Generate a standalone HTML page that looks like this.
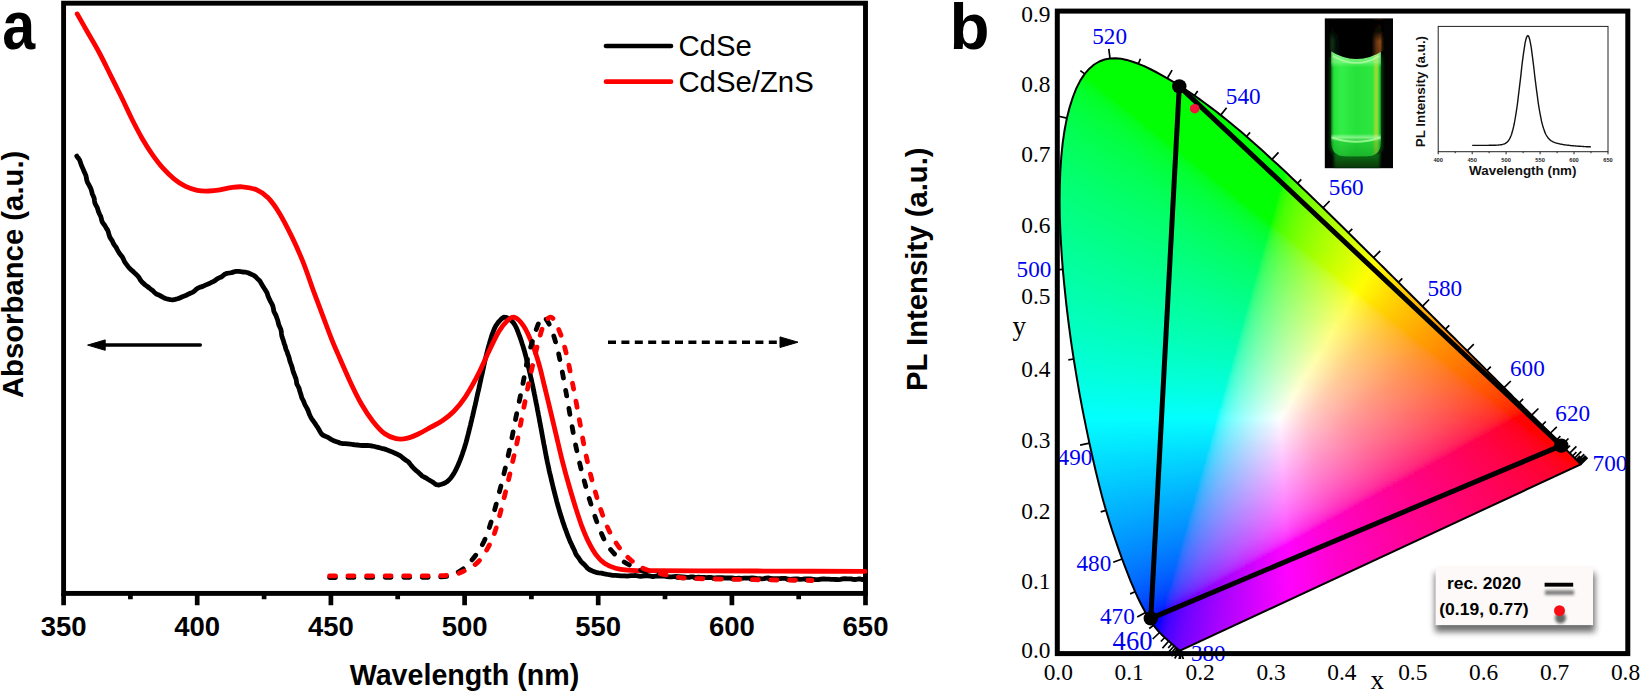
<!DOCTYPE html>
<html lang="en"><head><meta charset="utf-8"><title>CdSe / CdSe-ZnS absorbance, PL and CIE chromaticity</title>
<style>html,body{margin:0;padding:0;background:#fff}body{width:1641px;height:692px;overflow:hidden}svg{display:block}</style>
</head><body>
<svg width="1641" height="692" viewBox="0 0 1641 692">
<rect width="1641" height="692" fill="#fff"/>
<g id="panel-a">
<rect x="63.6" y="3.2" width="801.9" height="590.2" fill="none" stroke="#000" stroke-width="4.9"/>
<path d="M63.6 593.4V605.3M130.4 593.4V599.3M197.2 593.4V605.3M264.1 593.4V599.3M330.9 593.4V605.3M397.7 593.4V599.3M464.6 593.4V605.3M531.4 593.4V599.3M598.2 593.4V605.3M665 593.4V599.3M731.9 593.4V605.3M798.7 593.4V599.3M865.5 593.4V605.3" stroke="#000" stroke-width="4.7" fill="none"/>
<g font-family="'Liberation Sans', Arial, Helvetica, sans-serif" font-weight="700" font-size="27.5" text-anchor="middle" fill="#000">
<text x="63.6" y="636.4">350</text>
<text x="197.2" y="636.4">400</text>
<text x="330.9" y="636.4">450</text>
<text x="464.6" y="636.4">500</text>
<text x="598.2" y="636.4">550</text>
<text x="731.9" y="636.4">600</text>
<text x="865.5" y="636.4">650</text>
</g>
<text x="464.5" y="684.8" font-family="'Liberation Sans', Arial, Helvetica, sans-serif" font-weight="700" font-size="28.65" text-anchor="middle">Wavelength (nm)</text>
<text transform="translate(23.3 274.4) rotate(-90)" font-family="'Liberation Sans', Arial, Helvetica, sans-serif" font-weight="700" font-size="29.3" text-anchor="middle">Absorbance (a.u.)</text>
<text transform="translate(926.8 269.2) rotate(-90)" font-family="'Liberation Sans', Arial, Helvetica, sans-serif" font-weight="700" font-size="29.3" text-anchor="middle">PL Intensity (a.u.)</text>
<text transform="translate(2.2 49.3) scale(.87 1)" font-family="'Liberation Sans', Arial, Helvetica, sans-serif" font-weight="700" font-size="68">a</text>
<text x="949.5" y="48.5" font-family="'Liberation Sans', Arial, Helvetica, sans-serif" font-weight="700" font-size="65.5">b</text>
<g fill="none" stroke-width="4.8" stroke-linecap="round" stroke-linejoin="round">
<path d="M76.8 156.1L77.4 157.2L78.6 158.5L79.6 160L80.3 162L81 164.1L81.9 166.3L82.9 168.6L83.9 171L85 173.4L86 175.8L86.4 178.3L86.9 180.7L87.7 182.8L88.9 184.8L90 186.9L91 189.1L91.7 191.4L92.3 193.9L93.3 196.1L94.2 198.3L94.5 200.8L94.9 203.2L95.9 205.3L97.1 207.2L97.8 209.3L98.5 211.8L99.5 214L100.6 216.1L101.3 218.4L101.8 220.7L102.7 222.8L104.2 224.6L105.4 226.5L106.4 228.4L107.6 230.2L108.4 232.2L109 234.7L109.8 237.1L111.1 239.1L112.4 241.1L113.3 243.3L114.5 245.3L116 247.1L117 249.1L118.1 251.1L119.4 253.3L120.9 255.2L122.4 257.1L123.5 259.3L124.5 261.6L125.9 263.6L127.4 265.6L128.9 267.6L130.6 269.3L132.4 270.8L134.1 272.5L136 274.2L137.7 275.9L139.2 277.8L140.4 280L141.8 281.9L143.5 283.4L145.4 285.1L147.4 286.5L149.3 288L151.1 289.5L153 290.8L154.5 292.5L156.2 293.9L158.2 294.7L160.7 296L163.1 297.3L165.5 298.5L168 299.2L170.4 299.6L172.7 299.8L175.2 299.4L177.4 298.8L179.6 298.1L181.8 297L184.3 296.1L186.2 295.3L188.2 294.2L190.3 293.3L192.5 292.4L194.5 291L196.3 289.3L198.2 287.9L200.5 287.1L202.8 286.4L204.9 285.4L207.1 284.4L209.2 283.6L211.2 282.5L213.2 281.6L215.3 280.4L217.1 278.9L219.2 277.8L221.3 277L223 275.7L224.6 274.2L227 273.4L229.4 273L231.7 272.6L234 271.9L236.3 271.3L238.6 271.3L241 271.7L243.4 272L245.7 272.2L248 272.8L250.1 273.7L252.1 274.6L254.2 275.6L256 277.1L257.7 279L259.2 280.3L260.5 282L261.6 284.1L262.9 286.2L264.2 288.3L265.7 290.6L267.1 293L267.7 295.1L268.5 297.3L269.5 299.4L270.6 301.6L271.8 303.7L272.8 306L273.4 308.6L273.8 311.2L274.9 313.5L276 315.5L276.7 317.7L277.6 320L278.2 322.4L278.8 324.8L279.8 327.1L280.8 329.3L281.3 331.6L281.5 333.8L281.8 335.8L282.3 337.6L283.3 340.3L283.8 342.1L284.2 343.7L285 345.7L285.9 349.2L286.6 350.7L287.3 352.4L287.8 354.3L288.7 356.3L289.3 358.4L289.8 360.7L290.6 363L291.5 365.3L292.2 367.7L292.8 370.1L293.5 372.5L294.4 374.7L295.2 376.8L296 378.9L296.4 380.9L296.7 383.6L297.9 386L299.1 388.4L299.7 390.9L300.5 393.2L301.2 395.5L301.8 397.8L302.9 399.8L303.8 401.7L304.5 403.6L305.3 405.4L306.9 408.1L308 410.4L308.8 412.7L309.6 414.8L310.6 416.8L311.7 418.8L313.2 420.9L314.8 423.1L316.2 425.3L317.7 427.4L318.9 429.4L319.8 431.3L321.2 433.5L322.7 435L324.7 436L326.9 436.9L328.9 437.9L331 439.3L333.2 440.5L335.7 441.4L338.3 442.3L340.4 443.2L342.8 443.6L345.3 443.6L347.8 443.8L350.3 444.1L352.7 444.5L355.1 444.8L357.5 445L359.9 445.3L362.3 445.5L364.8 445.5L367.2 445.5L369.6 445.7L372.1 446L374.6 446.5L377 447.2L379.3 447.7L381.5 448.3L384.1 448.9L386.4 449.6L388.6 450.6L390.9 451.4L393.2 452.4L395.1 453.2L397.1 454.1L399 455.1L400.9 456.3L402.6 457.8L404.5 459.2L406.3 460.5L408.3 461.8L409.8 463.6L411.3 465.6L412.9 467.4L414.5 469.1L416.2 470.7L418.2 472.2L420.1 474L421.9 475.8L424 477L426.1 478L427.9 479.2L430.4 480.7L432.6 482L434.5 483.4L436.4 484.7L439 485L441.4 484.3L443.8 483.5L445.6 482.6L447.4 481.4L449.2 479.8L451 477.7L452.2 476L453.4 474.2L454.6 472.1L455.8 469.8L457 467.4L458.2 464.7L459 462.8L459.8 460.9L460.6 458.8L461.4 456.7L462.2 454.5L463 452.1L463.8 449.7L464.6 447.2L465.4 444.5L466 442.6L466.5 440.6L467.1 438.5L467.6 436.3L468.2 434.2L468.8 431.9L469.3 429.6L469.9 427.3L470.5 425L471 422.6L471.6 420.3L472.1 417.9L472.7 415.6L473.2 413.4L473.7 411.2L474.2 409L474.8 406.7L475.3 404.5L475.8 402.2L476.3 399.9L476.8 397.6L477.3 395.3L477.8 393L478.4 390.7L478.9 388.4L479.4 386.1L479.9 383.8L480.4 381.5L480.9 379.2L481.4 376.8L482 374.5L482.5 372.1L483 369.7L483.5 367.4L484 365L484.5 362.7L485 360.5L485.6 358.2L486.1 356.1L486.6 354L487.1 352L487.8 349.3L488.5 346.6L489.3 344L490 341.5L490.7 339.1L491.4 336.8L492.1 334.6L492.9 332.5L493.6 330.6L494.3 328.9L495.8 325.9L497.4 323.5L498.9 321.6L500.3 320.1L501.6 318.8L503.8 317.2L505.7 317.3L508.3 318.2L511 320.2L512.3 321.5L513.5 322.9L514.8 324.8L516.3 327.8L517 329.3L517.7 331.1L518.4 333L519.2 335.1L520 337.2L520.8 339.5L521.6 341.9L522.3 344.2L523.1 346.6L523.8 349L524.4 351L525 353.1L525.5 355.2L526.1 357.3L526.6 359.5L527.2 361.7L527.7 363.9L528.2 366.2L528.8 368.4L529.3 370.6L529.8 372.8L530.3 375L530.8 377.2L531.3 379.3L531.7 381.4L532.2 383.5L532.7 385.6L533.1 387.8L533.5 389.9L534 392L534.4 394.2L534.9 396.4L535.3 398.7L535.8 401L536.2 403.2L536.7 405.4L537.1 407.6L537.5 409.9L538 412.2L538.4 414.5L538.9 416.9L539.3 419.2L539.7 421.6L540.2 423.9L540.6 426.3L541.1 428.7L541.5 431L541.9 433.2L542.3 435.4L542.7 437.6L543.1 439.8L543.5 442L543.9 444.2L544.4 446.5L544.8 448.7L545.2 450.9L545.6 453.1L546 455.3L546.4 457.4L546.9 459.6L547.3 461.7L547.8 464L548.3 466.2L548.8 468.5L549.2 470.7L549.7 472.9L550.3 475.1L550.8 477.3L551.3 479.5L551.8 481.6L552.3 483.7L552.8 485.8L553.3 487.9L553.8 489.9L554.4 492.2L555 494.6L555.6 496.8L556.2 499.1L556.7 501.3L557.3 503.4L557.9 505.5L558.5 507.6L559.1 509.7L559.7 511.7L560.3 513.7L561 516.1L561.8 518.4L562.5 520.7L563.2 522.9L564 525.1L564.7 527.2L565.4 529.2L566.2 531.2L566.9 533.2L567.8 535.6L568.7 537.9L569.6 540.1L570.5 542.3L571.5 544.3L572.4 546.4L573.4 548.4L574.6 550.8L575.5 553.2L576.8 555.5L578.4 557.5L579.7 559.5L580.9 561.4L582.6 563.2L584.4 564.7L585.9 566.3L587.4 568.1L589.3 569.5L591.4 570.6L593.6 571.4L595.9 572.3L598.5 572.8L601.5 573.2L603.5 573.7L605.6 574.1L607.8 574.5L610.2 574.9L612.6 575.3L615.3 575.4L618.1 575.6L621 575.9L622.9 575.9L624.9 575.9L626.9 576.1L629 575.9L631.2 575.7L633.4 575.6L635.6 575.5L637.9 575.9L640.3 576.3L642.7 576L645.1 575.8L647.5 575.7L650 576L652 576.5L653.9 576.5L655.7 576.2L657.6 576.1L659.4 576.1L661.2 576L663.1 576L665 576.2L667 576.6L669.2 576.8L671.5 576.8L673.9 576.6L676.5 576.5L679.4 576.6L682.4 576.8L685.7 577.2L687.4 577.3L689.1 577.3L690.9 576.9L692.7 576.8L694.5 577.3L696.4 577.5L698.4 577.1L700.3 577.3L702.3 577.5L704.4 577.5L706.5 577.7L708.6 577.5L710.7 577.4L712.9 577.8L715.1 577.8L717.4 577.7L719.7 577.7L722 577.7L724.3 578L726.7 578L729.1 577.9L731.5 578L734 578.2L736.5 578.3L739 578.2L741.5 578.3L744.1 578.2L746.7 578.1L749.3 578.1L752 578L754.6 578.2L757.3 578.6L760 578.7L761.9 578.8L764 578.7L766 578.2L768.2 578L770.4 578.3L772.7 578.6L775 578.6L777.3 578.6L779.7 578.7L782.2 578.3L784.7 578.3L787.2 578.9L789.7 579.4L792.3 579.1L794.9 578.8L797.5 579L800.1 579.3L802.7 579.2L805.4 578.9L808 578.8L810.6 579L813.2 579.3L815.8 579.7L818.4 579.7L821 579.1L823.6 578.9L826.1 579.1L828.6 579.2L831.1 579.3L833.5 579.4L835.9 579.5L838.2 579.6L840.5 579.3L842.7 578.9L844.9 578.7L847 578.8L849 578.8L851 578.9L852.9 579.4L854.7 579.5L856.5 579.3L858.1 579L859.7 578.9L861.2 579.3L862.6 579.5L863.8 579.2L865 579.3" stroke="#000"/>
<path d="M77.2 13.9C78.9 16.9 83.7 25.4 87.3 31.8C90.9 38.1 95 44.8 98.9 52C102.8 59.2 106.7 67.4 110.5 75.1C114.3 82.8 118.4 90.9 122 98.3C125.6 105.7 128.7 112.8 132.1 119.5C135.5 126.2 138.9 132.8 142.3 138.7C145.7 144.5 149 149.8 152.4 154.6C155.8 159.4 158.9 163.6 162.5 167.6C166.1 171.6 170.2 175.7 174 178.8C177.8 181.9 181.7 184.5 185.6 186.4C189.5 188.3 193.3 189.5 197.2 190.3C201 191.1 204.9 191.1 208.7 191C212.5 190.9 216.4 190.4 220 189.8C223.6 189.2 226.8 188.2 230.5 187.7C234.2 187.2 237.8 186.5 242.1 186.8C246.4 187.1 252.2 187.9 256.5 189.7C260.8 191.5 264.2 193.8 268.1 197.8C272 201.8 275.9 207.4 279.7 213.7C283.5 220 287.3 227.5 291.2 235.4C295.1 243.3 298.9 251.8 302.8 261.4C306.7 271 310.9 284 314.3 293.2C317.7 302.4 320.1 308.6 323 316.3C325.9 324 329.1 333 331.7 339.4C334.2 345.8 335.3 348 338.3 354.9C341.3 361.8 346 372.7 349.8 380.9C353.6 389.1 357.5 397.2 361.4 404C365.3 410.8 369.1 416.5 373 421.4C376.9 426.3 380.6 430.6 384.5 433.5C388.4 436.4 392.2 437.9 396.1 438.7C400 439.5 403.8 439.1 407.6 438.2C411.5 437.3 415.3 435.3 419.2 433.5C423.1 431.7 426.9 429.3 430.8 427.2C434.7 425.1 438.5 423.4 442.3 420.8C446.1 418.2 450 415.3 453.9 411.3C457.8 407.3 461.5 402.6 465.4 396.8C469.2 391 473.1 384.1 477 376.6C480.9 369.1 485 359.5 488.6 352C492.2 344.5 495.6 337 498.7 331.8C501.8 326.6 504.7 323.2 507.3 320.8C509.9 318.4 511.6 316.4 514.4 317.3C517.1 318.2 520.8 321.7 523.8 326.3C526.8 330.9 530 338.4 532.5 344.7C535 351 537 357.3 539 364.2C541 371.1 542.6 378.5 544.4 385.9C546.2 393.3 548.1 401 549.9 408.6C551.7 416.2 553.2 422.5 555.3 431.4C557.4 440.2 560.2 452.7 562.5 461.7C564.8 470.7 566.8 477.9 569 485.5C571.2 493.1 573.3 500.3 575.5 507.2C577.7 514.1 579.8 520.9 582 526.7C584.2 532.5 586.1 537.2 588.5 541.9C590.9 546.6 593.4 551.3 596.1 554.9C598.8 558.5 601.5 561.4 604.8 563.6C608 565.8 611.8 567.2 615.6 568.3C619.4 569.4 621.8 569.7 627.5 570.1C633.2 570.5 637.9 570.6 650 570.7C662.1 570.8 678.3 570.7 700 570.8C721.7 570.9 752.5 571 780 571.1C807.5 571.2 850.8 571.4 865 571.4" stroke="#f00"/>
<path d="M329.6 577.5C341.3 577.5 381.6 577.4 400 577.3C418.4 577.2 431.3 577.5 440 577C448.7 576.5 448.1 575.9 452 574.5C455.9 573.1 459.4 572 463.4 568.8C467.4 565.6 472.2 560 475.8 555.1C479.4 550.2 482.2 545.5 484.9 539.5C487.6 533.5 489.2 528.2 492 519C494.8 509.8 498.5 495.6 501.4 484C504.3 472.4 507.1 460.8 509.5 449.6C511.9 438.4 514.1 426.5 516 417C517.9 407.5 519.6 399.6 521.1 392.5C522.6 385.4 523.5 380.6 524.7 374.5C525.9 368.4 526.8 361.7 528.3 355.7C529.8 349.7 531.6 343.9 533.4 338.3C535.2 332.7 537.4 325.5 539.2 322C541 318.5 542.3 316.4 544.2 317.3C546.1 318.2 548.6 322.7 550.7 327.5C552.8 332.3 555.1 340.2 556.8 346.3C558.5 352.4 559.5 358 560.8 364.3C562.1 370.6 563.4 377.9 564.5 383.9C565.6 389.9 566.4 394.4 567.5 400.5C568.6 406.6 569.8 413.9 571 420.5C572.2 427.1 573.3 433.5 574.6 440C575.9 446.5 577.4 453.4 578.8 459.5C580.2 465.6 581.6 471.1 583.1 476.7C584.6 482.3 586 487.4 587.6 493C589.2 498.6 591 504.6 593 510.5C595 516.4 596.9 522.5 599.4 528.5C601.9 534.5 604.4 541 608 546.2C611.6 551.4 616.1 555.9 621 559.7C625.9 563.5 632 566.5 637.5 568.8C643 571.1 647.8 572.4 653.8 573.7C659.8 575.1 666 576.1 673.4 576.9C680.8 577.6 674.9 577.7 698 578.2C721.1 578.7 793 579.7 812 580" stroke="#000" stroke-dasharray="5.9 12.6"/>
<path d="M329.6 575.8C341.3 575.8 380.5 575.9 400 575.8C419.5 575.7 435.7 576.1 446.5 575.3C457.3 574.4 459.3 573.1 464.7 570.7C470.1 568.3 474.9 565.3 479 561C483.1 556.7 486.6 550.5 489.5 544.7C492.4 539 493.8 535.8 496.6 526.5C499.4 517.2 503.4 500.6 506.3 489C509.2 477.4 512 464.2 513.7 457C515.4 449.8 515.1 451.8 516.3 446C517.5 440.2 519.4 430.3 521 422C522.6 413.7 524.7 403.1 526.1 396.1C527.5 389.1 528.1 385.9 529.3 380.2C530.5 374.5 531.9 368.6 533.4 362.2C534.9 355.8 536.7 348 538.4 341.9C540.1 335.8 541.6 329.4 543.5 325.3C545.4 321.2 547.9 317.8 549.8 317.2C551.7 316.6 553 318.1 555.1 321.7C557.2 325.3 560.3 333 562.3 339C564.3 345 565.8 351.7 567.3 357.8C568.8 363.9 569.8 369.9 571 375.9C572.2 381.9 573.2 386.6 574.6 394C576 401.4 577.8 411.2 579.4 420C581 428.8 582.7 438.7 584.2 446.5C585.8 454.3 587.1 460.2 588.7 467C590.3 473.8 592.1 480.6 593.9 487C595.7 493.4 597.4 499.4 599.4 505.5C601.4 511.6 603.5 518 605.9 523.5C608.2 529 610.4 533.8 613.5 538.8C616.6 543.8 620.1 549.3 624.3 553.8C628.4 558.3 633.9 562.8 638.4 565.7C642.9 568.6 645.5 569.5 651.3 571.3C657.1 573 665.6 575 673.4 576.2C681.2 577.4 674.9 577.9 698 578.6C721.1 579.3 793 580.2 812 580.5" stroke="#f00" stroke-dasharray="5.9 12.6"/>
</g>
<path d="M200.3 345.1H104" stroke="#000" stroke-width="3.5" stroke-linecap="round" fill="none"/>
<path d="M87.6 345.1L105.2 339.9V350.3Z" fill="#000" stroke="#000" stroke-width="1" stroke-linejoin="round"/>
<path d="M608 342.2H777" stroke="#000" stroke-width="3.4" stroke-dasharray="8 5.4" fill="none"/>
<path d="M798 342.2L780 336.9V347.5Z" fill="#000" stroke="#000" stroke-width="1" stroke-linejoin="round"/>
<path d="M606 46H671" stroke="#000" stroke-width="4.7" stroke-linecap="round"/>
<path d="M606 81.7H671" stroke="#f00" stroke-width="4.7" stroke-linecap="round"/>
<g font-family="'Liberation Sans', Arial, Helvetica, sans-serif" font-size="29.35" fill="#000">
<text x="678.4" y="55.8">CdSe</text>
<text x="678.4" y="91.8">CdSe/ZnS</text>
</g>
</g>
<g id="panel-b">
<defs>
<clipPath id="lc"><path d="M1181.1 650.2L1181.1 650.2L1181.1 650.1L1181.1 650.1L1181.1 650.1L1181.1 650.1L1181 650.2L1181 650.2L1181 650.2L1181 650.2L1180.9 650.2L1180.9 650.2L1180.9 650.2L1180.8 650.2L1180.8 650.2L1180.7 650.2L1180.7 650.2L1180.7 650.2L1180.7 650.2L1180.6 650.3L1180.6 650.3L1180.6 650.3L1180.5 650.3L1180.5 650.3L1180.4 650.3L1180.4 650.3L1180.3 650.3L1180.2 650.3L1180.2 650.3L1180.1 650.3L1180 650.3L1180 650.3L1179.9 650.3L1179.8 650.3L1179.8 650.3L1179.7 650.2L1179.6 650.2L1179.5 650.2L1179.5 650.2L1179.3 650.1L1179.2 650.1L1179.1 650L1178.9 649.9L1178.8 649.8L1178.6 649.7L1178.4 649.6L1178.2 649.4L1178.1 649.3L1177.9 649.1L1177.6 649L1177.4 648.8L1177.2 648.6L1176.9 648.4L1176.6 648.1L1176.3 647.9L1176 647.6L1175.7 647.3L1175.3 647L1175 646.7L1174.6 646.3L1174.2 645.9L1173.8 645.6L1173.4 645.2L1172.9 644.8L1172.4 644.3L1171.9 643.9L1171.3 643.4L1170.7 642.8L1170.1 642.3L1169.4 641.7L1168.7 641.1L1167.9 640.4L1167.2 639.7L1166.4 639L1165.5 638.3L1164.7 637.5L1163.7 636.6L1162.8 635.7L1161.8 634.7L1160.7 633.6L1159.6 632.5L1158.5 631.3L1157.4 630L1156.2 628.6L1154.9 627L1153.6 625.2L1152.2 623.2L1150.7 620.9L1149 618.4L1147.3 615.6L1145.5 612.4L1143.6 609L1141.6 605.3L1139.6 601.2L1137.4 596.7L1135.1 591.7L1132.8 586.2L1130.3 580.3L1127.7 573.7L1125 566.6L1122.1 559L1119.1 550.7L1116 541.7L1112.7 532L1109.4 521.6L1106 510.4L1102.6 498.4L1099.3 485.7L1096 472.3L1092.7 458.1L1089.4 443.1L1086.1 427.4L1082.8 411L1079.6 394.1L1076.6 376.7L1073.7 359L1071 341.1L1068.6 323.2L1066.4 305.1L1064.5 287.1L1062.8 269.3L1061.5 251.7L1060.5 234.5L1059.8 217.8L1059.6 201.7L1059.8 186.2L1060.3 171.1L1061.3 156.7L1062.7 142.9L1064.6 130L1066.9 118.1L1069.7 107.1L1072.9 97L1076.4 88.1L1080.4 80.4L1084.7 73.9L1089.3 68.7L1094.2 64.5L1099.3 61.5L1104.6 59.5L1110 58.4L1115.5 58.2L1121.1 58.7L1126.8 59.9L1132.6 61.7L1138.4 63.8L1144.2 66.2L1150.1 69L1155.9 72L1161.6 75.1L1167.3 78.3L1172.9 81.6L1178.4 85L1183.8 88.4L1189.2 92L1194.5 95.6L1199.8 99.4L1205.1 103.2L1210.3 107.1L1215.5 111L1220.7 115.1L1225.9 119.3L1231.1 123.5L1236.2 127.8L1241.4 132.1L1246.5 136.5L1251.6 141L1256.7 145.5L1261.8 150.1L1266.9 154.7L1272 159.4L1277.1 164.1L1282.2 168.8L1287.3 173.6L1292.4 178.4L1297.5 183.3L1302.6 188.2L1307.7 193L1312.8 198L1317.9 202.9L1323 207.8L1328.1 212.8L1333.2 217.8L1338.3 222.8L1343.4 227.7L1348.4 232.7L1353.5 237.7L1358.5 242.7L1363.6 247.7L1368.6 252.7L1373.6 257.6L1378.6 262.6L1383.6 267.5L1388.5 272.5L1393.5 277.4L1398.4 282.3L1403.2 287.1L1408.1 292L1412.9 296.8L1417.7 301.5L1422.4 306.3L1427.1 311L1431.8 315.6L1436.4 320.2L1440.9 324.7L1445.4 329.2L1449.9 333.7L1454.3 338L1458.6 342.4L1462.9 346.6L1467.1 350.8L1471.2 354.9L1475.3 359L1479.3 363L1483.1 366.8L1486.9 370.6L1490.5 374.2L1494.1 377.7L1497.5 381.2L1500.8 384.5L1504.1 387.7L1507.3 390.9L1510.4 394L1513.4 397.1L1516.4 400L1519.2 402.8L1521.9 405.5L1524.5 408.1L1527 410.5L1529.4 412.9L1531.7 415.2L1533.9 417.4L1536 419.5L1538.1 421.6L1540 423.5L1541.9 425.4L1543.7 427.2L1545.4 428.9L1547 430.5L1548.6 432.1L1550 433.5L1551.5 435L1552.8 436.3L1554.1 437.6L1555.3 438.8L1556.5 440L1557.7 441.1L1558.7 442.2L1559.8 443.2L1560.8 444.2L1561.7 445.2L1562.7 446.1L1563.6 447L1564.5 447.9L1565.3 448.7L1566.1 449.5L1566.9 450.3L1567.6 451.1L1568.3 451.8L1569 452.5L1569.7 453.1L1570.3 453.7L1570.9 454.3L1571.5 454.9L1572 455.4L1572.5 456L1573 456.4L1573.4 456.9L1573.9 457.3L1574.3 457.7L1574.6 458.1L1575 458.4L1575.3 458.8L1575.7 459.1L1576 459.4L1576.3 459.7L1576.5 460L1576.8 460.2L1577 460.5L1577.3 460.7L1577.5 460.9L1577.7 461.1L1577.8 461.3L1578 461.4L1578.1 461.6L1578.3 461.7L1578.4 461.8L1578.5 462L1578.7 462.1L1578.8 462.2L1578.9 462.3L1579 462.5L1579.1 462.6L1579.2 462.7L1579.3 462.8L1579.4 462.9L1579.5 463L1579.6 463.1L1579.7 463.2L1579.8 463.3L1579.9 463.4L1580 463.5L1580.1 463.5L1580.2 463.6L1580.3 463.7L1580.4 463.8L1580.4 463.9L1580.5 463.9L1580.5 464L1580.6 464L1580.6 464.1L1580.7 464.1L1580.7 464.1L1580.7 464.1L1580.7 464.2L1580.8 464.2L1580.8 464.2L1580.8 464.2L1580.8 464.3L1580.8 464.3L1580.8 464.3Z"/></clipPath>
<clipPath id="fc"><rect x="1055" y="9" width="575" height="650"/></clipPath>
<filter id="vb" filterUnits="userSpaceOnUse" x="1040" y="40" width="560" height="630"><feGaussianBlur stdDeviation="0 1.6"/></filter>
<linearGradient id="g0" gradientUnits="userSpaceOnUse" x1="1103.5" x2="1126"><stop offset="0" stop-color="#00ff00"/><stop offset="0.978" stop-color="#00ff00"/></linearGradient><linearGradient id="g1" gradientUnits="userSpaceOnUse" x1="1095.5" x2="1136.5"><stop offset="0" stop-color="#00ff00"/><stop offset="0.976" stop-color="#00ff00"/></linearGradient><linearGradient id="g2" gradientUnits="userSpaceOnUse" x1="1090.5" x2="1144.5"><stop offset="0" stop-color="#00ff00"/><stop offset="1" stop-color="#00ff00"/></linearGradient><linearGradient id="g3" gradientUnits="userSpaceOnUse" x1="1087" x2="1151"><stop offset="0" stop-color="#00ff00"/><stop offset="1" stop-color="#00ff00"/></linearGradient><linearGradient id="g4" gradientUnits="userSpaceOnUse" x1="1084.5" x2="1157"><stop offset="0" stop-color="#00ff00"/><stop offset="0.993" stop-color="#00ff00"/></linearGradient><linearGradient id="g5" gradientUnits="userSpaceOnUse" x1="1082" x2="1162.5"><stop offset="0" stop-color="#00ff00"/><stop offset="0.994" stop-color="#00ff00"/></linearGradient><linearGradient id="g6" gradientUnits="userSpaceOnUse" x1="1080" x2="1168"><stop offset="0" stop-color="#00ff05"/><stop offset="0.045" stop-color="#00ff00"/><stop offset="1" stop-color="#00ff00"/></linearGradient><linearGradient id="g7" gradientUnits="userSpaceOnUse" x1="1078" x2="1173"><stop offset="0" stop-color="#00ff18"/><stop offset="0.042" stop-color="#00ff0f"/><stop offset="0.063" stop-color="#00ff00"/><stop offset="0.989" stop-color="#00ff00"/></linearGradient><linearGradient id="g8" gradientUnits="userSpaceOnUse" x1="1076" x2="1178"><stop offset="0" stop-color="#00ff21"/><stop offset="0.098" stop-color="#00ff0e"/><stop offset="0.118" stop-color="#00ff00"/><stop offset="1" stop-color="#00ff00"/></linearGradient><linearGradient id="g9" gradientUnits="userSpaceOnUse" x1="1074.5" x2="1183"><stop offset="0" stop-color="#00ff27"/><stop offset="0.129" stop-color="#00ff12"/><stop offset="0.166" stop-color="#00ff00"/><stop offset="0.995" stop-color="#00ff00"/></linearGradient><linearGradient id="g10" gradientUnits="userSpaceOnUse" x1="1073.5" x2="1187.5"><stop offset="0" stop-color="#00ff2c"/><stop offset="0.158" stop-color="#00ff14"/><stop offset="0.175" stop-color="#00ff0e"/><stop offset="0.193" stop-color="#00ff00"/><stop offset="1" stop-color="#00ff00"/></linearGradient><linearGradient id="g11" gradientUnits="userSpaceOnUse" x1="1072" x2="1192"><stop offset="0" stop-color="#00ff30"/><stop offset="0.183" stop-color="#00ff17"/><stop offset="0.217" stop-color="#00ff0b"/><stop offset="0.233" stop-color="#00ff00"/><stop offset="1" stop-color="#00ff00"/></linearGradient><linearGradient id="g12" gradientUnits="userSpaceOnUse" x1="1071" x2="1196.5"><stop offset="0" stop-color="#00ff34"/><stop offset="0.191" stop-color="#00ff1c"/><stop offset="0.239" stop-color="#00ff0f"/><stop offset="0.255" stop-color="#00ff00"/><stop offset="0.988" stop-color="#00ff00"/></linearGradient><linearGradient id="g13" gradientUnits="userSpaceOnUse" x1="1070" x2="1201"><stop offset="0" stop-color="#00ff38"/><stop offset="0.229" stop-color="#00ff1a"/><stop offset="0.275" stop-color="#00ff09"/><stop offset="0.29" stop-color="#00ff00"/><stop offset="0.992" stop-color="#00ff00"/></linearGradient><linearGradient id="g14" gradientUnits="userSpaceOnUse" x1="1069" x2="1205"><stop offset="0" stop-color="#00ff3b"/><stop offset="0.235" stop-color="#00ff1f"/><stop offset="0.294" stop-color="#00ff0d"/><stop offset="0.309" stop-color="#00ff00"/><stop offset="1" stop-color="#00ff00"/></linearGradient><linearGradient id="g15" gradientUnits="userSpaceOnUse" x1="1068" x2="1209"><stop offset="0" stop-color="#00ff3e"/><stop offset="0.227" stop-color="#00ff25"/><stop offset="0.312" stop-color="#00ff10"/><stop offset="0.34" stop-color="#00ff00"/><stop offset="0.993" stop-color="#00ff00"/></linearGradient><linearGradient id="g16" gradientUnits="userSpaceOnUse" x1="1067" x2="1213"><stop offset="0" stop-color="#00ff41"/><stop offset="0.26" stop-color="#00ff24"/><stop offset="0.329" stop-color="#00ff12"/><stop offset="0.356" stop-color="#00ff00"/><stop offset="1" stop-color="#00ff00"/></linearGradient><linearGradient id="g17" gradientUnits="userSpaceOnUse" x1="1066" x2="1217"><stop offset="0" stop-color="#00ff44"/><stop offset="0.265" stop-color="#00ff27"/><stop offset="0.344" stop-color="#00ff14"/><stop offset="0.358" stop-color="#00ff0e"/><stop offset="0.371" stop-color="#00ff00"/><stop offset="0.993" stop-color="#00ff00"/></linearGradient><linearGradient id="g18" gradientUnits="userSpaceOnUse" x1="1065.5" x2="1221"><stop offset="0" stop-color="#00ff46"/><stop offset="0.27" stop-color="#00ff2a"/><stop offset="0.36" stop-color="#00ff15"/><stop offset="0.373" stop-color="#00ff0f"/><stop offset="0.386" stop-color="#00ff00"/><stop offset="0.99" stop-color="#00ff00"/></linearGradient><linearGradient id="g19" gradientUnits="userSpaceOnUse" x1="1064.5" x2="1225"><stop offset="0" stop-color="#00ff49"/><stop offset="0.262" stop-color="#00ff2e"/><stop offset="0.374" stop-color="#00ff17"/><stop offset="0.411" stop-color="#00ff00"/><stop offset="0.997" stop-color="#00ff00"/></linearGradient><linearGradient id="g20" gradientUnits="userSpaceOnUse" x1="1064" x2="1228.5"><stop offset="0" stop-color="#00ff4b"/><stop offset="0.28" stop-color="#00ff2f"/><stop offset="0.389" stop-color="#00ff18"/><stop offset="0.413" stop-color="#00ff0c"/><stop offset="0.426" stop-color="#00ff00"/><stop offset="0.997" stop-color="#00ff00"/></linearGradient><linearGradient id="g21" gradientUnits="userSpaceOnUse" x1="1063.5" x2="1232"><stop offset="0" stop-color="#00ff4e"/><stop offset="0.297" stop-color="#00ff2f"/><stop offset="0.404" stop-color="#00ff18"/><stop offset="0.427" stop-color="#00ff0d"/><stop offset="0.439" stop-color="#00ff00"/><stop offset="0.997" stop-color="#00ff00"/></linearGradient><linearGradient id="g22" gradientUnits="userSpaceOnUse" x1="1063" x2="1236"><stop offset="0" stop-color="#00ff50"/><stop offset="0.289" stop-color="#00ff33"/><stop offset="0.405" stop-color="#00ff1d"/><stop offset="0.439" stop-color="#00ff0e"/><stop offset="0.451" stop-color="#00ff00"/><stop offset="0.994" stop-color="#00ff00"/></linearGradient><linearGradient id="g23" gradientUnits="userSpaceOnUse" x1="1062" x2="1239.5"><stop offset="0" stop-color="#00ff52"/><stop offset="0.304" stop-color="#00ff34"/><stop offset="0.428" stop-color="#00ff1b"/><stop offset="0.451" stop-color="#00ff11"/><stop offset="0.473" stop-color="#00ff00"/><stop offset="0.992" stop-color="#00ff00"/></linearGradient><linearGradient id="g24" gradientUnits="userSpaceOnUse" x1="1061.5" x2="1243"><stop offset="0" stop-color="#00ff54"/><stop offset="0.298" stop-color="#00ff38"/><stop offset="0.43" stop-color="#00ff1f"/><stop offset="0.463" stop-color="#00ff12"/><stop offset="0.485" stop-color="#00ff00"/><stop offset="0.992" stop-color="#00ff00"/></linearGradient><linearGradient id="g25" gradientUnits="userSpaceOnUse" x1="1061" x2="1246.5"><stop offset="0" stop-color="#00ff56"/><stop offset="0.313" stop-color="#00ff38"/><stop offset="0.442" stop-color="#00ff1f"/><stop offset="0.485" stop-color="#00ff0b"/><stop offset="0.496" stop-color="#00ff00"/><stop offset="0.992" stop-color="#00ff00"/></linearGradient><linearGradient id="g26" gradientUnits="userSpaceOnUse" x1="1061" x2="1250"><stop offset="0" stop-color="#00ff58"/><stop offset="0.339" stop-color="#00ff37"/><stop offset="0.466" stop-color="#00ff1c"/><stop offset="0.497" stop-color="#00ff0a"/><stop offset="0.508" stop-color="#00ff00"/><stop offset="0.995" stop-color="#00ff00"/></linearGradient><linearGradient id="g27" gradientUnits="userSpaceOnUse" x1="1060.5" x2="1253.5"><stop offset="0" stop-color="#00ff5a"/><stop offset="0.342" stop-color="#00ff39"/><stop offset="0.466" stop-color="#00ff20"/><stop offset="0.508" stop-color="#00ff0b"/><stop offset="0.518" stop-color="#00ff00"/><stop offset="0.995" stop-color="#00ff00"/></linearGradient><linearGradient id="g28" gradientUnits="userSpaceOnUse" x1="1060" x2="1257"><stop offset="0" stop-color="#00ff5c"/><stop offset="0.355" stop-color="#00ff39"/><stop offset="0.477" stop-color="#00ff20"/><stop offset="0.518" stop-color="#00ff0d"/><stop offset="0.528" stop-color="#00ff00"/><stop offset="0.995" stop-color="#00ff00"/></linearGradient><linearGradient id="g29" gradientUnits="userSpaceOnUse" x1="1059.5" x2="1260"><stop offset="0" stop-color="#00ff5e"/><stop offset="0.339" stop-color="#00ff3e"/><stop offset="0.489" stop-color="#00ff21"/><stop offset="0.529" stop-color="#00ff0e"/><stop offset="0.539" stop-color="#00ff00"/><stop offset="0.998" stop-color="#00ff00"/></linearGradient><linearGradient id="g30" gradientUnits="userSpaceOnUse" x1="1059.5" x2="1263.5"><stop offset="0" stop-color="#00ff60"/><stop offset="0.333" stop-color="#00ff41"/><stop offset="0.49" stop-color="#00ff24"/><stop offset="0.539" stop-color="#00ff0d"/><stop offset="0.549" stop-color="#00ff00"/><stop offset="1" stop-color="#00ff00"/></linearGradient><linearGradient id="g31" gradientUnits="userSpaceOnUse" x1="1059" x2="1267"><stop offset="0" stop-color="#00ff62"/><stop offset="0.356" stop-color="#00ff40"/><stop offset="0.5" stop-color="#00ff24"/><stop offset="0.548" stop-color="#00ff0f"/><stop offset="0.558" stop-color="#00ff00"/><stop offset="1" stop-color="#00ff00"/></linearGradient><linearGradient id="g32" gradientUnits="userSpaceOnUse" x1="1058.5" x2="1270"><stop offset="0" stop-color="#00ff64"/><stop offset="0.359" stop-color="#00ff42"/><stop offset="0.511" stop-color="#00ff25"/><stop offset="0.558" stop-color="#00ff10"/><stop offset="0.567" stop-color="#00ff00"/><stop offset="0.993" stop-color="#00ff00"/></linearGradient><linearGradient id="g33" gradientUnits="userSpaceOnUse" x1="1058.5" x2="1273.5"><stop offset="0" stop-color="#00ff65"/><stop offset="0.335" stop-color="#00ff47"/><stop offset="0.502" stop-color="#00ff2a"/><stop offset="0.558" stop-color="#00ff16"/><stop offset="0.567" stop-color="#00ff0f"/><stop offset="0.577" stop-color="#00ff00"/><stop offset="0.995" stop-color="#00ff00"/></linearGradient><linearGradient id="g34" gradientUnits="userSpaceOnUse" x1="1058" x2="1276.5"><stop offset="0" stop-color="#00ff67"/><stop offset="0.348" stop-color="#00ff47"/><stop offset="0.503" stop-color="#00ff2d"/><stop offset="0.568" stop-color="#00ff16"/><stop offset="0.577" stop-color="#00ff10"/><stop offset="0.586" stop-color="#00ff00"/><stop offset="0.998" stop-color="#00ff00"/></linearGradient><linearGradient id="g35" gradientUnits="userSpaceOnUse" x1="1058" x2="1280"><stop offset="0" stop-color="#00ff69"/><stop offset="0.351" stop-color="#00ff49"/><stop offset="0.523" stop-color="#00ff2a"/><stop offset="0.577" stop-color="#00ff16"/><stop offset="0.586" stop-color="#00ff0f"/><stop offset="0.595" stop-color="#00ff00"/><stop offset="1" stop-color="#00ff00"/></linearGradient><linearGradient id="g36" gradientUnits="userSpaceOnUse" x1="1058" x2="1283"><stop offset="0" stop-color="#00ff6a"/><stop offset="0.356" stop-color="#00ff4a"/><stop offset="0.524" stop-color="#00ff2d"/><stop offset="0.587" stop-color="#00ff15"/><stop offset="0.596" stop-color="#00ff0e"/><stop offset="0.604" stop-color="#00ff00"/><stop offset="0.996" stop-color="#00ff00"/></linearGradient><linearGradient id="g37" gradientUnits="userSpaceOnUse" x1="1057.5" x2="1286.5"><stop offset="0" stop-color="#00ff6c"/><stop offset="0.358" stop-color="#00ff4c"/><stop offset="0.541" stop-color="#00ff2b"/><stop offset="0.594" stop-color="#00ff16"/><stop offset="0.603" stop-color="#00ff10"/><stop offset="0.611" stop-color="#00ff00"/><stop offset="0.996" stop-color="#00ff00"/></linearGradient><linearGradient id="g38" gradientUnits="userSpaceOnUse" x1="1057.5" x2="1289.5"><stop offset="0" stop-color="#00ff6e"/><stop offset="0.371" stop-color="#00ff4c"/><stop offset="0.534" stop-color="#00ff2f"/><stop offset="0.603" stop-color="#00ff16"/><stop offset="0.612" stop-color="#00ff0f"/><stop offset="0.621" stop-color="#00ff00"/><stop offset="0.983" stop-color="#00ff00"/><stop offset="0.991" stop-color="#1aff00"/><stop offset="1" stop-color="#28ff00"/></linearGradient><linearGradient id="g39" gradientUnits="userSpaceOnUse" x1="1057.5" x2="1293"><stop offset="0" stop-color="#00ff6f"/><stop offset="0.34" stop-color="#00ff51"/><stop offset="0.518" stop-color="#00ff35"/><stop offset="0.594" stop-color="#00ff1f"/><stop offset="0.62" stop-color="#00ff0e"/><stop offset="0.628" stop-color="#00ff00"/><stop offset="0.968" stop-color="#00ff00"/><stop offset="0.977" stop-color="#21ff00"/><stop offset="0.994" stop-color="#36ff00"/></linearGradient><linearGradient id="g40" gradientUnits="userSpaceOnUse" x1="1057.5" x2="1296"><stop offset="0" stop-color="#00ff71"/><stop offset="0.377" stop-color="#00ff4f"/><stop offset="0.553" stop-color="#00ff2f"/><stop offset="0.612" stop-color="#00ff1a"/><stop offset="0.629" stop-color="#00ff0c"/><stop offset="0.637" stop-color="#00ff00"/><stop offset="0.948" stop-color="#00ff00"/><stop offset="0.964" stop-color="#27ff00"/><stop offset="0.998" stop-color="#47ff00"/></linearGradient><linearGradient id="g41" gradientUnits="userSpaceOnUse" x1="1057" x2="1299"><stop offset="0" stop-color="#00ff73"/><stop offset="0.364" stop-color="#00ff52"/><stop offset="0.545" stop-color="#00ff34"/><stop offset="0.62" stop-color="#00ff1b"/><stop offset="0.636" stop-color="#00ff0e"/><stop offset="0.645" stop-color="#00ff00"/><stop offset="0.934" stop-color="#00ff00"/><stop offset="0.942" stop-color="#1aff00"/><stop offset="0.959" stop-color="#33ff00"/><stop offset="1" stop-color="#54ff00"/></linearGradient><linearGradient id="g42" gradientUnits="userSpaceOnUse" x1="1057" x2="1302.5"><stop offset="0" stop-color="#00ff74"/><stop offset="0.367" stop-color="#00ff54"/><stop offset="0.554" stop-color="#00ff34"/><stop offset="0.619" stop-color="#00ff1f"/><stop offset="0.644" stop-color="#00ff0d"/><stop offset="0.652" stop-color="#00ff00"/><stop offset="0.921" stop-color="#00ff00"/><stop offset="0.929" stop-color="#21ff00"/><stop offset="0.953" stop-color="#3fff00"/><stop offset="0.994" stop-color="#5bff00"/></linearGradient><linearGradient id="g43" gradientUnits="userSpaceOnUse" x1="1057" x2="1305.5"><stop offset="0" stop-color="#00ff76"/><stop offset="0.37" stop-color="#00ff55"/><stop offset="0.555" stop-color="#00ff36"/><stop offset="0.628" stop-color="#00ff1e"/><stop offset="0.652" stop-color="#00ff0c"/><stop offset="0.66" stop-color="#00ff00"/><stop offset="0.901" stop-color="#00ff00"/><stop offset="0.918" stop-color="#27ff00"/><stop offset="0.95" stop-color="#48ff00"/><stop offset="0.998" stop-color="#66ff00"/></linearGradient><linearGradient id="g44" gradientUnits="userSpaceOnUse" x1="1057" x2="1308.5"><stop offset="0" stop-color="#00ff78"/><stop offset="0.374" stop-color="#00ff56"/><stop offset="0.557" stop-color="#00ff38"/><stop offset="0.636" stop-color="#00ff1e"/><stop offset="0.652" stop-color="#00ff14"/><stop offset="0.668" stop-color="#00ff00"/><stop offset="0.891" stop-color="#00ff00"/><stop offset="0.899" stop-color="#1fff00"/><stop offset="0.922" stop-color="#3eff00"/><stop offset="0.978" stop-color="#64ff00"/><stop offset="0.994" stop-color="#6cff00"/></linearGradient><linearGradient id="g45" gradientUnits="userSpaceOnUse" x1="1057" x2="1311.5"><stop offset="0" stop-color="#00ff79"/><stop offset="0.377" stop-color="#00ff58"/><stop offset="0.566" stop-color="#00ff38"/><stop offset="0.644" stop-color="#00ff1e"/><stop offset="0.66" stop-color="#00ff13"/><stop offset="0.676" stop-color="#00ff00"/><stop offset="0.872" stop-color="#00ff00"/><stop offset="0.888" stop-color="#25ff00"/><stop offset="0.919" stop-color="#48ff00"/><stop offset="0.998" stop-color="#76ff00"/></linearGradient><linearGradient id="g46" gradientUnits="userSpaceOnUse" x1="1057" x2="1315"><stop offset="0" stop-color="#00ff7b"/><stop offset="0.388" stop-color="#00ff58"/><stop offset="0.574" stop-color="#00ff38"/><stop offset="0.651" stop-color="#00ff1e"/><stop offset="0.667" stop-color="#00ff12"/><stop offset="0.674" stop-color="#00ff05"/><stop offset="0.69" stop-color="#00ff00"/><stop offset="0.86" stop-color="#00ff00"/><stop offset="0.868" stop-color="#1cff00"/><stop offset="0.891" stop-color="#3dff00"/><stop offset="0.946" stop-color="#64ff00"/><stop offset="1" stop-color="#7fff00"/></linearGradient><linearGradient id="g47" gradientUnits="userSpaceOnUse" x1="1057" x2="1318"><stop offset="0" stop-color="#00ff7c"/><stop offset="0.368" stop-color="#00ff5c"/><stop offset="0.567" stop-color="#00ff3c"/><stop offset="0.644" stop-color="#00ff25"/><stop offset="0.674" stop-color="#00ff11"/><stop offset="0.682" stop-color="#00ff00"/><stop offset="0.843" stop-color="#00ff00"/><stop offset="0.851" stop-color="#0bff00"/><stop offset="0.858" stop-color="#23ff00"/><stop offset="0.889" stop-color="#47ff00"/><stop offset="0.95" stop-color="#6eff00"/><stop offset="0.996" stop-color="#84ff00"/></linearGradient><linearGradient id="g48" gradientUnits="userSpaceOnUse" x1="1057" x2="1321"><stop offset="0" stop-color="#00ff7e"/><stop offset="0.394" stop-color="#00ff5b"/><stop offset="0.591" stop-color="#00ff39"/><stop offset="0.667" stop-color="#00ff1d"/><stop offset="0.682" stop-color="#00ff11"/><stop offset="0.689" stop-color="#00ff00"/><stop offset="0.833" stop-color="#00ff00"/><stop offset="0.841" stop-color="#19ff00"/><stop offset="0.856" stop-color="#33ff00"/><stop offset="0.894" stop-color="#55ff00"/><stop offset="1" stop-color="#8dff00"/></linearGradient><linearGradient id="g49" gradientUnits="userSpaceOnUse" x1="1057" x2="1324"><stop offset="0" stop-color="#00ff7f"/><stop offset="0.375" stop-color="#00ff5f"/><stop offset="0.569" stop-color="#00ff40"/><stop offset="0.659" stop-color="#00ff25"/><stop offset="0.689" stop-color="#00ff10"/><stop offset="0.697" stop-color="#00ff00"/><stop offset="0.824" stop-color="#00ff00"/><stop offset="0.831" stop-color="#21ff00"/><stop offset="0.854" stop-color="#3fff00"/><stop offset="0.906" stop-color="#66ff00"/><stop offset="0.996" stop-color="#92ff00"/></linearGradient><linearGradient id="g50" gradientUnits="userSpaceOnUse" x1="1057" x2="1327"><stop offset="0" stop-color="#00ff81"/><stop offset="0.385" stop-color="#00ff5f"/><stop offset="0.578" stop-color="#00ff40"/><stop offset="0.667" stop-color="#00ff24"/><stop offset="0.696" stop-color="#00ff0f"/><stop offset="0.704" stop-color="#00ff00"/><stop offset="0.807" stop-color="#00ff00"/><stop offset="0.822" stop-color="#27ff00"/><stop offset="0.852" stop-color="#49ff00"/><stop offset="0.919" stop-color="#75ff00"/><stop offset="1" stop-color="#9aff00"/></linearGradient><linearGradient id="g51" gradientUnits="userSpaceOnUse" x1="1057" x2="1330"><stop offset="0" stop-color="#00ff82"/><stop offset="0.366" stop-color="#00ff63"/><stop offset="0.571" stop-color="#00ff44"/><stop offset="0.667" stop-color="#00ff28"/><stop offset="0.696" stop-color="#00ff16"/><stop offset="0.711" stop-color="#00ff00"/><stop offset="0.799" stop-color="#00ff00"/><stop offset="0.806" stop-color="#1eff00"/><stop offset="0.828" stop-color="#3fff00"/><stop offset="0.879" stop-color="#66ff00"/><stop offset="0.982" stop-color="#98ff00"/><stop offset="0.996" stop-color="#9eff00"/></linearGradient><linearGradient id="g52" gradientUnits="userSpaceOnUse" x1="1057" x2="1333.5"><stop offset="0" stop-color="#00ff84"/><stop offset="0.391" stop-color="#00ff62"/><stop offset="0.593" stop-color="#00ff41"/><stop offset="0.68" stop-color="#00ff24"/><stop offset="0.709" stop-color="#00ff0c"/><stop offset="0.716" stop-color="#00ff00"/><stop offset="0.781" stop-color="#00ff00"/><stop offset="0.788" stop-color="#0fff00"/><stop offset="0.796" stop-color="#25ff00"/><stop offset="0.825" stop-color="#49ff00"/><stop offset="0.897" stop-color="#79ff00"/><stop offset="0.998" stop-color="#a6ff00"/></linearGradient><linearGradient id="g53" gradientUnits="userSpaceOnUse" x1="1057" x2="1336.5"><stop offset="0" stop-color="#00ff86"/><stop offset="0.386" stop-color="#00ff64"/><stop offset="0.587" stop-color="#00ff44"/><stop offset="0.673" stop-color="#00ff2b"/><stop offset="0.708" stop-color="#00ff15"/><stop offset="0.723" stop-color="#00ff00"/><stop offset="0.773" stop-color="#00ff00"/><stop offset="0.78" stop-color="#1bff00"/><stop offset="0.794" stop-color="#35ff00"/><stop offset="0.83" stop-color="#57ff00"/><stop offset="0.902" stop-color="#82ff00"/><stop offset="0.995" stop-color="#abff00"/></linearGradient><linearGradient id="g54" gradientUnits="userSpaceOnUse" x1="1057" x2="1339.5"><stop offset="0" stop-color="#00ff87"/><stop offset="0.375" stop-color="#00ff67"/><stop offset="0.588" stop-color="#00ff46"/><stop offset="0.68" stop-color="#00ff2a"/><stop offset="0.715" stop-color="#00ff14"/><stop offset="0.729" stop-color="#00ff00"/><stop offset="0.765" stop-color="#00ff00"/><stop offset="0.772" stop-color="#22ff00"/><stop offset="0.793" stop-color="#41ff00"/><stop offset="0.85" stop-color="#6dff00"/><stop offset="0.977" stop-color="#aaff00"/><stop offset="0.998" stop-color="#b2ff00"/></linearGradient><linearGradient id="g55" gradientUnits="userSpaceOnUse" x1="1057" x2="1342.5"><stop offset="0" stop-color="#00ff89"/><stop offset="0.392" stop-color="#00ff67"/><stop offset="0.602" stop-color="#00ff45"/><stop offset="0.694" stop-color="#00ff27"/><stop offset="0.722" stop-color="#00ff13"/><stop offset="0.729" stop-color="#00ff04"/><stop offset="0.75" stop-color="#00ff00"/><stop offset="0.764" stop-color="#28ff00"/><stop offset="0.785" stop-color="#44ff00"/><stop offset="0.841" stop-color="#6fff00"/><stop offset="0.967" stop-color="#acff00"/><stop offset="0.995" stop-color="#b7ff00"/></linearGradient><linearGradient id="g56" gradientUnits="userSpaceOnUse" x1="1057" x2="1345.5"><stop offset="0" stop-color="#00ff8a"/><stop offset="0.381" stop-color="#00ff6a"/><stop offset="0.596" stop-color="#00ff48"/><stop offset="0.686" stop-color="#00ff2d"/><stop offset="0.721" stop-color="#00ff1a"/><stop offset="0.728" stop-color="#00ff12"/><stop offset="0.735" stop-color="#00ff00"/><stop offset="0.742" stop-color="#00ff00"/><stop offset="0.749" stop-color="#20ff00"/><stop offset="0.763" stop-color="#38ff00"/><stop offset="0.804" stop-color="#5fff00"/><stop offset="0.894" stop-color="#92ff00"/><stop offset="0.998" stop-color="#beff00"/></linearGradient><linearGradient id="g57" gradientUnits="userSpaceOnUse" x1="1057.5" x2="1348.5"><stop offset="0" stop-color="#00ff8c"/><stop offset="0.392" stop-color="#00ff6a"/><stop offset="0.598" stop-color="#00ff4a"/><stop offset="0.694" stop-color="#00ff2d"/><stop offset="0.729" stop-color="#00ff17"/><stop offset="0.735" stop-color="#19ff0f"/><stop offset="0.742" stop-color="#2aff00"/><stop offset="0.77" stop-color="#4cff00"/><stop offset="0.832" stop-color="#78ff00"/><stop offset="0.962" stop-color="#b6ff00"/><stop offset="0.997" stop-color="#c3ff00"/></linearGradient><linearGradient id="g58" gradientUnits="userSpaceOnUse" x1="1057.5" x2="1351.5"><stop offset="0" stop-color="#00ff8d"/><stop offset="0.381" stop-color="#00ff6d"/><stop offset="0.592" stop-color="#00ff4d"/><stop offset="0.701" stop-color="#00ff2d"/><stop offset="0.721" stop-color="#00ff22"/><stop offset="0.728" stop-color="#21ff1d"/><stop offset="0.741" stop-color="#39ff0d"/><stop offset="0.748" stop-color="#41ff00"/><stop offset="0.789" stop-color="#65ff00"/><stop offset="0.884" stop-color="#9aff00"/><stop offset="1" stop-color="#caff00"/></linearGradient><linearGradient id="g59" gradientUnits="userSpaceOnUse" x1="1057.5" x2="1354.5"><stop offset="0" stop-color="#00ff8f"/><stop offset="0.397" stop-color="#00ff6d"/><stop offset="0.606" stop-color="#00ff4c"/><stop offset="0.707" stop-color="#00ff2d"/><stop offset="0.721" stop-color="#28ff26"/><stop offset="0.741" stop-color="#45ff16"/><stop offset="0.754" stop-color="#52ff00"/><stop offset="0.822" stop-color="#80ff00"/><stop offset="0.963" stop-color="#c2ff00"/><stop offset="0.997" stop-color="#cfff00"/></linearGradient><linearGradient id="g60" gradientUnits="userSpaceOnUse" x1="1057.5" x2="1357.5"><stop offset="0" stop-color="#00ff90"/><stop offset="0.367" stop-color="#00ff72"/><stop offset="0.607" stop-color="#00ff4e"/><stop offset="0.7" stop-color="#00ff32"/><stop offset="0.707" stop-color="#1fff30"/><stop offset="0.727" stop-color="#41ff25"/><stop offset="0.747" stop-color="#55ff15"/><stop offset="0.76" stop-color="#60ff00"/><stop offset="0.847" stop-color="#94ff00"/><stop offset="1" stop-color="#d6ff00"/></linearGradient><linearGradient id="g61" gradientUnits="userSpaceOnUse" x1="1058" x2="1360.5"><stop offset="0" stop-color="#00ff92"/><stop offset="0.39" stop-color="#00ff71"/><stop offset="0.615" stop-color="#00ff4e"/><stop offset="0.688" stop-color="#00ff39"/><stop offset="0.701" stop-color="#29ff34"/><stop offset="0.727" stop-color="#4dff28"/><stop offset="0.754" stop-color="#63ff12"/><stop offset="0.76" stop-color="#68ff00"/><stop offset="0.846" stop-color="#9aff00"/><stop offset="0.998" stop-color="#dbff00"/></linearGradient><linearGradient id="g62" gradientUnits="userSpaceOnUse" x1="1058" x2="1364"><stop offset="0" stop-color="#00ff93"/><stop offset="0.379" stop-color="#00ff74"/><stop offset="0.608" stop-color="#00ff51"/><stop offset="0.68" stop-color="#00ff3e"/><stop offset="0.686" stop-color="#20ff3c"/><stop offset="0.699" stop-color="#39ff37"/><stop offset="0.739" stop-color="#61ff24"/><stop offset="0.758" stop-color="#6fff11"/><stop offset="0.765" stop-color="#74ff00"/><stop offset="0.882" stop-color="#b2ff00"/><stop offset="1" stop-color="#e2ff00"/></linearGradient><linearGradient id="g63" gradientUnits="userSpaceOnUse" x1="1058" x2="1367"><stop offset="0" stop-color="#00ff95"/><stop offset="0.395" stop-color="#00ff74"/><stop offset="0.621" stop-color="#00ff50"/><stop offset="0.667" stop-color="#00ff44"/><stop offset="0.68" stop-color="#27ff40"/><stop offset="0.699" stop-color="#45ff3a"/><stop offset="0.744" stop-color="#6dff24"/><stop offset="0.764" stop-color="#7aff10"/><stop offset="0.77" stop-color="#7eff00"/><stop offset="0.9" stop-color="#bfff00"/><stop offset="0.997" stop-color="#e7ff00"/></linearGradient><linearGradient id="g64" gradientUnits="userSpaceOnUse" x1="1058.5" x2="1370"><stop offset="0" stop-color="#00ff96"/><stop offset="0.392" stop-color="#00ff76"/><stop offset="0.616" stop-color="#00ff53"/><stop offset="0.661" stop-color="#00ff48"/><stop offset="0.668" stop-color="#22ff46"/><stop offset="0.687" stop-color="#43ff40"/><stop offset="0.732" stop-color="#6cff2e"/><stop offset="0.764" stop-color="#81ff16"/><stop offset="0.777" stop-color="#89ff00"/><stop offset="0.963" stop-color="#e0ff00"/><stop offset="0.995" stop-color="#ecff00"/></linearGradient><linearGradient id="g65" gradientUnits="userSpaceOnUse" x1="1058.5" x2="1373"><stop offset="0" stop-color="#00ff98"/><stop offset="0.388" stop-color="#00ff78"/><stop offset="0.63" stop-color="#00ff52"/><stop offset="0.649" stop-color="#00ff4d"/><stop offset="0.661" stop-color="#29ff4a"/><stop offset="0.687" stop-color="#4dff42"/><stop offset="0.738" stop-color="#77ff2e"/><stop offset="0.769" stop-color="#8bff16"/><stop offset="0.782" stop-color="#92ff00"/><stop offset="0.954" stop-color="#e2ff00"/><stop offset="0.998" stop-color="#f4ff00"/></linearGradient><linearGradient id="g66" gradientUnits="userSpaceOnUse" x1="1058.5" x2="1376"><stop offset="0" stop-color="#00ff99"/><stop offset="0.384" stop-color="#00ff7a"/><stop offset="0.598" stop-color="#00ff5a"/><stop offset="0.643" stop-color="#00ff51"/><stop offset="0.649" stop-color="#1fff4f"/><stop offset="0.661" stop-color="#39ff4c"/><stop offset="0.693" stop-color="#5cff43"/><stop offset="0.756" stop-color="#89ff26"/><stop offset="0.775" stop-color="#94ff15"/><stop offset="0.781" stop-color="#98ff04"/><stop offset="0.806" stop-color="#a5ff00"/><stop offset="0.995" stop-color="#f8ff00"/></linearGradient><linearGradient id="g67" gradientUnits="userSpaceOnUse" x1="1059" x2="1379"><stop offset="0" stop-color="#00ff9b"/><stop offset="0.381" stop-color="#00ff7c"/><stop offset="0.606" stop-color="#00ff5b"/><stop offset="0.631" stop-color="#00ff55"/><stop offset="0.644" stop-color="#2aff52"/><stop offset="0.669" stop-color="#4fff4c"/><stop offset="0.731" stop-color="#81ff36"/><stop offset="0.775" stop-color="#9bff1a"/><stop offset="0.781" stop-color="#9eff11"/><stop offset="0.787" stop-color="#a1ff00"/><stop offset="0.969" stop-color="#f4ff00"/><stop offset="1" stop-color="#fffe00"/></linearGradient><linearGradient id="g68" gradientUnits="userSpaceOnUse" x1="1059" x2="1382"><stop offset="0" stop-color="#00ff9c"/><stop offset="0.396" stop-color="#00ff7c"/><stop offset="0.601" stop-color="#00ff5e"/><stop offset="0.625" stop-color="#00ff59"/><stop offset="0.632" stop-color="#21ff57"/><stop offset="0.644" stop-color="#3aff54"/><stop offset="0.675" stop-color="#5eff4c"/><stop offset="0.749" stop-color="#92ff31"/><stop offset="0.78" stop-color="#a3ff19"/><stop offset="0.786" stop-color="#a7ff10"/><stop offset="0.793" stop-color="#aaff00"/><stop offset="0.978" stop-color="#feff00"/><stop offset="0.997" stop-color="#fff900"/></linearGradient><linearGradient id="g69" gradientUnits="userSpaceOnUse" x1="1059.5" x2="1385"><stop offset="0" stop-color="#00ff9e"/><stop offset="0.393" stop-color="#00ff7e"/><stop offset="0.614" stop-color="#00ff5d"/><stop offset="0.621" stop-color="#1aff5b"/><stop offset="0.627" stop-color="#2cff5a"/><stop offset="0.651" stop-color="#50ff54"/><stop offset="0.713" stop-color="#82ff42"/><stop offset="0.774" stop-color="#a6ff24"/><stop offset="0.786" stop-color="#adff17"/><stop offset="0.799" stop-color="#b3ff00"/><stop offset="0.971" stop-color="#fffd00"/><stop offset="0.995" stop-color="#fff400"/></linearGradient><linearGradient id="g70" gradientUnits="userSpaceOnUse" x1="1059.5" x2="1388"><stop offset="0" stop-color="#00ff9f"/><stop offset="0.384" stop-color="#00ff81"/><stop offset="0.609" stop-color="#00ff60"/><stop offset="0.615" stop-color="#23ff5f"/><stop offset="0.633" stop-color="#44ff5b"/><stop offset="0.676" stop-color="#6eff50"/><stop offset="0.755" stop-color="#a2ff33"/><stop offset="0.785" stop-color="#b2ff1e"/><stop offset="0.791" stop-color="#b5ff16"/><stop offset="0.798" stop-color="#b8ff07"/><stop offset="0.804" stop-color="#bbff00"/><stop offset="0.956" stop-color="#fffe00"/><stop offset="0.998" stop-color="#ffed00"/></linearGradient><linearGradient id="g71" gradientUnits="userSpaceOnUse" x1="1060" x2="1391"><stop offset="0" stop-color="#00ffa1"/><stop offset="0.381" stop-color="#00ff83"/><stop offset="0.598" stop-color="#00ff64"/><stop offset="0.604" stop-color="#1cff63"/><stop offset="0.616" stop-color="#39ff60"/><stop offset="0.653" stop-color="#63ff58"/><stop offset="0.725" stop-color="#97ff43"/><stop offset="0.779" stop-color="#b5ff27"/><stop offset="0.798" stop-color="#beff12"/><stop offset="0.804" stop-color="#c1ff00"/><stop offset="0.943" stop-color="#fffd00"/><stop offset="0.997" stop-color="#ffe800"/></linearGradient><linearGradient id="g72" gradientUnits="userSpaceOnUse" x1="1060" x2="1394"><stop offset="0" stop-color="#00ffa3"/><stop offset="0.407" stop-color="#00ff82"/><stop offset="0.593" stop-color="#00ff67"/><stop offset="0.599" stop-color="#25ff66"/><stop offset="0.617" stop-color="#46ff62"/><stop offset="0.659" stop-color="#70ff59"/><stop offset="0.749" stop-color="#aaff3b"/><stop offset="0.79" stop-color="#c0ff21"/><stop offset="0.802" stop-color="#c6ff11"/><stop offset="0.808" stop-color="#c9ff00"/><stop offset="0.928" stop-color="#fffd00"/><stop offset="1" stop-color="#ffe200"/></linearGradient><linearGradient id="g73" gradientUnits="userSpaceOnUse" x1="1060" x2="1397"><stop offset="0" stop-color="#00ffa4"/><stop offset="0.386" stop-color="#00ff86"/><stop offset="0.582" stop-color="#00ff6b"/><stop offset="0.593" stop-color="#2bff69"/><stop offset="0.611" stop-color="#49ff65"/><stop offset="0.659" stop-color="#77ff5b"/><stop offset="0.754" stop-color="#b3ff3c"/><stop offset="0.795" stop-color="#c8ff21"/><stop offset="0.807" stop-color="#ceff10"/><stop offset="0.813" stop-color="#d1ff00"/><stop offset="0.914" stop-color="#fffe00"/><stop offset="0.997" stop-color="#ffde00"/></linearGradient><linearGradient id="g74" gradientUnits="userSpaceOnUse" x1="1060.5" x2="1400"><stop offset="0" stop-color="#00ffa6"/><stop offset="0.401" stop-color="#00ff86"/><stop offset="0.571" stop-color="#00ff6e"/><stop offset="0.577" stop-color="#0bff6d"/><stop offset="0.583" stop-color="#26ff6c"/><stop offset="0.601" stop-color="#47ff69"/><stop offset="0.642" stop-color="#71ff61"/><stop offset="0.73" stop-color="#acff47"/><stop offset="0.789" stop-color="#cbff2a"/><stop offset="0.807" stop-color="#d4ff17"/><stop offset="0.813" stop-color="#d7ff08"/><stop offset="0.819" stop-color="#daff00"/><stop offset="0.901" stop-color="#fffd00"/><stop offset="0.996" stop-color="#ffd900"/></linearGradient><linearGradient id="g75" gradientUnits="userSpaceOnUse" x1="1061" x2="1403"><stop offset="0" stop-color="#00ffa7"/><stop offset="0.38" stop-color="#00ff8a"/><stop offset="0.567" stop-color="#00ff71"/><stop offset="0.573" stop-color="#20ff70"/><stop offset="0.585" stop-color="#3bff6e"/><stop offset="0.62" stop-color="#66ff67"/><stop offset="0.696" stop-color="#9eff55"/><stop offset="0.772" stop-color="#c8ff38"/><stop offset="0.807" stop-color="#daff1d"/><stop offset="0.813" stop-color="#ddff14"/><stop offset="0.819" stop-color="#e0ff00"/><stop offset="0.889" stop-color="#fffd00"/><stop offset="1" stop-color="#ffd300"/></linearGradient><linearGradient id="g76" gradientUnits="userSpaceOnUse" x1="1061" x2="1406"><stop offset="0" stop-color="#00ffa9"/><stop offset="0.388" stop-color="#00ff8b"/><stop offset="0.557" stop-color="#00ff75"/><stop offset="0.562" stop-color="#10ff74"/><stop offset="0.568" stop-color="#28ff73"/><stop offset="0.591" stop-color="#50ff6f"/><stop offset="0.638" stop-color="#7cff65"/><stop offset="0.742" stop-color="#beff48"/><stop offset="0.794" stop-color="#d9ff2d"/><stop offset="0.812" stop-color="#e2ff1c"/><stop offset="0.817" stop-color="#e5ff12"/><stop offset="0.823" stop-color="#e8ff00"/><stop offset="0.875" stop-color="#fffd00"/><stop offset="0.997" stop-color="#ffcf00"/></linearGradient><linearGradient id="g77" gradientUnits="userSpaceOnUse" x1="1061.5" x2="1409"><stop offset="0" stop-color="#00ffaa"/><stop offset="0.38" stop-color="#00ff8e"/><stop offset="0.553" stop-color="#00ff77"/><stop offset="0.558" stop-color="#22ff76"/><stop offset="0.576" stop-color="#46ff73"/><stop offset="0.622" stop-color="#76ff6b"/><stop offset="0.708" stop-color="#b1ff56"/><stop offset="0.788" stop-color="#dcff34"/><stop offset="0.812" stop-color="#e8ff21"/><stop offset="0.829" stop-color="#f1ff00"/><stop offset="0.863" stop-color="#fffd00"/><stop offset="0.978" stop-color="#ffd000"/><stop offset="0.996" stop-color="#ffcb00"/></linearGradient><linearGradient id="g78" gradientUnits="userSpaceOnUse" x1="1061.5" x2="1412"><stop offset="0" stop-color="#00ffac"/><stop offset="0.394" stop-color="#00ff8e"/><stop offset="0.542" stop-color="#00ff7b"/><stop offset="0.553" stop-color="#2aff79"/><stop offset="0.571" stop-color="#49ff76"/><stop offset="0.616" stop-color="#79ff6e"/><stop offset="0.713" stop-color="#baff56"/><stop offset="0.782" stop-color="#dfff3b"/><stop offset="0.816" stop-color="#f0ff21"/><stop offset="0.822" stop-color="#f3ff19"/><stop offset="0.833" stop-color="#f9ff00"/><stop offset="0.856" stop-color="#fffa00"/><stop offset="0.993" stop-color="#ffc700"/><stop offset="0.999" stop-color="#ffc600"/></linearGradient><linearGradient id="g79" gradientUnits="userSpaceOnUse" x1="1062" x2="1415"><stop offset="0" stop-color="#00ffae"/><stop offset="0.402" stop-color="#00ff8f"/><stop offset="0.538" stop-color="#00ff7d"/><stop offset="0.544" stop-color="#24ff7d"/><stop offset="0.555" stop-color="#3eff7b"/><stop offset="0.589" stop-color="#68ff75"/><stop offset="0.652" stop-color="#9aff68"/><stop offset="0.754" stop-color="#d6ff4a"/><stop offset="0.805" stop-color="#f0ff2f"/><stop offset="0.827" stop-color="#fcff15"/><stop offset="0.833" stop-color="#ffff00"/><stop offset="0.952" stop-color="#ffcf00"/><stop offset="0.997" stop-color="#ffc200"/></linearGradient><linearGradient id="g80" gradientUnits="userSpaceOnUse" x1="1062.5" x2="1418"><stop offset="0" stop-color="#00ffaf"/><stop offset="0.394" stop-color="#00ff92"/><stop offset="0.529" stop-color="#00ff81"/><stop offset="0.534" stop-color="#1dff80"/><stop offset="0.546" stop-color="#3bff7e"/><stop offset="0.574" stop-color="#61ff7a"/><stop offset="0.63" stop-color="#91ff6f"/><stop offset="0.748" stop-color="#d9ff4f"/><stop offset="0.81" stop-color="#f9ff2e"/><stop offset="0.827" stop-color="#fffc1b"/><stop offset="0.838" stop-color="#fff700"/><stop offset="0.956" stop-color="#ffc900"/><stop offset="0.996" stop-color="#ffbe00"/></linearGradient><linearGradient id="g81" gradientUnits="userSpaceOnUse" x1="1062.5" x2="1421"><stop offset="0" stop-color="#00ffb1"/><stop offset="0.391" stop-color="#00ff94"/><stop offset="0.524" stop-color="#00ff83"/><stop offset="0.53" stop-color="#26ff83"/><stop offset="0.547" stop-color="#48ff80"/><stop offset="0.58" stop-color="#6fff7b"/><stop offset="0.653" stop-color="#a7ff6c"/><stop offset="0.759" stop-color="#e5ff4d"/><stop offset="0.809" stop-color="#ffff32"/><stop offset="0.831" stop-color="#fff41a"/><stop offset="0.842" stop-color="#ffef00"/><stop offset="0.982" stop-color="#ffbd00"/><stop offset="0.999" stop-color="#ffb900"/></linearGradient><linearGradient id="g82" gradientUnits="userSpaceOnUse" x1="1063" x2="1424"><stop offset="0" stop-color="#00ffb2"/><stop offset="0.393" stop-color="#00ff96"/><stop offset="0.515" stop-color="#00ff87"/><stop offset="0.521" stop-color="#1fff86"/><stop offset="0.532" stop-color="#3cff84"/><stop offset="0.56" stop-color="#62ff80"/><stop offset="0.615" stop-color="#93ff76"/><stop offset="0.737" stop-color="#dfff57"/><stop offset="0.798" stop-color="#ffff3c"/><stop offset="0.831" stop-color="#ffee1e"/><stop offset="0.837" stop-color="#ffec16"/><stop offset="0.842" stop-color="#ffe900"/><stop offset="0.992" stop-color="#ffb600"/><stop offset="0.997" stop-color="#ffb500"/></linearGradient><linearGradient id="g83" gradientUnits="userSpaceOnUse" x1="1063" x2="1427"><stop offset="0" stop-color="#00ffb4"/><stop offset="0.39" stop-color="#00ff98"/><stop offset="0.505" stop-color="#00ff8a"/><stop offset="0.511" stop-color="#0aff89"/><stop offset="0.516" stop-color="#28ff89"/><stop offset="0.533" stop-color="#4aff86"/><stop offset="0.577" stop-color="#7bff7f"/><stop offset="0.67" stop-color="#beff6d"/><stop offset="0.78" stop-color="#fcff49"/><stop offset="0.83" stop-color="#ffea24"/><stop offset="0.841" stop-color="#ffe514"/><stop offset="0.846" stop-color="#ffe200"/><stop offset="0.989" stop-color="#ffb300"/><stop offset="1" stop-color="#ffb000"/></linearGradient><linearGradient id="g84" gradientUnits="userSpaceOnUse" x1="1063.5" x2="1430"><stop offset="0" stop-color="#00ffb6"/><stop offset="0.398" stop-color="#00ff99"/><stop offset="0.502" stop-color="#00ff8d"/><stop offset="0.508" stop-color="#22ff8c"/><stop offset="0.518" stop-color="#3eff8a"/><stop offset="0.551" stop-color="#6aff86"/><stop offset="0.617" stop-color="#a1ff7a"/><stop offset="0.737" stop-color="#ebff5c"/><stop offset="0.78" stop-color="#fffb4a"/><stop offset="0.835" stop-color="#ffe221"/><stop offset="0.846" stop-color="#ffdd0f"/><stop offset="0.851" stop-color="#ffdb00"/><stop offset="0.999" stop-color="#ffac00"/></linearGradient><linearGradient id="g85" gradientUnits="userSpaceOnUse" x1="1064" x2="1433"><stop offset="0" stop-color="#00ffb7"/><stop offset="0.39" stop-color="#00ff9c"/><stop offset="0.493" stop-color="#00ff90"/><stop offset="0.504" stop-color="#2dff8e"/><stop offset="0.526" stop-color="#55ff8b"/><stop offset="0.575" stop-color="#87ff84"/><stop offset="0.672" stop-color="#cbff71"/><stop offset="0.764" stop-color="#fffe54"/><stop offset="0.829" stop-color="#ffdf29"/><stop offset="0.846" stop-color="#ffd816"/><stop offset="0.856" stop-color="#ffd400"/><stop offset="0.997" stop-color="#ffa900"/></linearGradient><linearGradient id="g86" gradientUnits="userSpaceOnUse" x1="1064.5" x2="1436"><stop offset="0" stop-color="#00ffb9"/><stop offset="0.398" stop-color="#00ff9d"/><stop offset="0.485" stop-color="#00ff93"/><stop offset="0.49" stop-color="#0aff92"/><stop offset="0.495" stop-color="#28ff92"/><stop offset="0.506" stop-color="#41ff90"/><stop offset="0.533" stop-color="#67ff8c"/><stop offset="0.598" stop-color="#a0ff82"/><stop offset="0.727" stop-color="#f1ff64"/><stop offset="0.754" stop-color="#fffd5b"/><stop offset="0.834" stop-color="#ffd827"/><stop offset="0.851" stop-color="#ffd212"/><stop offset="0.856" stop-color="#ffd000"/><stop offset="0.996" stop-color="#ffa500"/></linearGradient><linearGradient id="g87" gradientUnits="userSpaceOnUse" x1="1064.5" x2="1439"><stop offset="0" stop-color="#00ffbb"/><stop offset="0.406" stop-color="#00ff9e"/><stop offset="0.481" stop-color="#00ff96"/><stop offset="0.486" stop-color="#1cff95"/><stop offset="0.497" stop-color="#3cff94"/><stop offset="0.529" stop-color="#6aff8f"/><stop offset="0.593" stop-color="#a2ff85"/><stop offset="0.726" stop-color="#f7ff67"/><stop offset="0.748" stop-color="#fffb5e"/><stop offset="0.833" stop-color="#ffd32a"/><stop offset="0.854" stop-color="#ffcb11"/><stop offset="0.86" stop-color="#ffca00"/><stop offset="0.999" stop-color="#ffa100"/></linearGradient><linearGradient id="g88" gradientUnits="userSpaceOnUse" x1="1065" x2="1442"><stop offset="0" stop-color="#00ffbc"/><stop offset="0.377" stop-color="#00ffa3"/><stop offset="0.472" stop-color="#00ff99"/><stop offset="0.477" stop-color="#10ff98"/><stop offset="0.483" stop-color="#2aff97"/><stop offset="0.499" stop-color="#4cff95"/><stop offset="0.536" stop-color="#79ff90"/><stop offset="0.61" stop-color="#b5ff84"/><stop offset="0.732" stop-color="#fffd67"/><stop offset="0.833" stop-color="#ffcf2c"/><stop offset="0.854" stop-color="#ffc717"/><stop offset="0.865" stop-color="#ffc300"/><stop offset="0.997" stop-color="#ff9d00"/></linearGradient><linearGradient id="g89" gradientUnits="userSpaceOnUse" x1="1065.5" x2="1445"><stop offset="0" stop-color="#00ffbe"/><stop offset="0.401" stop-color="#00ffa3"/><stop offset="0.469" stop-color="#00ff9b"/><stop offset="0.474" stop-color="#24ff9b"/><stop offset="0.485" stop-color="#40ff99"/><stop offset="0.516" stop-color="#6dff95"/><stop offset="0.58" stop-color="#a5ff8c"/><stop offset="0.711" stop-color="#fbff70"/><stop offset="0.754" stop-color="#ffec5b"/><stop offset="0.838" stop-color="#ffc82a"/><stop offset="0.859" stop-color="#ffc113"/><stop offset="0.864" stop-color="#ffbf00"/><stop offset="0.996" stop-color="#ff9a00"/></linearGradient><linearGradient id="g90" gradientUnits="userSpaceOnUse" x1="1065.5" x2="1448"><stop offset="0" stop-color="#00ffc0"/><stop offset="0.413" stop-color="#00ffa4"/><stop offset="0.46" stop-color="#00ff9e"/><stop offset="0.471" stop-color="#2cff9d"/><stop offset="0.486" stop-color="#4dff9b"/><stop offset="0.518" stop-color="#75ff97"/><stop offset="0.58" stop-color="#acff8e"/><stop offset="0.706" stop-color="#feff74"/><stop offset="0.816" stop-color="#ffcc3a"/><stop offset="0.858" stop-color="#ffbd1a"/><stop offset="0.863" stop-color="#ffbb12"/><stop offset="0.868" stop-color="#ffb900"/><stop offset="0.999" stop-color="#ff9500"/></linearGradient><linearGradient id="g91" gradientUnits="userSpaceOnUse" x1="1066" x2="1451"><stop offset="0" stop-color="#00ffc1"/><stop offset="0.39" stop-color="#00ffa8"/><stop offset="0.457" stop-color="#00ffa1"/><stop offset="0.462" stop-color="#26ffa0"/><stop offset="0.473" stop-color="#41ff9f"/><stop offset="0.499" stop-color="#68ff9c"/><stop offset="0.556" stop-color="#9fff94"/><stop offset="0.686" stop-color="#f8ff7c"/><stop offset="0.706" stop-color="#fff974"/><stop offset="0.816" stop-color="#ffc73b"/><stop offset="0.857" stop-color="#ffb91d"/><stop offset="0.868" stop-color="#ffb50d"/><stop offset="0.873" stop-color="#ffb400"/><stop offset="0.997" stop-color="#ff9200"/></linearGradient><linearGradient id="g92" gradientUnits="userSpaceOnUse" x1="1066.5" x2="1454"><stop offset="0" stop-color="#00ffc3"/><stop offset="0.403" stop-color="#00ffa9"/><stop offset="0.449" stop-color="#00ffa4"/><stop offset="0.454" stop-color="#1fffa3"/><stop offset="0.465" stop-color="#3effa2"/><stop offset="0.49" stop-color="#67ff9f"/><stop offset="0.552" stop-color="#a3ff97"/><stop offset="0.686" stop-color="#ffff7e"/><stop offset="0.785" stop-color="#ffce4d"/><stop offset="0.852" stop-color="#ffb625"/><stop offset="0.867" stop-color="#ffb114"/><stop offset="0.872" stop-color="#ffb006"/><stop offset="0.883" stop-color="#ffac00"/><stop offset="0.996" stop-color="#ff8f00"/></linearGradient><linearGradient id="g93" gradientUnits="userSpaceOnUse" x1="1067" x2="1457"><stop offset="0" stop-color="#00ffc5"/><stop offset="0.405" stop-color="#00ffab"/><stop offset="0.441" stop-color="#00ffa7"/><stop offset="0.451" stop-color="#2cffa6"/><stop offset="0.467" stop-color="#4fffa4"/><stop offset="0.508" stop-color="#82ff9f"/><stop offset="0.595" stop-color="#c9ff93"/><stop offset="0.677" stop-color="#ffff83"/><stop offset="0.764" stop-color="#ffd257"/><stop offset="0.851" stop-color="#ffb227"/><stop offset="0.872" stop-color="#ffac10"/><stop offset="0.877" stop-color="#ffaa00"/><stop offset="1" stop-color="#ff8a00"/></linearGradient><linearGradient id="g94" gradientUnits="userSpaceOnUse" x1="1067.5" x2="1460"><stop offset="0" stop-color="#00ffc7"/><stop offset="0.418" stop-color="#00ffac"/><stop offset="0.438" stop-color="#00ffaa"/><stop offset="0.443" stop-color="#27ffa9"/><stop offset="0.459" stop-color="#4cffa7"/><stop offset="0.489" stop-color="#76ffa4"/><stop offset="0.555" stop-color="#b2ff9b"/><stop offset="0.668" stop-color="#fffe87"/><stop offset="0.759" stop-color="#ffcf59"/><stop offset="0.851" stop-color="#ffae29"/><stop offset="0.871" stop-color="#ffa815"/><stop offset="0.882" stop-color="#ffa500"/><stop offset="0.999" stop-color="#ff8700"/></linearGradient><linearGradient id="g95" gradientUnits="userSpaceOnUse" x1="1068" x2="1463"><stop offset="0" stop-color="#00ffc8"/><stop offset="0.4" stop-color="#00ffb0"/><stop offset="0.43" stop-color="#00ffad"/><stop offset="0.435" stop-color="#1fffac"/><stop offset="0.446" stop-color="#3fffab"/><stop offset="0.476" stop-color="#6fffa8"/><stop offset="0.542" stop-color="#aeffa0"/><stop offset="0.658" stop-color="#fffe8b"/><stop offset="0.749" stop-color="#ffce5e"/><stop offset="0.851" stop-color="#ffaa2a"/><stop offset="0.876" stop-color="#ffa212"/><stop offset="0.881" stop-color="#ffa100"/><stop offset="0.997" stop-color="#ff8300"/></linearGradient><linearGradient id="g96" gradientUnits="userSpaceOnUse" x1="1068" x2="1466"><stop offset="0" stop-color="#00ffca"/><stop offset="0.392" stop-color="#00ffb3"/><stop offset="0.427" stop-color="#00ffaf"/><stop offset="0.432" stop-color="#29ffaf"/><stop offset="0.447" stop-color="#4effad"/><stop offset="0.482" stop-color="#7dffaa"/><stop offset="0.553" stop-color="#bcffa1"/><stop offset="0.648" stop-color="#fffe90"/><stop offset="0.739" stop-color="#ffce63"/><stop offset="0.854" stop-color="#ffa52a"/><stop offset="0.879" stop-color="#ff9d11"/><stop offset="0.884" stop-color="#ff9c00"/><stop offset="1" stop-color="#ff7f00"/></linearGradient><linearGradient id="g97" gradientUnits="userSpaceOnUse" x1="1068.5" x2="1469"><stop offset="0" stop-color="#00ffcc"/><stop offset="0.404" stop-color="#00ffb4"/><stop offset="0.419" stop-color="#00ffb2"/><stop offset="0.424" stop-color="#22ffb2"/><stop offset="0.434" stop-color="#41ffb1"/><stop offset="0.459" stop-color="#6affaf"/><stop offset="0.509" stop-color="#9fffa9"/><stop offset="0.619" stop-color="#f3ff99"/><stop offset="0.644" stop-color="#fffa92"/><stop offset="0.734" stop-color="#ffcb65"/><stop offset="0.849" stop-color="#ffa22e"/><stop offset="0.879" stop-color="#ff9a16"/><stop offset="0.889" stop-color="#ff9700"/><stop offset="0.999" stop-color="#ff7c00"/></linearGradient><linearGradient id="g98" gradientUnits="userSpaceOnUse" x1="1069" x2="1472"><stop offset="0" stop-color="#00ffce"/><stop offset="0.397" stop-color="#00ffb7"/><stop offset="0.412" stop-color="#00ffb6"/><stop offset="0.422" stop-color="#2fffb5"/><stop offset="0.437" stop-color="#51ffb3"/><stop offset="0.467" stop-color="#7bffb0"/><stop offset="0.536" stop-color="#bcffa8"/><stop offset="0.63" stop-color="#fffd98"/><stop offset="0.72" stop-color="#ffcc6b"/><stop offset="0.854" stop-color="#ff9d2d"/><stop offset="0.883" stop-color="#ff9413"/><stop offset="0.893" stop-color="#ff9200"/><stop offset="0.998" stop-color="#ff7800"/></linearGradient><linearGradient id="g99" gradientUnits="userSpaceOnUse" x1="1069.5" x2="1475"><stop offset="0" stop-color="#00ffd0"/><stop offset="0.409" stop-color="#00ffb8"/><stop offset="0.414" stop-color="#29ffb8"/><stop offset="0.424" stop-color="#45ffb7"/><stop offset="0.454" stop-color="#74ffb4"/><stop offset="0.513" stop-color="#afffae"/><stop offset="0.617" stop-color="#feff9f"/><stop offset="0.71" stop-color="#ffcb6f"/><stop offset="0.853" stop-color="#ff992e"/><stop offset="0.883" stop-color="#ff9117"/><stop offset="0.888" stop-color="#ff8f10"/><stop offset="0.893" stop-color="#ff8e00"/><stop offset="0.996" stop-color="#ff7500"/></linearGradient><linearGradient id="g100" gradientUnits="userSpaceOnUse" x1="1070" x2="1478"><stop offset="0" stop-color="#00ffd2"/><stop offset="0.402" stop-color="#00ffbb"/><stop offset="0.407" stop-color="#22ffbb"/><stop offset="0.417" stop-color="#42ffba"/><stop offset="0.446" stop-color="#72ffb7"/><stop offset="0.51" stop-color="#b3ffb1"/><stop offset="0.608" stop-color="#ffffa3"/><stop offset="0.691" stop-color="#ffcf78"/><stop offset="0.819" stop-color="#ff9f41"/><stop offset="0.882" stop-color="#ff8d1a"/><stop offset="0.892" stop-color="#ff8b0c"/><stop offset="0.897" stop-color="#ff8900"/><stop offset="1" stop-color="#ff7000"/></linearGradient><linearGradient id="g101" gradientUnits="userSpaceOnUse" x1="1070.5" x2="1481"><stop offset="0" stop-color="#00ffd3"/><stop offset="0.395" stop-color="#00ffbe"/><stop offset="0.404" stop-color="#30ffbe"/><stop offset="0.419" stop-color="#53ffbc"/><stop offset="0.453" stop-color="#83ffb9"/><stop offset="0.531" stop-color="#cbffb1"/><stop offset="0.599" stop-color="#ffffa7"/><stop offset="0.672" stop-color="#ffd380"/><stop offset="0.784" stop-color="#ffa650"/><stop offset="0.872" stop-color="#ff8c25"/><stop offset="0.892" stop-color="#ff8712"/><stop offset="0.896" stop-color="#ff8604"/><stop offset="0.916" stop-color="#ff8100"/><stop offset="0.999" stop-color="#ff6d00"/></linearGradient><linearGradient id="g102" gradientUnits="userSpaceOnUse" x1="1071" x2="1484"><stop offset="0" stop-color="#00ffd5"/><stop offset="0.392" stop-color="#00ffc1"/><stop offset="0.397" stop-color="#2affc1"/><stop offset="0.407" stop-color="#46ffc0"/><stop offset="0.436" stop-color="#76ffbd"/><stop offset="0.499" stop-color="#b7ffb7"/><stop offset="0.591" stop-color="#fffeab"/><stop offset="0.673" stop-color="#ffcd7f"/><stop offset="0.809" stop-color="#ff9a46"/><stop offset="0.877" stop-color="#ff8723"/><stop offset="0.896" stop-color="#ff820e"/><stop offset="0.901" stop-color="#ff8100"/><stop offset="0.998" stop-color="#ff6900"/></linearGradient><linearGradient id="g103" gradientUnits="userSpaceOnUse" x1="1071.5" x2="1487"><stop offset="0" stop-color="#00ffd7"/><stop offset="0.385" stop-color="#00ffc4"/><stop offset="0.39" stop-color="#23ffc4"/><stop offset="0.4" stop-color="#43ffc3"/><stop offset="0.419" stop-color="#66ffc2"/><stop offset="0.467" stop-color="#a0ffbd"/><stop offset="0.578" stop-color="#fdffb1"/><stop offset="0.674" stop-color="#ffc87e"/><stop offset="0.809" stop-color="#ff9646"/><stop offset="0.876" stop-color="#ff8325"/><stop offset="0.895" stop-color="#ff7e13"/><stop offset="0.905" stop-color="#ff7c00"/><stop offset="0.996" stop-color="#ff6600"/></linearGradient><linearGradient id="g104" gradientUnits="userSpaceOnUse" x1="1072" x2="1490"><stop offset="0" stop-color="#00ffd9"/><stop offset="0.378" stop-color="#00ffc7"/><stop offset="0.388" stop-color="#30ffc7"/><stop offset="0.402" stop-color="#54ffc6"/><stop offset="0.435" stop-color="#85ffc3"/><stop offset="0.502" stop-color="#c7ffbd"/><stop offset="0.574" stop-color="#fffdb3"/><stop offset="0.651" stop-color="#ffce88"/><stop offset="0.77" stop-color="#ff9e56"/><stop offset="0.871" stop-color="#ff8129"/><stop offset="0.895" stop-color="#ff7b17"/><stop offset="0.9" stop-color="#ff7910"/><stop offset="0.904" stop-color="#ff7800"/><stop offset="1" stop-color="#ff6100"/></linearGradient><linearGradient id="g105" gradientUnits="userSpaceOnUse" x1="1072.5" x2="1493"><stop offset="0" stop-color="#00ffdb"/><stop offset="0.376" stop-color="#00ffca"/><stop offset="0.38" stop-color="#2affca"/><stop offset="0.39" stop-color="#47ffc9"/><stop offset="0.414" stop-color="#71ffc7"/><stop offset="0.466" stop-color="#adffc3"/><stop offset="0.561" stop-color="#feffb9"/><stop offset="0.642" stop-color="#ffcd8c"/><stop offset="0.771" stop-color="#ff9a56"/><stop offset="0.875" stop-color="#ff7c28"/><stop offset="0.899" stop-color="#ff7614"/><stop offset="0.908" stop-color="#ff7300"/><stop offset="0.999" stop-color="#ff5e00"/></linearGradient><linearGradient id="g106" gradientUnits="userSpaceOnUse" x1="1073" x2="1496"><stop offset="0" stop-color="#00ffdd"/><stop offset="0.369" stop-color="#00ffcd"/><stop offset="0.374" stop-color="#23ffcd"/><stop offset="0.383" stop-color="#44ffcc"/><stop offset="0.402" stop-color="#68ffcb"/><stop offset="0.444" stop-color="#9effc8"/><stop offset="0.539" stop-color="#f3ffbf"/><stop offset="0.558" stop-color="#fffcba"/><stop offset="0.634" stop-color="#ffcc8f"/><stop offset="0.761" stop-color="#ff995a"/><stop offset="0.875" stop-color="#ff7829"/><stop offset="0.903" stop-color="#ff7112"/><stop offset="0.913" stop-color="#ff6f00"/><stop offset="0.998" stop-color="#ff5a00"/></linearGradient><linearGradient id="g107" gradientUnits="userSpaceOnUse" x1="1073.5" x2="1499"><stop offset="0" stop-color="#00ffdf"/><stop offset="0.362" stop-color="#00ffd0"/><stop offset="0.371" stop-color="#31ffd0"/><stop offset="0.385" stop-color="#56ffcf"/><stop offset="0.418" stop-color="#87ffcd"/><stop offset="0.484" stop-color="#cbffc8"/><stop offset="0.545" stop-color="#ffffc1"/><stop offset="0.63" stop-color="#ffc990"/><stop offset="0.757" stop-color="#ff965c"/><stop offset="0.879" stop-color="#ff7328"/><stop offset="0.907" stop-color="#ff6c0f"/><stop offset="0.912" stop-color="#ff6b00"/><stop offset="0.996" stop-color="#ff5600"/></linearGradient><linearGradient id="g108" gradientUnits="userSpaceOnUse" x1="1074" x2="1502"><stop offset="0" stop-color="#00ffe1"/><stop offset="0.36" stop-color="#00ffd3"/><stop offset="0.364" stop-color="#2bffd3"/><stop offset="0.374" stop-color="#48ffd3"/><stop offset="0.397" stop-color="#73ffd1"/><stop offset="0.444" stop-color="#abffce"/><stop offset="0.533" stop-color="#fcffc6"/><stop offset="0.631" stop-color="#ffc38f"/><stop offset="0.766" stop-color="#ff8f58"/><stop offset="0.883" stop-color="#ff6e26"/><stop offset="0.907" stop-color="#ff6813"/><stop offset="0.916" stop-color="#ff6600"/><stop offset="1" stop-color="#ff5100"/></linearGradient><linearGradient id="g109" gradientUnits="userSpaceOnUse" x1="1074.5" x2="1505"><stop offset="0" stop-color="#00ffe3"/><stop offset="0.353" stop-color="#00ffd7"/><stop offset="0.358" stop-color="#24ffd6"/><stop offset="0.367" stop-color="#45ffd6"/><stop offset="0.386" stop-color="#6affd5"/><stop offset="0.432" stop-color="#a6ffd2"/><stop offset="0.525" stop-color="#fcffca"/><stop offset="0.613" stop-color="#ffc797"/><stop offset="0.739" stop-color="#ff9463"/><stop offset="0.873" stop-color="#ff6d2d"/><stop offset="0.906" stop-color="#ff6417"/><stop offset="0.92" stop-color="#ff6100"/><stop offset="0.999" stop-color="#ff4d00"/></linearGradient><linearGradient id="g110" gradientUnits="userSpaceOnUse" x1="1075" x2="1508"><stop offset="0" stop-color="#00ffe5"/><stop offset="0.346" stop-color="#00ffda"/><stop offset="0.356" stop-color="#32ffd9"/><stop offset="0.37" stop-color="#57ffd9"/><stop offset="0.397" stop-color="#84ffd7"/><stop offset="0.471" stop-color="#d4ffd2"/><stop offset="0.522" stop-color="#fffdcd"/><stop offset="0.587" stop-color="#ffd0a3"/><stop offset="0.721" stop-color="#ff9669"/><stop offset="0.878" stop-color="#ff682c"/><stop offset="0.91" stop-color="#ff5f15"/><stop offset="0.915" stop-color="#ff5e0e"/><stop offset="0.919" stop-color="#ff5d00"/><stop offset="0.998" stop-color="#ff4800"/></linearGradient><linearGradient id="g111" gradientUnits="userSpaceOnUse" x1="1075.5" x2="1511.5"><stop offset="0" stop-color="#00ffe8"/><stop offset="0.344" stop-color="#00ffdd"/><stop offset="0.349" stop-color="#2cffdd"/><stop offset="0.358" stop-color="#4affdc"/><stop offset="0.381" stop-color="#75ffdb"/><stop offset="0.427" stop-color="#afffd8"/><stop offset="0.509" stop-color="#feffd3"/><stop offset="0.587" stop-color="#ffcaa2"/><stop offset="0.702" stop-color="#ff9870"/><stop offset="0.876" stop-color="#ff642d"/><stop offset="0.908" stop-color="#ff5b17"/><stop offset="0.922" stop-color="#ff5800"/><stop offset="1" stop-color="#ff4300"/></linearGradient><linearGradient id="g112" gradientUnits="userSpaceOnUse" x1="1076" x2="1514.5"><stop offset="0" stop-color="#00ffea"/><stop offset="0.338" stop-color="#00ffe0"/><stop offset="0.342" stop-color="#24ffe0"/><stop offset="0.351" stop-color="#46ffe0"/><stop offset="0.374" stop-color="#74ffde"/><stop offset="0.42" stop-color="#aeffdc"/><stop offset="0.502" stop-color="#feffd7"/><stop offset="0.579" stop-color="#ffc9a5"/><stop offset="0.698" stop-color="#ff9571"/><stop offset="0.88" stop-color="#ff5f2c"/><stop offset="0.912" stop-color="#ff5616"/><stop offset="0.921" stop-color="#ff5404"/><stop offset="0.94" stop-color="#ff4f00"/><stop offset="0.999" stop-color="#ff3e00"/></linearGradient><linearGradient id="g113" gradientUnits="userSpaceOnUse" x1="1076.5" x2="1517.5"><stop offset="0" stop-color="#00ffec"/><stop offset="0.331" stop-color="#00ffe3"/><stop offset="0.34" stop-color="#33ffe3"/><stop offset="0.354" stop-color="#59ffe3"/><stop offset="0.385" stop-color="#8dffe1"/><stop offset="0.458" stop-color="#ddffde"/><stop offset="0.494" stop-color="#ffffdb"/><stop offset="0.562" stop-color="#ffcdad"/><stop offset="0.662" stop-color="#ff9e7e"/><stop offset="0.853" stop-color="#ff6239"/><stop offset="0.907" stop-color="#ff531c"/><stop offset="0.921" stop-color="#ff4f0d"/><stop offset="0.925" stop-color="#ff4e00"/><stop offset="0.998" stop-color="#ff3800"/></linearGradient><linearGradient id="g114" gradientUnits="userSpaceOnUse" x1="1077" x2="1520.5"><stop offset="0" stop-color="#00ffee"/><stop offset="0.329" stop-color="#00ffe7"/><stop offset="0.334" stop-color="#2dffe6"/><stop offset="0.343" stop-color="#4bffe6"/><stop offset="0.365" stop-color="#78ffe5"/><stop offset="0.41" stop-color="#b2ffe3"/><stop offset="0.487" stop-color="#fffedf"/><stop offset="0.555" stop-color="#ffccb0"/><stop offset="0.654" stop-color="#ff9d81"/><stop offset="0.834" stop-color="#ff6341"/><stop offset="0.906" stop-color="#ff4f1e"/><stop offset="0.924" stop-color="#ff4a09"/><stop offset="0.929" stop-color="#ff4800"/><stop offset="0.997" stop-color="#ff3300"/></linearGradient><linearGradient id="g115" gradientUnits="userSpaceOnUse" x1="1077.5" x2="1523.5"><stop offset="0" stop-color="#00fff0"/><stop offset="0.323" stop-color="#00ffea"/><stop offset="0.327" stop-color="#25ffea"/><stop offset="0.336" stop-color="#48ffea"/><stop offset="0.359" stop-color="#76ffe9"/><stop offset="0.404" stop-color="#b2ffe7"/><stop offset="0.48" stop-color="#fffee3"/><stop offset="0.543" stop-color="#ffceb6"/><stop offset="0.641" stop-color="#ff9e86"/><stop offset="0.816" stop-color="#ff6448"/><stop offset="0.906" stop-color="#ff4a20"/><stop offset="0.924" stop-color="#ff450f"/><stop offset="0.928" stop-color="#ff4300"/><stop offset="1" stop-color="#ff2a00"/></linearGradient><linearGradient id="g116" gradientUnits="userSpaceOnUse" x1="1078" x2="1526.5"><stop offset="0" stop-color="#00fff3"/><stop offset="0.317" stop-color="#00ffed"/><stop offset="0.326" stop-color="#34ffed"/><stop offset="0.339" stop-color="#5bffed"/><stop offset="0.37" stop-color="#90ffec"/><stop offset="0.433" stop-color="#d9ffea"/><stop offset="0.473" stop-color="#fffde7"/><stop offset="0.535" stop-color="#ffcdb9"/><stop offset="0.633" stop-color="#ff9c89"/><stop offset="0.829" stop-color="#ff5c43"/><stop offset="0.91" stop-color="#ff441e"/><stop offset="0.928" stop-color="#ff3e0c"/><stop offset="0.932" stop-color="#ff3d00"/><stop offset="0.999" stop-color="#ff2200"/></linearGradient><linearGradient id="g117" gradientUnits="userSpaceOnUse" x1="1078.5" x2="1529.5"><stop offset="0" stop-color="#00fff5"/><stop offset="0.315" stop-color="#00fff1"/><stop offset="0.319" stop-color="#2efff1"/><stop offset="0.333" stop-color="#58fff0"/><stop offset="0.359" stop-color="#88fff0"/><stop offset="0.412" stop-color="#cbffee"/><stop offset="0.466" stop-color="#fffcea"/><stop offset="0.532" stop-color="#ffc9b9"/><stop offset="0.643" stop-color="#ff9484"/><stop offset="0.887" stop-color="#ff462c"/><stop offset="0.922" stop-color="#ff3a16"/><stop offset="0.936" stop-color="#ff3600"/><stop offset="0.998" stop-color="#ff1700"/></linearGradient><linearGradient id="g118" gradientUnits="userSpaceOnUse" x1="1079" x2="1532.5"><stop offset="0" stop-color="#00fff7"/><stop offset="0.309" stop-color="#00fff4"/><stop offset="0.313" stop-color="#26fff4"/><stop offset="0.318" stop-color="#3bfff4"/><stop offset="0.331" stop-color="#5ffff4"/><stop offset="0.362" stop-color="#94fff3"/><stop offset="0.428" stop-color="#e3fff2"/><stop offset="0.459" stop-color="#fffcee"/><stop offset="0.52" stop-color="#ffcbbf"/><stop offset="0.617" stop-color="#ff9a8e"/><stop offset="0.803" stop-color="#ff5b4d"/><stop offset="0.904" stop-color="#ff3b24"/><stop offset="0.931" stop-color="#ff310e"/><stop offset="0.935" stop-color="#ff2f00"/><stop offset="0.979" stop-color="#ff1700"/><stop offset="0.988" stop-color="#ff0d00"/><stop offset="0.992" stop-color="#ff0000"/><stop offset="0.997" stop-color="#ff0000"/></linearGradient><linearGradient id="g119" gradientUnits="userSpaceOnUse" x1="1079.5" x2="1535.5"><stop offset="0" stop-color="#00fffa"/><stop offset="0.303" stop-color="#00fff8"/><stop offset="0.311" stop-color="#35fff7"/><stop offset="0.325" stop-color="#5cfff7"/><stop offset="0.351" stop-color="#8cfff7"/><stop offset="0.399" stop-color="#cafff6"/><stop offset="0.447" stop-color="#fffff6"/><stop offset="0.509" stop-color="#ffcdc5"/><stop offset="0.596" stop-color="#ff9e96"/><stop offset="0.759" stop-color="#ff645c"/><stop offset="0.899" stop-color="#ff3728"/><stop offset="0.93" stop-color="#ff2a12"/><stop offset="0.939" stop-color="#ff2500"/><stop offset="0.965" stop-color="#ff1300"/><stop offset="0.969" stop-color="#ff0d00"/><stop offset="0.974" stop-color="#ff0000"/><stop offset="1" stop-color="#ff0000"/></linearGradient><linearGradient id="g120" gradientUnits="userSpaceOnUse" x1="1080.5" x2="1538.5"><stop offset="0" stop-color="#00fffc"/><stop offset="0.297" stop-color="#00fffb"/><stop offset="0.306" stop-color="#34fffb"/><stop offset="0.319" stop-color="#5cfffb"/><stop offset="0.345" stop-color="#8dfffb"/><stop offset="0.406" stop-color="#dbfffa"/><stop offset="0.441" stop-color="#fffef9"/><stop offset="0.493" stop-color="#ffd1cd"/><stop offset="0.572" stop-color="#ffa4a1"/><stop offset="0.707" stop-color="#ff706c"/><stop offset="0.895" stop-color="#ff312b"/><stop offset="0.93" stop-color="#ff2014"/><stop offset="0.934" stop-color="#ff1d0e"/><stop offset="0.939" stop-color="#ff1a00"/><stop offset="0.952" stop-color="#ff0b00"/><stop offset="0.956" stop-color="#ff0000"/><stop offset="1" stop-color="#ff0000"/></linearGradient><linearGradient id="g121" gradientUnits="userSpaceOnUse" x1="1081" x2="1541.5"><stop offset="0" stop-color="#00fffe"/><stop offset="0.295" stop-color="#00ffff"/><stop offset="0.3" stop-color="#2dffff"/><stop offset="0.308" stop-color="#4effff"/><stop offset="0.326" stop-color="#75ffff"/><stop offset="0.365" stop-color="#b1ffff"/><stop offset="0.43" stop-color="#fdffff"/><stop offset="0.499" stop-color="#ffc7c7"/><stop offset="0.591" stop-color="#ff9797"/><stop offset="0.777" stop-color="#ff5556"/><stop offset="0.899" stop-color="#ff2829"/><stop offset="0.929" stop-color="#ff1216"/><stop offset="0.938" stop-color="#ff000b"/><stop offset="0.942" stop-color="#ff0000"/><stop offset="0.999" stop-color="#ff0000"/></linearGradient><linearGradient id="g122" gradientUnits="userSpaceOnUse" x1="1081.5" x2="1544.5"><stop offset="0" stop-color="#00fdff"/><stop offset="0.289" stop-color="#00fcff"/><stop offset="0.294" stop-color="#24fcff"/><stop offset="0.298" stop-color="#3afcff"/><stop offset="0.311" stop-color="#60fcff"/><stop offset="0.341" stop-color="#96fbff"/><stop offset="0.406" stop-color="#e6fbff"/><stop offset="0.428" stop-color="#fefbff"/><stop offset="0.497" stop-color="#ffc3c7"/><stop offset="0.592" stop-color="#ff9296"/><stop offset="0.808" stop-color="#ff464c"/><stop offset="0.894" stop-color="#ff212c"/><stop offset="0.916" stop-color="#ff0c21"/><stop offset="0.92" stop-color="#ff001f"/><stop offset="0.937" stop-color="#ff000f"/><stop offset="0.946" stop-color="#ff0000"/><stop offset="0.998" stop-color="#ff0000"/></linearGradient><linearGradient id="g123" gradientUnits="userSpaceOnUse" x1="1082" x2="1547.5"><stop offset="0" stop-color="#00fbff"/><stop offset="0.284" stop-color="#00f8ff"/><stop offset="0.292" stop-color="#33f8ff"/><stop offset="0.301" stop-color="#51f8ff"/><stop offset="0.327" stop-color="#85f8ff"/><stop offset="0.374" stop-color="#c5f7ff"/><stop offset="0.425" stop-color="#fef6ff"/><stop offset="0.485" stop-color="#ffc5cd"/><stop offset="0.571" stop-color="#ff969e"/><stop offset="0.739" stop-color="#ff5862"/><stop offset="0.864" stop-color="#ff2939"/><stop offset="0.894" stop-color="#ff132d"/><stop offset="0.898" stop-color="#ff0d2b"/><stop offset="0.902" stop-color="#ff0029"/><stop offset="0.937" stop-color="#ff0013"/><stop offset="0.941" stop-color="#ff000d"/><stop offset="0.945" stop-color="#ff0000"/><stop offset="0.997" stop-color="#ff0000"/></linearGradient><linearGradient id="g124" gradientUnits="userSpaceOnUse" x1="1082.5" x2="1550.5"><stop offset="0" stop-color="#00f8ff"/><stop offset="0.282" stop-color="#00f5ff"/><stop offset="0.286" stop-color="#2cf5ff"/><stop offset="0.295" stop-color="#4cf5ff"/><stop offset="0.312" stop-color="#73f4ff"/><stop offset="0.35" stop-color="#adf3ff"/><stop offset="0.423" stop-color="#fff1ff"/><stop offset="0.479" stop-color="#ffc4d0"/><stop offset="0.568" stop-color="#ff939f"/><stop offset="0.735" stop-color="#ff5563"/><stop offset="0.85" stop-color="#ff273e"/><stop offset="0.876" stop-color="#ff1335"/><stop offset="0.88" stop-color="#ff0d33"/><stop offset="0.885" stop-color="#ff0032"/><stop offset="0.932" stop-color="#ff0019"/><stop offset="0.944" stop-color="#ff000a"/><stop offset="0.949" stop-color="#ff0000"/><stop offset="1" stop-color="#ff0000"/></linearGradient><linearGradient id="g125" gradientUnits="userSpaceOnUse" x1="1083.5" x2="1553.5"><stop offset="0" stop-color="#00f6ff"/><stop offset="0.277" stop-color="#00f1ff"/><stop offset="0.281" stop-color="#2af1ff"/><stop offset="0.289" stop-color="#4bf1ff"/><stop offset="0.311" stop-color="#79f1ff"/><stop offset="0.357" stop-color="#bbefff"/><stop offset="0.421" stop-color="#ffebfd"/><stop offset="0.477" stop-color="#ffbfcf"/><stop offset="0.57" stop-color="#ff8d9d"/><stop offset="0.745" stop-color="#ff4c60"/><stop offset="0.838" stop-color="#ff2443"/><stop offset="0.86" stop-color="#ff123c"/><stop offset="0.868" stop-color="#ff0039"/><stop offset="0.932" stop-color="#ff001a"/><stop offset="0.945" stop-color="#ff000d"/><stop offset="0.949" stop-color="#ff0000"/><stop offset="1" stop-color="#ff0000"/></linearGradient><linearGradient id="g126" gradientUnits="userSpaceOnUse" x1="1084" x2="1556.5"><stop offset="0" stop-color="#00f3ff"/><stop offset="0.271" stop-color="#00eeff"/><stop offset="0.275" stop-color="#20eeff"/><stop offset="0.279" stop-color="#37eeff"/><stop offset="0.292" stop-color="#5cedff"/><stop offset="0.317" stop-color="#8aedff"/><stop offset="0.368" stop-color="#ccebff"/><stop offset="0.415" stop-color="#fee9ff"/><stop offset="0.483" stop-color="#ffb5ca"/><stop offset="0.584" stop-color="#ff8397"/><stop offset="0.762" stop-color="#ff405b"/><stop offset="0.825" stop-color="#ff2147"/><stop offset="0.842" stop-color="#ff1242"/><stop offset="0.851" stop-color="#ff003f"/><stop offset="0.927" stop-color="#ff001f"/><stop offset="0.948" stop-color="#ff000a"/><stop offset="0.952" stop-color="#ff0000"/><stop offset="0.999" stop-color="#ff0000"/></linearGradient><linearGradient id="g127" gradientUnits="userSpaceOnUse" x1="1084.5" x2="1559.5"><stop offset="0" stop-color="#00f1ff"/><stop offset="0.265" stop-color="#00ebff"/><stop offset="0.269" stop-color="#11ebff"/><stop offset="0.274" stop-color="#30eaff"/><stop offset="0.282" stop-color="#4eeaff"/><stop offset="0.307" stop-color="#81e9ff"/><stop offset="0.362" stop-color="#c9e7ff"/><stop offset="0.413" stop-color="#fee4ff"/><stop offset="0.476" stop-color="#ffb4cd"/><stop offset="0.56" stop-color="#ff88a0"/><stop offset="0.728" stop-color="#ff4765"/><stop offset="0.813" stop-color="#ff1f4b"/><stop offset="0.829" stop-color="#ff0c46"/><stop offset="0.834" stop-color="#ff0045"/><stop offset="0.926" stop-color="#ff0020"/><stop offset="0.947" stop-color="#ff000e"/><stop offset="0.956" stop-color="#ff0000"/><stop offset="0.998" stop-color="#ff0000"/></linearGradient><linearGradient id="g128" gradientUnits="userSpaceOnUse" x1="1085" x2="1562.5"><stop offset="0" stop-color="#00eeff"/><stop offset="0.264" stop-color="#00e7ff"/><stop offset="0.268" stop-color="#29e7ff"/><stop offset="0.276" stop-color="#49e7ff"/><stop offset="0.297" stop-color="#77e6ff"/><stop offset="0.343" stop-color="#b7e4ff"/><stop offset="0.41" stop-color="#ffe0ff"/><stop offset="0.465" stop-color="#ffb5d2"/><stop offset="0.557" stop-color="#ff85a1"/><stop offset="0.712" stop-color="#ff486a"/><stop offset="0.792" stop-color="#ff2252"/><stop offset="0.808" stop-color="#ff134d"/><stop offset="0.817" stop-color="#ff004a"/><stop offset="0.921" stop-color="#ff0024"/><stop offset="0.947" stop-color="#ff0012"/><stop offset="0.955" stop-color="#ff0000"/><stop offset="0.997" stop-color="#ff0000"/></linearGradient><linearGradient id="g129" gradientUnits="userSpaceOnUse" x1="1086" x2="1565.5"><stop offset="0" stop-color="#00ecff"/><stop offset="0.259" stop-color="#00e4ff"/><stop offset="0.263" stop-color="#27e4ff"/><stop offset="0.271" stop-color="#48e3ff"/><stop offset="0.292" stop-color="#75e2ff"/><stop offset="0.334" stop-color="#b0e0ff"/><stop offset="0.405" stop-color="#fddcff"/><stop offset="0.48" stop-color="#ffa7c7"/><stop offset="0.584" stop-color="#ff7595"/><stop offset="0.759" stop-color="#ff2c5c"/><stop offset="0.788" stop-color="#ff1753"/><stop offset="0.801" stop-color="#ff004f"/><stop offset="0.918" stop-color="#ff0026"/><stop offset="0.951" stop-color="#ff000e"/><stop offset="0.959" stop-color="#ff0000"/><stop offset="0.997" stop-color="#ff0000"/></linearGradient><linearGradient id="g130" gradientUnits="userSpaceOnUse" x1="1086.5" x2="1568.5"><stop offset="0" stop-color="#00eaff"/><stop offset="0.253" stop-color="#00e1ff"/><stop offset="0.261" stop-color="#34e0ff"/><stop offset="0.274" stop-color="#59e0ff"/><stop offset="0.299" stop-color="#86deff"/><stop offset="0.349" stop-color="#c5dbff"/><stop offset="0.407" stop-color="#ffd5fc"/><stop offset="0.469" stop-color="#ffa8cc"/><stop offset="0.585" stop-color="#ff6f94"/><stop offset="0.743" stop-color="#ff2d61"/><stop offset="0.772" stop-color="#ff1758"/><stop offset="0.78" stop-color="#ff0b56"/><stop offset="0.784" stop-color="#ff0054"/><stop offset="0.913" stop-color="#ff0029"/><stop offset="0.95" stop-color="#ff0012"/><stop offset="0.959" stop-color="#ff0000"/><stop offset="1" stop-color="#ff0000"/></linearGradient><linearGradient id="g131" gradientUnits="userSpaceOnUse" x1="1087" x2="1571.5"><stop offset="0" stop-color="#00e7ff"/><stop offset="0.248" stop-color="#00deff"/><stop offset="0.252" stop-color="#09ddff"/><stop offset="0.256" stop-color="#2dddff"/><stop offset="0.264" stop-color="#4bddff"/><stop offset="0.285" stop-color="#76dcff"/><stop offset="0.326" stop-color="#afd9ff"/><stop offset="0.4" stop-color="#fed3ff"/><stop offset="0.466" stop-color="#ffa4cc"/><stop offset="0.578" stop-color="#ff6d96"/><stop offset="0.727" stop-color="#ff2d65"/><stop offset="0.76" stop-color="#ff135c"/><stop offset="0.768" stop-color="#ff0059"/><stop offset="0.912" stop-color="#ff002a"/><stop offset="0.949" stop-color="#ff0014"/><stop offset="0.962" stop-color="#ff0000"/><stop offset="0.999" stop-color="#ff0000"/></linearGradient><linearGradient id="g132" gradientUnits="userSpaceOnUse" x1="1087.5" x2="1574.5"><stop offset="0" stop-color="#00e5ff"/><stop offset="0.246" stop-color="#00daff"/><stop offset="0.251" stop-color="#26daff"/><stop offset="0.259" stop-color="#46daff"/><stop offset="0.279" stop-color="#73d8ff"/><stop offset="0.32" stop-color="#add5ff"/><stop offset="0.398" stop-color="#ffcfff"/><stop offset="0.464" stop-color="#ffa0cc"/><stop offset="0.579" stop-color="#ff6895"/><stop offset="0.71" stop-color="#ff2e6a"/><stop offset="0.743" stop-color="#ff1360"/><stop offset="0.752" stop-color="#ff005e"/><stop offset="0.912" stop-color="#ff002b"/><stop offset="0.953" stop-color="#ff0013"/><stop offset="0.957" stop-color="#ff000e"/><stop offset="0.961" stop-color="#ff0002"/><stop offset="0.998" stop-color="#ff0000"/></linearGradient><linearGradient id="g133" gradientUnits="userSpaceOnUse" x1="1088.5" x2="1577.5"><stop offset="0" stop-color="#00e2ff"/><stop offset="0.241" stop-color="#00d7ff"/><stop offset="0.245" stop-color="#23d7ff"/><stop offset="0.254" stop-color="#45d6ff"/><stop offset="0.274" stop-color="#72d5ff"/><stop offset="0.319" stop-color="#b0d2ff"/><stop offset="0.393" stop-color="#fdcbff"/><stop offset="0.47" stop-color="#ff96c7"/><stop offset="0.573" stop-color="#ff6597"/><stop offset="0.695" stop-color="#ff2e6e"/><stop offset="0.728" stop-color="#ff1265"/><stop offset="0.736" stop-color="#ff0062"/><stop offset="0.908" stop-color="#ff002d"/><stop offset="0.953" stop-color="#ff0014"/><stop offset="0.965" stop-color="#ff0000"/><stop offset="0.998" stop-color="#ff0000"/></linearGradient><linearGradient id="g134" gradientUnits="userSpaceOnUse" x1="1089" x2="1580.5"><stop offset="0" stop-color="#00e0ff"/><stop offset="0.236" stop-color="#00d4ff"/><stop offset="0.244" stop-color="#31d4ff"/><stop offset="0.256" stop-color="#56d3ff"/><stop offset="0.289" stop-color="#8ed0ff"/><stop offset="0.35" stop-color="#d5cbff"/><stop offset="0.395" stop-color="#ffc4fd"/><stop offset="0.468" stop-color="#ff92c7"/><stop offset="0.574" stop-color="#ff6096"/><stop offset="0.692" stop-color="#ff266f"/><stop offset="0.712" stop-color="#ff1269"/><stop offset="0.72" stop-color="#ff0067"/><stop offset="0.911" stop-color="#ff002c"/><stop offset="0.952" stop-color="#ff0016"/><stop offset="0.96" stop-color="#ff000e"/><stop offset="0.964" stop-color="#ff0003"/><stop offset="0.997" stop-color="#ff0000"/></linearGradient><linearGradient id="g135" gradientUnits="userSpaceOnUse" x1="1089.5" x2="1583.5"><stop offset="0" stop-color="#00ddff"/><stop offset="0.235" stop-color="#00d1ff"/><stop offset="0.239" stop-color="#2bd0ff"/><stop offset="0.251" stop-color="#52d0ff"/><stop offset="0.275" stop-color="#7fceff"/><stop offset="0.324" stop-color="#bdc9ff"/><stop offset="0.389" stop-color="#fec2ff"/><stop offset="0.457" stop-color="#ff93cc"/><stop offset="0.555" stop-color="#ff639d"/><stop offset="0.676" stop-color="#ff2774"/><stop offset="0.696" stop-color="#ff136e"/><stop offset="0.704" stop-color="#ff006b"/><stop offset="0.911" stop-color="#ff002d"/><stop offset="0.955" stop-color="#ff0015"/><stop offset="0.964" stop-color="#ff000b"/><stop offset="0.968" stop-color="#ff0000"/><stop offset="1" stop-color="#ff0000"/></linearGradient><linearGradient id="g136" gradientUnits="userSpaceOnUse" x1="1090.5" x2="1583"><stop offset="0" stop-color="#00dbff"/><stop offset="0.231" stop-color="#00ceff"/><stop offset="0.236" stop-color="#29cdff"/><stop offset="0.244" stop-color="#47cdff"/><stop offset="0.264" stop-color="#71cbff"/><stop offset="0.309" stop-color="#aec7ff"/><stop offset="0.39" stop-color="#ffbdfe"/><stop offset="0.455" stop-color="#ff90ce"/><stop offset="0.556" stop-color="#ff5e9d"/><stop offset="0.662" stop-color="#ff2979"/><stop offset="0.686" stop-color="#ff1172"/><stop offset="0.694" stop-color="#ff0070"/><stop offset="0.922" stop-color="#ff002c"/><stop offset="0.962" stop-color="#ff0016"/><stop offset="0.971" stop-color="#ff000e"/><stop offset="0.979" stop-color="#ff0000"/><stop offset="0.999" stop-color="#ff0000"/></linearGradient><linearGradient id="g137" gradientUnits="userSpaceOnUse" x1="1091" x2="1582.5"><stop offset="0" stop-color="#00d9ff"/><stop offset="0.228" stop-color="#00cbff"/><stop offset="0.232" stop-color="#20caff"/><stop offset="0.236" stop-color="#35caff"/><stop offset="0.252" stop-color="#5fc9ff"/><stop offset="0.285" stop-color="#92c6ff"/><stop offset="0.35" stop-color="#dabeff"/><stop offset="0.391" stop-color="#ffb8fe"/><stop offset="0.456" stop-color="#ff8cce"/><stop offset="0.553" stop-color="#ff5c9f"/><stop offset="0.651" stop-color="#ff2a7e"/><stop offset="0.675" stop-color="#ff1276"/><stop offset="0.684" stop-color="#ff0074"/><stop offset="0.924" stop-color="#ff002e"/><stop offset="0.973" stop-color="#ff0015"/><stop offset="0.981" stop-color="#ff000b"/><stop offset="0.985" stop-color="#ff0000"/><stop offset="0.997" stop-color="#ff0000"/></linearGradient><linearGradient id="g138" gradientUnits="userSpaceOnUse" x1="1092" x2="1579.5"><stop offset="0" stop-color="#00d6ff"/><stop offset="0.226" stop-color="#00c8ff"/><stop offset="0.23" stop-color="#1ec7ff"/><stop offset="0.234" stop-color="#33c7ff"/><stop offset="0.246" stop-color="#56c6ff"/><stop offset="0.275" stop-color="#86c3ff"/><stop offset="0.336" stop-color="#ccbcff"/><stop offset="0.39" stop-color="#feb5ff"/><stop offset="0.455" stop-color="#ff8ad0"/><stop offset="0.554" stop-color="#ff59a1"/><stop offset="0.648" stop-color="#ff2781"/><stop offset="0.669" stop-color="#ff107b"/><stop offset="0.673" stop-color="#ff0079"/><stop offset="0.939" stop-color="#ff002d"/><stop offset="0.985" stop-color="#ff0016"/><stop offset="0.993" stop-color="#ff000e"/><stop offset="0.997" stop-color="#ff0004"/></linearGradient><linearGradient id="g139" gradientUnits="userSpaceOnUse" x1="1092.5" x2="1573"><stop offset="0" stop-color="#00d4ff"/><stop offset="0.225" stop-color="#00c5ff"/><stop offset="0.229" stop-color="#10c4ff"/><stop offset="0.233" stop-color="#2dc4ff"/><stop offset="0.246" stop-color="#52c3ff"/><stop offset="0.275" stop-color="#83c0ff"/><stop offset="0.329" stop-color="#c1baff"/><stop offset="0.395" stop-color="#ffb0ff"/><stop offset="0.462" stop-color="#ff85d0"/><stop offset="0.566" stop-color="#ff52a0"/><stop offset="0.645" stop-color="#ff2785"/><stop offset="0.666" stop-color="#ff117f"/><stop offset="0.67" stop-color="#ff007e"/><stop offset="0.953" stop-color="#ff002f"/><stop offset="0.999" stop-color="#ff001a"/></linearGradient><linearGradient id="g140" gradientUnits="userSpaceOnUse" x1="1093" x2="1566.5"><stop offset="0" stop-color="#00d1ff"/><stop offset="0.228" stop-color="#00c2ff"/><stop offset="0.232" stop-color="#26c1ff"/><stop offset="0.241" stop-color="#44c0ff"/><stop offset="0.258" stop-color="#67bfff"/><stop offset="0.296" stop-color="#9bbbff"/><stop offset="0.376" stop-color="#eab0ff"/><stop offset="0.405" stop-color="#ffa8fb"/><stop offset="0.477" stop-color="#ff7dcb"/><stop offset="0.587" stop-color="#ff479c"/><stop offset="0.65" stop-color="#ff2187"/><stop offset="0.663" stop-color="#ff1183"/><stop offset="0.667" stop-color="#ff0082"/><stop offset="0.98" stop-color="#ff002d"/><stop offset="0.997" stop-color="#ff0026"/></linearGradient><linearGradient id="g141" gradientUnits="userSpaceOnUse" x1="1094" x2="1560"><stop offset="0" stop-color="#00cfff"/><stop offset="0.227" stop-color="#00bfff"/><stop offset="0.232" stop-color="#24beff"/><stop offset="0.24" stop-color="#43bdff"/><stop offset="0.266" stop-color="#73bbff"/><stop offset="0.309" stop-color="#a8b6ff"/><stop offset="0.403" stop-color="#fea8ff"/><stop offset="0.485" stop-color="#ff78cb"/><stop offset="0.597" stop-color="#ff419c"/><stop offset="0.648" stop-color="#ff208c"/><stop offset="0.661" stop-color="#ff0f88"/><stop offset="0.665" stop-color="#ff0086"/><stop offset="1" stop-color="#ff002d"/></linearGradient><linearGradient id="g142" gradientUnits="userSpaceOnUse" x1="1094.5" x2="1553.5"><stop offset="0" stop-color="#00ccff"/><stop offset="0.227" stop-color="#00bcff"/><stop offset="0.235" stop-color="#30bbff"/><stop offset="0.248" stop-color="#53baff"/><stop offset="0.275" stop-color="#7db7ff"/><stop offset="0.336" stop-color="#bfafff"/><stop offset="0.41" stop-color="#fea3ff"/><stop offset="0.488" stop-color="#ff75cd"/><stop offset="0.601" stop-color="#ff3d9e"/><stop offset="0.649" stop-color="#ff1c8f"/><stop offset="0.658" stop-color="#ff108c"/><stop offset="0.662" stop-color="#ff008b"/><stop offset="0.998" stop-color="#ff0035"/></linearGradient><linearGradient id="g143" gradientUnits="userSpaceOnUse" x1="1095.5" x2="1547.5"><stop offset="0" stop-color="#00caff"/><stop offset="0.226" stop-color="#00b9ff"/><stop offset="0.235" stop-color="#2fb8ff"/><stop offset="0.248" stop-color="#52b7ff"/><stop offset="0.279" stop-color="#81b3ff"/><stop offset="0.336" stop-color="#bdacff"/><stop offset="0.416" stop-color="#ff9efe"/><stop offset="0.491" stop-color="#ff72cf"/><stop offset="0.611" stop-color="#ff369e"/><stop offset="0.646" stop-color="#ff1b93"/><stop offset="0.655" stop-color="#ff0e90"/><stop offset="0.659" stop-color="#ff008f"/><stop offset="1" stop-color="#ff003a"/></linearGradient><linearGradient id="g144" gradientUnits="userSpaceOnUse" x1="1096" x2="1541"><stop offset="0" stop-color="#00c7ff"/><stop offset="0.229" stop-color="#00b6ff"/><stop offset="0.234" stop-color="#29b5ff"/><stop offset="0.247" stop-color="#4eb4ff"/><stop offset="0.279" stop-color="#7fb0ff"/><stop offset="0.351" stop-color="#c7a6ff"/><stop offset="0.422" stop-color="#ff99fe"/><stop offset="0.499" stop-color="#ff6ecf"/><stop offset="0.616" stop-color="#ff31a0"/><stop offset="0.647" stop-color="#ff1696"/><stop offset="0.656" stop-color="#ff0094"/><stop offset="0.917" stop-color="#ff0053"/><stop offset="0.998" stop-color="#ff0040"/></linearGradient><linearGradient id="g145" gradientUnits="userSpaceOnUse" x1="1097" x2="1534.5"><stop offset="0" stop-color="#00c5ff"/><stop offset="0.229" stop-color="#00b3ff"/><stop offset="0.233" stop-color="#27b2ff"/><stop offset="0.242" stop-color="#43b1ff"/><stop offset="0.265" stop-color="#6cafff"/><stop offset="0.325" stop-color="#ada7ff"/><stop offset="0.425" stop-color="#fe96ff"/><stop offset="0.512" stop-color="#ff66cc"/><stop offset="0.622" stop-color="#ff2ba2"/><stop offset="0.645" stop-color="#ff159b"/><stop offset="0.654" stop-color="#ff0098"/><stop offset="0.91" stop-color="#ff0059"/><stop offset="0.997" stop-color="#ff0045"/></linearGradient><linearGradient id="g146" gradientUnits="userSpaceOnUse" x1="1097.5" x2="1528"><stop offset="0" stop-color="#00c2ff"/><stop offset="0.228" stop-color="#00b0ff"/><stop offset="0.232" stop-color="#1fafff"/><stop offset="0.242" stop-color="#3faeff"/><stop offset="0.26" stop-color="#62acff"/><stop offset="0.307" stop-color="#99a6ff"/><stop offset="0.4" stop-color="#e798ff"/><stop offset="0.437" stop-color="#ff8efc"/><stop offset="0.511" stop-color="#ff65d1"/><stop offset="0.618" stop-color="#ff2ca7"/><stop offset="0.641" stop-color="#ff169f"/><stop offset="0.65" stop-color="#ff009c"/><stop offset="0.911" stop-color="#ff005d"/><stop offset="0.999" stop-color="#ff004a"/></linearGradient><linearGradient id="g147" gradientUnits="userSpaceOnUse" x1="1098.5" x2="1521.5"><stop offset="0" stop-color="#00c0ff"/><stop offset="0.227" stop-color="#00adff"/><stop offset="0.232" stop-color="#1cadff"/><stop offset="0.241" stop-color="#3eabff"/><stop offset="0.265" stop-color="#68a9ff"/><stop offset="0.312" stop-color="#9ca3ff"/><stop offset="0.407" stop-color="#e993ff"/><stop offset="0.44" stop-color="#ff8bfe"/><stop offset="0.525" stop-color="#ff5dce"/><stop offset="0.615" stop-color="#ff2cab"/><stop offset="0.638" stop-color="#ff14a4"/><stop offset="0.648" stop-color="#ff00a1"/><stop offset="0.865" stop-color="#ff006b"/><stop offset="0.998" stop-color="#ff004f"/></linearGradient><linearGradient id="g148" gradientUnits="userSpaceOnUse" x1="1099.5" x2="1515"><stop offset="0" stop-color="#00bdff"/><stop offset="0.226" stop-color="#00aaff"/><stop offset="0.236" stop-color="#2fa9ff"/><stop offset="0.25" stop-color="#50a7ff"/><stop offset="0.279" stop-color="#79a4ff"/><stop offset="0.347" stop-color="#b89aff"/><stop offset="0.443" stop-color="#ff88ff"/><stop offset="0.529" stop-color="#ff59d0"/><stop offset="0.616" stop-color="#ff28ae"/><stop offset="0.635" stop-color="#ff13a8"/><stop offset="0.64" stop-color="#ff00a7"/><stop offset="0.833" stop-color="#ff0076"/><stop offset="0.996" stop-color="#ff0054"/></linearGradient><linearGradient id="g149" gradientUnits="userSpaceOnUse" x1="1100" x2="1508.5"><stop offset="0" stop-color="#00bbff"/><stop offset="0.225" stop-color="#00a7ff"/><stop offset="0.23" stop-color="#07a7ff"/><stop offset="0.235" stop-color="#29a6ff"/><stop offset="0.25" stop-color="#4da5ff"/><stop offset="0.284" stop-color="#7ca0ff"/><stop offset="0.353" stop-color="#ba96ff"/><stop offset="0.45" stop-color="#ff82ff"/><stop offset="0.534" stop-color="#ff56d2"/><stop offset="0.612" stop-color="#ff28b4"/><stop offset="0.632" stop-color="#ff13ad"/><stop offset="0.636" stop-color="#ff03ac"/><stop offset="0.852" stop-color="#ff0075"/><stop offset="0.999" stop-color="#ff0058"/></linearGradient><linearGradient id="g150" gradientUnits="userSpaceOnUse" x1="1101" x2="1502"><stop offset="0" stop-color="#00b8ff"/><stop offset="0.229" stop-color="#00a4ff"/><stop offset="0.234" stop-color="#27a3ff"/><stop offset="0.244" stop-color="#42a2ff"/><stop offset="0.269" stop-color="#699fff"/><stop offset="0.324" stop-color="#a097ff"/><stop offset="0.439" stop-color="#f482ff"/><stop offset="0.464" stop-color="#ff79fa"/><stop offset="0.564" stop-color="#ff45c9"/><stop offset="0.613" stop-color="#ff24b7"/><stop offset="0.628" stop-color="#ff11b2"/><stop offset="0.633" stop-color="#ff00b0"/><stop offset="0.838" stop-color="#ff007c"/><stop offset="0.998" stop-color="#ff005c"/></linearGradient><linearGradient id="g151" gradientUnits="userSpaceOnUse" x1="1102" x2="1495.5"><stop offset="0" stop-color="#00b6ff"/><stop offset="0.229" stop-color="#00a1ff"/><stop offset="0.234" stop-color="#25a1ff"/><stop offset="0.244" stop-color="#419fff"/><stop offset="0.269" stop-color="#689cff"/><stop offset="0.325" stop-color="#9f94ff"/><stop offset="0.442" stop-color="#f27eff"/><stop offset="0.468" stop-color="#ff76fc"/><stop offset="0.564" stop-color="#ff42cd"/><stop offset="0.61" stop-color="#ff23bc"/><stop offset="0.625" stop-color="#ff0fb7"/><stop offset="0.63" stop-color="#ff00b5"/><stop offset="0.823" stop-color="#ff0083"/><stop offset="0.996" stop-color="#ff0061"/></linearGradient><linearGradient id="g152" gradientUnits="userSpaceOnUse" x1="1102.5" x2="1489"><stop offset="0" stop-color="#00b3ff"/><stop offset="0.228" stop-color="#009eff"/><stop offset="0.233" stop-color="#1e9eff"/><stop offset="0.243" stop-color="#3d9dff"/><stop offset="0.269" stop-color="#6699ff"/><stop offset="0.326" stop-color="#9d91ff"/><stop offset="0.455" stop-color="#f677ff"/><stop offset="0.476" stop-color="#ff70fc"/><stop offset="0.569" stop-color="#ff3ecf"/><stop offset="0.611" stop-color="#ff1fc0"/><stop offset="0.621" stop-color="#ff10bc"/><stop offset="0.626" stop-color="#ff00ba"/><stop offset="0.828" stop-color="#ff0086"/><stop offset="0.999" stop-color="#ff0064"/></linearGradient><linearGradient id="g153" gradientUnits="userSpaceOnUse" x1="1103.5" x2="1483"><stop offset="0" stop-color="#00b1ff"/><stop offset="0.227" stop-color="#009cff"/><stop offset="0.232" stop-color="#1b9bff"/><stop offset="0.237" stop-color="#2f9aff"/><stop offset="0.258" stop-color="#5798ff"/><stop offset="0.3" stop-color="#8592ff"/><stop offset="0.395" stop-color="#cd81ff"/><stop offset="0.48" stop-color="#ff6cfd"/><stop offset="0.59" stop-color="#ff2cca"/><stop offset="0.611" stop-color="#ff17c3"/><stop offset="0.622" stop-color="#ff00bf"/><stop offset="0.812" stop-color="#ff008d"/><stop offset="0.996" stop-color="#ff0069"/></linearGradient><linearGradient id="g154" gradientUnits="userSpaceOnUse" x1="1104.5" x2="1476.5"><stop offset="0" stop-color="#00aeff"/><stop offset="0.226" stop-color="#0099ff"/><stop offset="0.237" stop-color="#2e97ff"/><stop offset="0.258" stop-color="#5695ff"/><stop offset="0.301" stop-color="#848fff"/><stop offset="0.392" stop-color="#c87fff"/><stop offset="0.484" stop-color="#ff68ff"/><stop offset="0.586" stop-color="#ff2cd0"/><stop offset="0.608" stop-color="#ff16c8"/><stop offset="0.618" stop-color="#ff00c4"/><stop offset="0.801" stop-color="#ff0093"/><stop offset="1" stop-color="#ff006c"/></linearGradient><linearGradient id="g155" gradientUnits="userSpaceOnUse" x1="1105.5" x2="1470"><stop offset="0" stop-color="#00abff"/><stop offset="0.225" stop-color="#0096ff"/><stop offset="0.236" stop-color="#2c94ff"/><stop offset="0.252" stop-color="#4d92ff"/><stop offset="0.285" stop-color="#748eff"/><stop offset="0.351" stop-color="#a983ff"/><stop offset="0.488" stop-color="#fd63ff"/><stop offset="0.582" stop-color="#ff2cd6"/><stop offset="0.604" stop-color="#ff14cd"/><stop offset="0.609" stop-color="#ff00cb"/><stop offset="0.796" stop-color="#ff0098"/><stop offset="0.999" stop-color="#ff0070"/></linearGradient><linearGradient id="g156" gradientUnits="userSpaceOnUse" x1="1106" x2="1463.5"><stop offset="0" stop-color="#00a9ff"/><stop offset="0.229" stop-color="#0092ff"/><stop offset="0.235" stop-color="#2692ff"/><stop offset="0.252" stop-color="#4a90ff"/><stop offset="0.291" stop-color="#778aff"/><stop offset="0.375" stop-color="#b67cff"/><stop offset="0.498" stop-color="#fe5cff"/><stop offset="0.576" stop-color="#ff2ddc"/><stop offset="0.599" stop-color="#ff15d3"/><stop offset="0.604" stop-color="#ff00d1"/><stop offset="0.778" stop-color="#ff00a0"/><stop offset="0.996" stop-color="#ff0075"/></linearGradient><linearGradient id="g157" gradientUnits="userSpaceOnUse" x1="1107" x2="1457"><stop offset="0" stop-color="#00a6ff"/><stop offset="0.229" stop-color="#0090ff"/><stop offset="0.234" stop-color="#248fff"/><stop offset="0.246" stop-color="#3f8dff"/><stop offset="0.274" stop-color="#6589ff"/><stop offset="0.331" stop-color="#9680ff"/><stop offset="0.469" stop-color="#ea62ff"/><stop offset="0.514" stop-color="#ff51fc"/><stop offset="0.577" stop-color="#ff28e0"/><stop offset="0.594" stop-color="#ff13d9"/><stop offset="0.6" stop-color="#ff00d7"/><stop offset="0.76" stop-color="#ff00a8"/><stop offset="1" stop-color="#ff0078"/></linearGradient><linearGradient id="g158" gradientUnits="userSpaceOnUse" x1="1108" x2="1450.5"><stop offset="0" stop-color="#00a3ff"/><stop offset="0.228" stop-color="#008dff"/><stop offset="0.234" stop-color="#228cff"/><stop offset="0.245" stop-color="#3e8aff"/><stop offset="0.274" stop-color="#6486ff"/><stop offset="0.333" stop-color="#957dff"/><stop offset="0.461" stop-color="#e260ff"/><stop offset="0.52" stop-color="#ff4bfe"/><stop offset="0.578" stop-color="#ff22e4"/><stop offset="0.59" stop-color="#ff11df"/><stop offset="0.596" stop-color="#ff00dd"/><stop offset="0.747" stop-color="#ff00af"/><stop offset="0.999" stop-color="#ff007d"/></linearGradient><linearGradient id="g159" gradientUnits="userSpaceOnUse" x1="1109" x2="1444"><stop offset="0" stop-color="#00a1ff"/><stop offset="0.227" stop-color="#008aff"/><stop offset="0.233" stop-color="#2189ff"/><stop offset="0.245" stop-color="#3d87ff"/><stop offset="0.275" stop-color="#6383ff"/><stop offset="0.334" stop-color="#947aff"/><stop offset="0.46" stop-color="#dd5dff"/><stop offset="0.531" stop-color="#ff41fd"/><stop offset="0.573" stop-color="#ff21ea"/><stop offset="0.591" stop-color="#ff00e3"/><stop offset="0.746" stop-color="#ff00b3"/><stop offset="0.997" stop-color="#ff0081"/></linearGradient><linearGradient id="g160" gradientUnits="userSpaceOnUse" x1="1110" x2="1437.5"><stop offset="0" stop-color="#009eff"/><stop offset="0.226" stop-color="#0087ff"/><stop offset="0.232" stop-color="#1e86ff"/><stop offset="0.244" stop-color="#3c84ff"/><stop offset="0.275" stop-color="#6280ff"/><stop offset="0.336" stop-color="#9376ff"/><stop offset="0.47" stop-color="#df56ff"/><stop offset="0.537" stop-color="#ff3afe"/><stop offset="0.574" stop-color="#ff18ee"/><stop offset="0.58" stop-color="#ff08ec"/><stop offset="0.586" stop-color="#ff00e9"/><stop offset="0.739" stop-color="#ff00b9"/><stop offset="0.995" stop-color="#ff0085"/></linearGradient><linearGradient id="g161" gradientUnits="userSpaceOnUse" x1="1111" x2="1431"><stop offset="0" stop-color="#009bff"/><stop offset="0.225" stop-color="#0084ff"/><stop offset="0.231" stop-color="#1c83ff"/><stop offset="0.244" stop-color="#3b81ff"/><stop offset="0.275" stop-color="#617dff"/><stop offset="0.338" stop-color="#9272ff"/><stop offset="0.463" stop-color="#d755ff"/><stop offset="0.537" stop-color="#fb35ff"/><stop offset="0.562" stop-color="#ff1ff7"/><stop offset="0.569" stop-color="#ff16f5"/><stop offset="0.575" stop-color="#ff00f2"/><stop offset="0.744" stop-color="#ff00bc"/><stop offset="0.994" stop-color="#ff008a"/><stop offset="1" stop-color="#ff0089"/></linearGradient><linearGradient id="g162" gradientUnits="userSpaceOnUse" x1="1112" x2="1424.5"><stop offset="0" stop-color="#0098ff"/><stop offset="0.224" stop-color="#0081ff"/><stop offset="0.23" stop-color="#1a80ff"/><stop offset="0.237" stop-color="#2d7fff"/><stop offset="0.262" stop-color="#537bff"/><stop offset="0.314" stop-color="#8073ff"/><stop offset="0.422" stop-color="#c05dff"/><stop offset="0.518" stop-color="#ee3bff"/><stop offset="0.557" stop-color="#ff1eff"/><stop offset="0.563" stop-color="#ff14fc"/><stop offset="0.57" stop-color="#ff00f9"/><stop offset="0.71" stop-color="#ff00c9"/><stop offset="0.941" stop-color="#ff0097"/><stop offset="0.998" stop-color="#ff008d"/></linearGradient><linearGradient id="g163" gradientUnits="userSpaceOnUse" x1="1113" x2="1418.5"><stop offset="0" stop-color="#0095ff"/><stop offset="0.223" stop-color="#007eff"/><stop offset="0.236" stop-color="#2c7cff"/><stop offset="0.262" stop-color="#5278ff"/><stop offset="0.314" stop-color="#7f70ff"/><stop offset="0.432" stop-color="#c256ff"/><stop offset="0.517" stop-color="#ea36ff"/><stop offset="0.55" stop-color="#f81cff"/><stop offset="0.563" stop-color="#fe00ff"/><stop offset="0.714" stop-color="#ff00cc"/><stop offset="0.956" stop-color="#ff0098"/><stop offset="0.995" stop-color="#ff0092"/></linearGradient><linearGradient id="g164" gradientUnits="userSpaceOnUse" x1="1114" x2="1412"><stop offset="0" stop-color="#0092ff"/><stop offset="0.221" stop-color="#007bff"/><stop offset="0.235" stop-color="#2a79ff"/><stop offset="0.255" stop-color="#4a76ff"/><stop offset="0.302" stop-color="#746fff"/><stop offset="0.409" stop-color="#b458ff"/><stop offset="0.497" stop-color="#dc3bff"/><stop offset="0.537" stop-color="#ee21ff"/><stop offset="0.557" stop-color="#f600ff"/><stop offset="0.584" stop-color="#ff00fc"/><stop offset="0.738" stop-color="#ff00ca"/><stop offset="0.966" stop-color="#ff009b"/><stop offset="1" stop-color="#ff0095"/></linearGradient><linearGradient id="g165" gradientUnits="userSpaceOnUse" x1="1115" x2="1405.5"><stop offset="0" stop-color="#0090ff"/><stop offset="0.22" stop-color="#0078ff"/><stop offset="0.227" stop-color="#1177ff"/><stop offset="0.234" stop-color="#2976ff"/><stop offset="0.255" stop-color="#4973ff"/><stop offset="0.303" stop-color="#736bff"/><stop offset="0.406" stop-color="#af56ff"/><stop offset="0.503" stop-color="#db33ff"/><stop offset="0.53" stop-color="#e71fff"/><stop offset="0.537" stop-color="#ea17ff"/><stop offset="0.544" stop-color="#ec04ff"/><stop offset="0.571" stop-color="#f800ff"/><stop offset="0.599" stop-color="#ff00fb"/><stop offset="0.764" stop-color="#ff00c8"/><stop offset="0.998" stop-color="#ff009a"/></linearGradient><linearGradient id="g166" gradientUnits="userSpaceOnUse" x1="1116" x2="1399"><stop offset="0" stop-color="#008dff"/><stop offset="0.219" stop-color="#0075ff"/><stop offset="0.226" stop-color="#0d74ff"/><stop offset="0.233" stop-color="#2773ff"/><stop offset="0.254" stop-color="#4870ff"/><stop offset="0.304" stop-color="#7367ff"/><stop offset="0.41" stop-color="#ae51ff"/><stop offset="0.495" stop-color="#d432ff"/><stop offset="0.523" stop-color="#e01dff"/><stop offset="0.53" stop-color="#e214ff"/><stop offset="0.537" stop-color="#e500ff"/><stop offset="0.608" stop-color="#ff00fd"/><stop offset="0.749" stop-color="#ff00d1"/><stop offset="0.968" stop-color="#ff00a3"/><stop offset="0.996" stop-color="#ff009e"/></linearGradient><linearGradient id="g167" gradientUnits="userSpaceOnUse" x1="1117" x2="1392.5"><stop offset="0" stop-color="#0089ff"/><stop offset="0.218" stop-color="#0071ff"/><stop offset="0.225" stop-color="#0470ff"/><stop offset="0.232" stop-color="#266fff"/><stop offset="0.254" stop-color="#476cff"/><stop offset="0.305" stop-color="#7264ff"/><stop offset="0.414" stop-color="#ad4cff"/><stop offset="0.501" stop-color="#d328ff"/><stop offset="0.523" stop-color="#db12ff"/><stop offset="0.53" stop-color="#de00ff"/><stop offset="0.617" stop-color="#ff00fe"/><stop offset="0.791" stop-color="#ff00cb"/><stop offset="0.995" stop-color="#ff00a3"/></linearGradient><linearGradient id="g168" gradientUnits="userSpaceOnUse" x1="1118.5" x2="1386"><stop offset="0" stop-color="#0086ff"/><stop offset="0.217" stop-color="#006eff"/><stop offset="0.232" stop-color="#286cff"/><stop offset="0.254" stop-color="#4868ff"/><stop offset="0.314" stop-color="#775eff"/><stop offset="0.434" stop-color="#b341ff"/><stop offset="0.493" stop-color="#cc25ff"/><stop offset="0.508" stop-color="#d217ff"/><stop offset="0.516" stop-color="#d508ff"/><stop offset="0.523" stop-color="#d800ff"/><stop offset="0.636" stop-color="#ff00fc"/><stop offset="0.815" stop-color="#ff00ca"/><stop offset="0.994" stop-color="#ff00a8"/></linearGradient><linearGradient id="g169" gradientUnits="userSpaceOnUse" x1="1119.5" x2="1379.5"><stop offset="0" stop-color="#0083ff"/><stop offset="0.215" stop-color="#006bff"/><stop offset="0.223" stop-color="#0c6aff"/><stop offset="0.231" stop-color="#2769ff"/><stop offset="0.254" stop-color="#4765ff"/><stop offset="0.308" stop-color="#715cff"/><stop offset="0.423" stop-color="#ac40ff"/><stop offset="0.477" stop-color="#c228ff"/><stop offset="0.5" stop-color="#cb15ff"/><stop offset="0.508" stop-color="#ce00ff"/><stop offset="0.646" stop-color="#ff00fe"/><stop offset="0.823" stop-color="#ff00cd"/><stop offset="1" stop-color="#ff00ac"/></linearGradient><linearGradient id="g170" gradientUnits="userSpaceOnUse" x1="1120.5" x2="1373"><stop offset="0" stop-color="#0080ff"/><stop offset="0.214" stop-color="#0067ff"/><stop offset="0.222" stop-color="#0466ff"/><stop offset="0.23" stop-color="#2565ff"/><stop offset="0.253" stop-color="#4661ff"/><stop offset="0.309" stop-color="#7058ff"/><stop offset="0.428" stop-color="#ab39ff"/><stop offset="0.475" stop-color="#be22ff"/><stop offset="0.491" stop-color="#c412ff"/><stop offset="0.499" stop-color="#c700ff"/><stop offset="0.665" stop-color="#ff00fd"/><stop offset="0.832" stop-color="#ff00d0"/><stop offset="0.998" stop-color="#ff00b1"/></linearGradient><linearGradient id="g171" gradientUnits="userSpaceOnUse" x1="1121.5" x2="1366.5"><stop offset="0" stop-color="#007cff"/><stop offset="0.22" stop-color="#0063ff"/><stop offset="0.229" stop-color="#2462ff"/><stop offset="0.253" stop-color="#455eff"/><stop offset="0.31" stop-color="#6f53ff"/><stop offset="0.416" stop-color="#a338ff"/><stop offset="0.465" stop-color="#b620ff"/><stop offset="0.482" stop-color="#bd0fff"/><stop offset="0.49" stop-color="#c000ff"/><stop offset="0.678" stop-color="#ff00fe"/><stop offset="0.914" stop-color="#ff00c4"/><stop offset="0.996" stop-color="#ff00b6"/></linearGradient><linearGradient id="g172" gradientUnits="userSpaceOnUse" x1="1123" x2="1360"><stop offset="0" stop-color="#0079ff"/><stop offset="0.211" stop-color="#0060ff"/><stop offset="0.219" stop-color="#0c5fff"/><stop offset="0.228" stop-color="#265eff"/><stop offset="0.253" stop-color="#465aff"/><stop offset="0.312" stop-color="#704fff"/><stop offset="0.422" stop-color="#a330ff"/><stop offset="0.456" stop-color="#b01dff"/><stop offset="0.464" stop-color="#b315ff"/><stop offset="0.473" stop-color="#b600ff"/><stop offset="0.692" stop-color="#ff00ff"/><stop offset="0.895" stop-color="#ff00cd"/><stop offset="0.996" stop-color="#ff00bb"/></linearGradient><linearGradient id="g173" gradientUnits="userSpaceOnUse" x1="1124" x2="1353.5"><stop offset="0" stop-color="#0075ff"/><stop offset="0.218" stop-color="#035bff"/><stop offset="0.227" stop-color="#255aff"/><stop offset="0.253" stop-color="#4556ff"/><stop offset="0.314" stop-color="#6f4aff"/><stop offset="0.41" stop-color="#9b2fff"/><stop offset="0.444" stop-color="#a81bff"/><stop offset="0.453" stop-color="#ac13ff"/><stop offset="0.462" stop-color="#af00ff"/><stop offset="0.715" stop-color="#ff00fe"/><stop offset="0.95" stop-color="#ff00c8"/><stop offset="0.993" stop-color="#ff00c1"/></linearGradient><linearGradient id="g174" gradientUnits="userSpaceOnUse" x1="1125" x2="1347.5"><stop offset="0" stop-color="#0072ff"/><stop offset="0.216" stop-color="#0058ff"/><stop offset="0.225" stop-color="#2356ff"/><stop offset="0.252" stop-color="#4452ff"/><stop offset="0.315" stop-color="#6e45ff"/><stop offset="0.404" stop-color="#962aff"/><stop offset="0.431" stop-color="#a11aff"/><stop offset="0.449" stop-color="#a700ff"/><stop offset="0.701" stop-color="#f700ff"/><stop offset="0.746" stop-color="#ff00fa"/><stop offset="0.971" stop-color="#ff00c9"/><stop offset="0.998" stop-color="#ff00c5"/></linearGradient><linearGradient id="g175" gradientUnits="userSpaceOnUse" x1="1126.5" x2="1341"><stop offset="0" stop-color="#006eff"/><stop offset="0.205" stop-color="#0055ff"/><stop offset="0.214" stop-color="#0c53ff"/><stop offset="0.224" stop-color="#2652ff"/><stop offset="0.252" stop-color="#454dff"/><stop offset="0.326" stop-color="#733dff"/><stop offset="0.401" stop-color="#9323ff"/><stop offset="0.42" stop-color="#9a16ff"/><stop offset="0.429" stop-color="#9d07ff"/><stop offset="0.438" stop-color="#a100ff"/><stop offset="0.727" stop-color="#f900ff"/><stop offset="0.774" stop-color="#ff00f9"/><stop offset="0.998" stop-color="#ff00ca"/></linearGradient><linearGradient id="g176" gradientUnits="userSpaceOnUse" x1="1127.5" x2="1334.5"><stop offset="0" stop-color="#006aff"/><stop offset="0.213" stop-color="#024fff"/><stop offset="0.222" stop-color="#244eff"/><stop offset="0.242" stop-color="#3c4aff"/><stop offset="0.3" stop-color="#643eff"/><stop offset="0.377" stop-color="#8726ff"/><stop offset="0.406" stop-color="#9213ff"/><stop offset="0.415" stop-color="#9500ff"/><stop offset="0.657" stop-color="#e000ff"/><stop offset="0.783" stop-color="#ff00fd"/><stop offset="0.995" stop-color="#ff00d0"/></linearGradient><linearGradient id="g177" gradientUnits="userSpaceOnUse" x1="1128.5" x2="1328"><stop offset="0" stop-color="#0066ff"/><stop offset="0.211" stop-color="#004bff"/><stop offset="0.221" stop-color="#2349ff"/><stop offset="0.241" stop-color="#3b46ff"/><stop offset="0.301" stop-color="#6338ff"/><stop offset="0.371" stop-color="#8220ff"/><stop offset="0.391" stop-color="#8a11ff"/><stop offset="0.401" stop-color="#8d00ff"/><stop offset="0.602" stop-color="#cc00ff"/><stop offset="0.802" stop-color="#ff00fe"/><stop offset="0.992" stop-color="#ff00d7"/></linearGradient><linearGradient id="g178" gradientUnits="userSpaceOnUse" x1="1130" x2="1321.5"><stop offset="0" stop-color="#0062ff"/><stop offset="0.198" stop-color="#0048ff"/><stop offset="0.209" stop-color="#0c46ff"/><stop offset="0.219" stop-color="#2544ff"/><stop offset="0.251" stop-color="#443eff"/><stop offset="0.334" stop-color="#7227ff"/><stop offset="0.366" stop-color="#7e16ff"/><stop offset="0.386" stop-color="#8600ff"/><stop offset="0.606" stop-color="#c800ff"/><stop offset="0.836" stop-color="#ff00fd"/><stop offset="0.992" stop-color="#ff00dd"/></linearGradient><linearGradient id="g179" gradientUnits="userSpaceOnUse" x1="1131.5" x2="1315"><stop offset="0" stop-color="#005dff"/><stop offset="0.196" stop-color="#0043ff"/><stop offset="0.218" stop-color="#283fff"/><stop offset="0.262" stop-color="#4d35ff"/><stop offset="0.327" stop-color="#6d20ff"/><stop offset="0.349" stop-color="#7611ff"/><stop offset="0.36" stop-color="#7a00ff"/><stop offset="0.545" stop-color="#b400ff"/><stop offset="0.85" stop-color="#fe00ff"/><stop offset="0.992" stop-color="#ff00e3"/></linearGradient><linearGradient id="g180" gradientUnits="userSpaceOnUse" x1="1132.5" x2="1308.5"><stop offset="0" stop-color="#0059ff"/><stop offset="0.193" stop-color="#003eff"/><stop offset="0.216" stop-color="#2639ff"/><stop offset="0.25" stop-color="#4531ff"/><stop offset="0.318" stop-color="#6818ff"/><stop offset="0.341" stop-color="#7100ff"/><stop offset="0.511" stop-color="#a700ff"/><stop offset="0.886" stop-color="#ff00ff"/><stop offset="1" stop-color="#ff00e9"/></linearGradient><linearGradient id="g181" gradientUnits="userSpaceOnUse" x1="1134" x2="1302"><stop offset="0" stop-color="#0054ff"/><stop offset="0.19" stop-color="#0038ff"/><stop offset="0.214" stop-color="#2833ff"/><stop offset="0.25" stop-color="#4629ff"/><stop offset="0.298" stop-color="#5e14ff"/><stop offset="0.31" stop-color="#6304ff"/><stop offset="0.357" stop-color="#7600ff"/><stop offset="0.571" stop-color="#b300ff"/><stop offset="0.929" stop-color="#ff00fd"/><stop offset="1" stop-color="#ff00f0"/></linearGradient><linearGradient id="g182" gradientUnits="userSpaceOnUse" x1="1135.5" x2="1295.5"><stop offset="0" stop-color="#004eff"/><stop offset="0.188" stop-color="#0031ff"/><stop offset="0.2" stop-color="#1a2eff"/><stop offset="0.225" stop-color="#3627ff"/><stop offset="0.275" stop-color="#540fff"/><stop offset="0.287" stop-color="#5900ff"/><stop offset="0.412" stop-color="#8500ff"/><stop offset="0.65" stop-color="#c100ff"/><stop offset="0.963" stop-color="#ff00fe"/><stop offset="1" stop-color="#ff00f7"/></linearGradient><linearGradient id="g183" gradientUnits="userSpaceOnUse" x1="1137" x2="1289"><stop offset="0" stop-color="#0049ff"/><stop offset="0.184" stop-color="#0029ff"/><stop offset="0.197" stop-color="#1d25ff"/><stop offset="0.224" stop-color="#371bff"/><stop offset="0.263" stop-color="#4e00ff"/><stop offset="0.382" stop-color="#7a00ff"/><stop offset="0.605" stop-color="#b200ff"/><stop offset="1" stop-color="#ff00ff"/></linearGradient><linearGradient id="g184" gradientUnits="userSpaceOnUse" x1="1138.5" x2="1283"><stop offset="0" stop-color="#0042ff"/><stop offset="0.152" stop-color="#0027ff"/><stop offset="0.18" stop-color="#001eff"/><stop offset="0.194" stop-color="#2018ff"/><stop offset="0.208" stop-color="#2e10ff"/><stop offset="0.221" stop-color="#3900ff"/><stop offset="0.304" stop-color="#6000ff"/><stop offset="0.498" stop-color="#9700ff"/><stop offset="0.9" stop-color="#e700ff"/><stop offset="0.997" stop-color="#f700ff"/></linearGradient><linearGradient id="g185" gradientUnits="userSpaceOnUse" x1="1140" x2="1276.5"><stop offset="0" stop-color="#003bff"/><stop offset="0.132" stop-color="#0020ff"/><stop offset="0.161" stop-color="#0015ff"/><stop offset="0.176" stop-color="#0008ff"/><stop offset="0.19" stop-color="#2300ff"/><stop offset="0.234" stop-color="#4200ff"/><stop offset="0.337" stop-color="#6a00ff"/><stop offset="0.557" stop-color="#a000ff"/><stop offset="0.996" stop-color="#f000ff"/></linearGradient><linearGradient id="g186" gradientUnits="userSpaceOnUse" x1="1141.5" x2="1270"><stop offset="0" stop-color="#0033ff"/><stop offset="0.109" stop-color="#0018ff"/><stop offset="0.125" stop-color="#0010ff"/><stop offset="0.14" stop-color="#0000ff"/><stop offset="0.156" stop-color="#0000ff"/><stop offset="0.171" stop-color="#0f00ff"/><stop offset="0.187" stop-color="#2500ff"/><stop offset="0.233" stop-color="#4300ff"/><stop offset="0.342" stop-color="#6a00ff"/><stop offset="0.576" stop-color="#a000ff"/><stop offset="0.996" stop-color="#e800ff"/></linearGradient><linearGradient id="g187" gradientUnits="userSpaceOnUse" x1="1143" x2="1263.5"><stop offset="0" stop-color="#0028ff"/><stop offset="0.066" stop-color="#0015ff"/><stop offset="0.1" stop-color="#0000ff"/><stop offset="0.149" stop-color="#0000ff"/><stop offset="0.183" stop-color="#2800ff"/><stop offset="0.249" stop-color="#4b00ff"/><stop offset="0.415" stop-color="#7b00ff"/><stop offset="0.747" stop-color="#ba00ff"/><stop offset="0.996" stop-color="#e000ff"/></linearGradient><linearGradient id="g188" gradientUnits="userSpaceOnUse" x1="1145" x2="1257"><stop offset="0" stop-color="#0017ff"/><stop offset="0.036" stop-color="#0000ff"/><stop offset="0.143" stop-color="#0000ff"/><stop offset="0.161" stop-color="#1e00ff"/><stop offset="0.196" stop-color="#3700ff"/><stop offset="0.304" stop-color="#5e00ff"/><stop offset="0.536" stop-color="#9100ff"/><stop offset="1" stop-color="#d900ff"/></linearGradient><linearGradient id="g189" gradientUnits="userSpaceOnUse" x1="1147" x2="1250.5"><stop offset="0" stop-color="#0000ff"/><stop offset="0.116" stop-color="#0000ff"/><stop offset="0.135" stop-color="#0f00ff"/><stop offset="0.155" stop-color="#2500ff"/><stop offset="0.232" stop-color="#4900ff"/><stop offset="0.386" stop-color="#7100ff"/><stop offset="0.696" stop-color="#a700ff"/><stop offset="0.986" stop-color="#cf00ff"/></linearGradient><linearGradient id="g190" gradientUnits="userSpaceOnUse" x1="1148.5" x2="1244"><stop offset="0" stop-color="#0000ff"/><stop offset="0.105" stop-color="#0000ff"/><stop offset="0.147" stop-color="#2700ff"/><stop offset="0.209" stop-color="#4300ff"/><stop offset="0.377" stop-color="#6e00ff"/><stop offset="0.754" stop-color="#aa00ff"/><stop offset="0.984" stop-color="#c700ff"/></linearGradient><linearGradient id="g191" gradientUnits="userSpaceOnUse" x1="1151" x2="1237.5"><stop offset="0" stop-color="#0000ff"/><stop offset="0.092" stop-color="#0000ff"/><stop offset="0.116" stop-color="#2200ff"/><stop offset="0.185" stop-color="#4100ff"/><stop offset="0.37" stop-color="#6c00ff"/><stop offset="0.74" stop-color="#a300ff"/><stop offset="0.994" stop-color="#c000ff"/></linearGradient><linearGradient id="g192" gradientUnits="userSpaceOnUse" x1="1153" x2="1231"><stop offset="0" stop-color="#0000ff"/><stop offset="0.051" stop-color="#0000ff"/><stop offset="0.103" stop-color="#2800ff"/><stop offset="0.205" stop-color="#4a00ff"/><stop offset="0.436" stop-color="#7500ff"/><stop offset="0.897" stop-color="#ae00ff"/><stop offset="1" stop-color="#b900ff"/></linearGradient><linearGradient id="g193" gradientUnits="userSpaceOnUse" x1="1155.5" x2="1224.5"><stop offset="0" stop-color="#0000ff"/><stop offset="0.029" stop-color="#0b00ff"/><stop offset="0.058" stop-color="#2300ff"/><stop offset="0.145" stop-color="#4100ff"/><stop offset="0.348" stop-color="#6700ff"/><stop offset="0.812" stop-color="#9f00ff"/><stop offset="0.986" stop-color="#af00ff"/></linearGradient><linearGradient id="g194" gradientUnits="userSpaceOnUse" x1="1158.5" x2="1218.5"><stop offset="0" stop-color="#2200ff"/><stop offset="0.1" stop-color="#4000ff"/><stop offset="0.367" stop-color="#6b00ff"/><stop offset="0.933" stop-color="#a400ff"/><stop offset="1" stop-color="#a900ff"/></linearGradient><linearGradient id="g195" gradientUnits="userSpaceOnUse" x1="1161.5" x2="1212"><stop offset="0" stop-color="#3700ff"/><stop offset="0.277" stop-color="#6100ff"/><stop offset="0.792" stop-color="#9100ff"/><stop offset="0.99" stop-color="#a000ff"/></linearGradient><linearGradient id="g196" gradientUnits="userSpaceOnUse" x1="1165" x2="1205.5"><stop offset="0" stop-color="#4700ff"/><stop offset="0.395" stop-color="#6e00ff"/><stop offset="0.988" stop-color="#9700ff"/></linearGradient><linearGradient id="g197" gradientUnits="userSpaceOnUse" x1="1168.5" x2="1199"><stop offset="0" stop-color="#5300ff"/><stop offset="0.656" stop-color="#7e00ff"/><stop offset="0.984" stop-color="#8e00ff"/></linearGradient><linearGradient id="g198" gradientUnits="userSpaceOnUse" x1="1171.5" x2="1192.5"><stop offset="0" stop-color="#5d00ff"/><stop offset="0.952" stop-color="#8400ff"/></linearGradient><linearGradient id="g199" gradientUnits="userSpaceOnUse" x1="1175" x2="1186"><stop offset="0" stop-color="#6500ff"/><stop offset="0.909" stop-color="#7900ff"/></linearGradient>
</defs>
<g clip-path="url(#lc)"><g filter="url(#vb)"><rect x="1103.5" y="54.2" width="22.5" height="3.6" fill="url(#g0)"/><rect x="1095.5" y="57.2" width="41" height="3.6" fill="url(#g1)"/><rect x="1090.5" y="60.2" width="54" height="3.6" fill="url(#g2)"/><rect x="1087" y="63.2" width="64" height="3.6" fill="url(#g3)"/><rect x="1084.5" y="66.2" width="72.5" height="3.6" fill="url(#g4)"/><rect x="1082" y="69.2" width="80.5" height="3.6" fill="url(#g5)"/><rect x="1080" y="72.2" width="88" height="3.6" fill="url(#g6)"/><rect x="1078" y="75.2" width="95" height="3.6" fill="url(#g7)"/><rect x="1076" y="78.2" width="102" height="3.6" fill="url(#g8)"/><rect x="1074.5" y="81.2" width="108.5" height="3.6" fill="url(#g9)"/><rect x="1073.5" y="84.2" width="114" height="3.6" fill="url(#g10)"/><rect x="1072" y="87.2" width="120" height="3.6" fill="url(#g11)"/><rect x="1071" y="90.2" width="125.5" height="3.6" fill="url(#g12)"/><rect x="1070" y="93.2" width="131" height="3.6" fill="url(#g13)"/><rect x="1069" y="96.2" width="136" height="3.6" fill="url(#g14)"/><rect x="1068" y="99.2" width="141" height="3.6" fill="url(#g15)"/><rect x="1067" y="102.2" width="146" height="3.6" fill="url(#g16)"/><rect x="1066" y="105.2" width="151" height="3.6" fill="url(#g17)"/><rect x="1065.5" y="108.2" width="155.5" height="3.6" fill="url(#g18)"/><rect x="1064.5" y="111.2" width="160.5" height="3.6" fill="url(#g19)"/><rect x="1064" y="114.2" width="164.5" height="3.6" fill="url(#g20)"/><rect x="1063.5" y="117.2" width="168.5" height="3.6" fill="url(#g21)"/><rect x="1063" y="120.2" width="173" height="3.6" fill="url(#g22)"/><rect x="1062" y="123.2" width="177.5" height="3.6" fill="url(#g23)"/><rect x="1061.5" y="126.2" width="181.5" height="3.6" fill="url(#g24)"/><rect x="1061" y="129.2" width="185.5" height="3.6" fill="url(#g25)"/><rect x="1061" y="132.2" width="189" height="3.6" fill="url(#g26)"/><rect x="1060.5" y="135.2" width="193" height="3.6" fill="url(#g27)"/><rect x="1060" y="138.2" width="197" height="3.6" fill="url(#g28)"/><rect x="1059.5" y="141.2" width="200.5" height="3.6" fill="url(#g29)"/><rect x="1059.5" y="144.2" width="204" height="3.6" fill="url(#g30)"/><rect x="1059" y="147.2" width="208" height="3.6" fill="url(#g31)"/><rect x="1058.5" y="150.2" width="211.5" height="3.6" fill="url(#g32)"/><rect x="1058.5" y="153.2" width="215" height="3.6" fill="url(#g33)"/><rect x="1058" y="156.2" width="218.5" height="3.6" fill="url(#g34)"/><rect x="1058" y="159.2" width="222" height="3.6" fill="url(#g35)"/><rect x="1058" y="162.2" width="225" height="3.6" fill="url(#g36)"/><rect x="1057.5" y="165.2" width="229" height="3.6" fill="url(#g37)"/><rect x="1057.5" y="168.2" width="232" height="3.6" fill="url(#g38)"/><rect x="1057.5" y="171.2" width="235.5" height="3.6" fill="url(#g39)"/><rect x="1057.5" y="174.2" width="238.5" height="3.6" fill="url(#g40)"/><rect x="1057" y="177.2" width="242" height="3.6" fill="url(#g41)"/><rect x="1057" y="180.2" width="245.5" height="3.6" fill="url(#g42)"/><rect x="1057" y="183.2" width="248.5" height="3.6" fill="url(#g43)"/><rect x="1057" y="186.2" width="251.5" height="3.6" fill="url(#g44)"/><rect x="1057" y="189.2" width="254.5" height="3.6" fill="url(#g45)"/><rect x="1057" y="192.2" width="258" height="3.6" fill="url(#g46)"/><rect x="1057" y="195.2" width="261" height="3.6" fill="url(#g47)"/><rect x="1057" y="198.2" width="264" height="3.6" fill="url(#g48)"/><rect x="1057" y="201.2" width="267" height="3.6" fill="url(#g49)"/><rect x="1057" y="204.2" width="270" height="3.6" fill="url(#g50)"/><rect x="1057" y="207.2" width="273" height="3.6" fill="url(#g51)"/><rect x="1057" y="210.2" width="276.5" height="3.6" fill="url(#g52)"/><rect x="1057" y="213.2" width="279.5" height="3.6" fill="url(#g53)"/><rect x="1057" y="216.2" width="282.5" height="3.6" fill="url(#g54)"/><rect x="1057" y="219.2" width="285.5" height="3.6" fill="url(#g55)"/><rect x="1057" y="222.2" width="288.5" height="3.6" fill="url(#g56)"/><rect x="1057.5" y="225.2" width="291" height="3.6" fill="url(#g57)"/><rect x="1057.5" y="228.2" width="294" height="3.6" fill="url(#g58)"/><rect x="1057.5" y="231.2" width="297" height="3.6" fill="url(#g59)"/><rect x="1057.5" y="234.2" width="300" height="3.6" fill="url(#g60)"/><rect x="1058" y="237.2" width="302.5" height="3.6" fill="url(#g61)"/><rect x="1058" y="240.2" width="306" height="3.6" fill="url(#g62)"/><rect x="1058" y="243.2" width="309" height="3.6" fill="url(#g63)"/><rect x="1058.5" y="246.2" width="311.5" height="3.6" fill="url(#g64)"/><rect x="1058.5" y="249.2" width="314.5" height="3.6" fill="url(#g65)"/><rect x="1058.5" y="252.2" width="317.5" height="3.6" fill="url(#g66)"/><rect x="1059" y="255.2" width="320" height="3.6" fill="url(#g67)"/><rect x="1059" y="258.2" width="323" height="3.6" fill="url(#g68)"/><rect x="1059.5" y="261.2" width="325.5" height="3.6" fill="url(#g69)"/><rect x="1059.5" y="264.2" width="328.5" height="3.6" fill="url(#g70)"/><rect x="1060" y="267.2" width="331" height="3.6" fill="url(#g71)"/><rect x="1060" y="270.2" width="334" height="3.6" fill="url(#g72)"/><rect x="1060" y="273.2" width="337" height="3.6" fill="url(#g73)"/><rect x="1060.5" y="276.2" width="339.5" height="3.6" fill="url(#g74)"/><rect x="1061" y="279.2" width="342" height="3.6" fill="url(#g75)"/><rect x="1061" y="282.2" width="345" height="3.6" fill="url(#g76)"/><rect x="1061.5" y="285.2" width="347.5" height="3.6" fill="url(#g77)"/><rect x="1061.5" y="288.2" width="350.5" height="3.6" fill="url(#g78)"/><rect x="1062" y="291.2" width="353" height="3.6" fill="url(#g79)"/><rect x="1062.5" y="294.2" width="355.5" height="3.6" fill="url(#g80)"/><rect x="1062.5" y="297.2" width="358.5" height="3.6" fill="url(#g81)"/><rect x="1063" y="300.2" width="361" height="3.6" fill="url(#g82)"/><rect x="1063" y="303.2" width="364" height="3.6" fill="url(#g83)"/><rect x="1063.5" y="306.2" width="366.5" height="3.6" fill="url(#g84)"/><rect x="1064" y="309.2" width="369" height="3.6" fill="url(#g85)"/><rect x="1064.5" y="312.2" width="371.5" height="3.6" fill="url(#g86)"/><rect x="1064.5" y="315.2" width="374.5" height="3.6" fill="url(#g87)"/><rect x="1065" y="318.2" width="377" height="3.6" fill="url(#g88)"/><rect x="1065.5" y="321.2" width="379.5" height="3.6" fill="url(#g89)"/><rect x="1065.5" y="324.2" width="382.5" height="3.6" fill="url(#g90)"/><rect x="1066" y="327.2" width="385" height="3.6" fill="url(#g91)"/><rect x="1066.5" y="330.2" width="387.5" height="3.6" fill="url(#g92)"/><rect x="1067" y="333.2" width="390" height="3.6" fill="url(#g93)"/><rect x="1067.5" y="336.2" width="392.5" height="3.6" fill="url(#g94)"/><rect x="1068" y="339.2" width="395" height="3.6" fill="url(#g95)"/><rect x="1068" y="342.2" width="398" height="3.6" fill="url(#g96)"/><rect x="1068.5" y="345.2" width="400.5" height="3.6" fill="url(#g97)"/><rect x="1069" y="348.2" width="403" height="3.6" fill="url(#g98)"/><rect x="1069.5" y="351.2" width="405.5" height="3.6" fill="url(#g99)"/><rect x="1070" y="354.2" width="408" height="3.6" fill="url(#g100)"/><rect x="1070.5" y="357.2" width="410.5" height="3.6" fill="url(#g101)"/><rect x="1071" y="360.2" width="413" height="3.6" fill="url(#g102)"/><rect x="1071.5" y="363.2" width="415.5" height="3.6" fill="url(#g103)"/><rect x="1072" y="366.2" width="418" height="3.6" fill="url(#g104)"/><rect x="1072.5" y="369.2" width="420.5" height="3.6" fill="url(#g105)"/><rect x="1073" y="372.2" width="423" height="3.6" fill="url(#g106)"/><rect x="1073.5" y="375.2" width="425.5" height="3.6" fill="url(#g107)"/><rect x="1074" y="378.2" width="428" height="3.6" fill="url(#g108)"/><rect x="1074.5" y="381.2" width="430.5" height="3.6" fill="url(#g109)"/><rect x="1075" y="384.2" width="433" height="3.6" fill="url(#g110)"/><rect x="1075.5" y="387.2" width="436" height="3.6" fill="url(#g111)"/><rect x="1076" y="390.2" width="438.5" height="3.6" fill="url(#g112)"/><rect x="1076.5" y="393.2" width="441" height="3.6" fill="url(#g113)"/><rect x="1077" y="396.2" width="443.5" height="3.6" fill="url(#g114)"/><rect x="1077.5" y="399.2" width="446" height="3.6" fill="url(#g115)"/><rect x="1078" y="402.2" width="448.5" height="3.6" fill="url(#g116)"/><rect x="1078.5" y="405.2" width="451" height="3.6" fill="url(#g117)"/><rect x="1079" y="408.2" width="453.5" height="3.6" fill="url(#g118)"/><rect x="1079.5" y="411.2" width="456" height="3.6" fill="url(#g119)"/><rect x="1080.5" y="414.2" width="458" height="3.6" fill="url(#g120)"/><rect x="1081" y="417.2" width="460.5" height="3.6" fill="url(#g121)"/><rect x="1081.5" y="420.2" width="463" height="3.6" fill="url(#g122)"/><rect x="1082" y="423.2" width="465.5" height="3.6" fill="url(#g123)"/><rect x="1082.5" y="426.2" width="468" height="3.6" fill="url(#g124)"/><rect x="1083.5" y="429.2" width="470" height="3.6" fill="url(#g125)"/><rect x="1084" y="432.2" width="472.5" height="3.6" fill="url(#g126)"/><rect x="1084.5" y="435.2" width="475" height="3.6" fill="url(#g127)"/><rect x="1085" y="438.2" width="477.5" height="3.6" fill="url(#g128)"/><rect x="1086" y="441.2" width="479.5" height="3.6" fill="url(#g129)"/><rect x="1086.5" y="444.2" width="482" height="3.6" fill="url(#g130)"/><rect x="1087" y="447.2" width="484.5" height="3.6" fill="url(#g131)"/><rect x="1087.5" y="450.2" width="487" height="3.6" fill="url(#g132)"/><rect x="1088.5" y="453.2" width="489" height="3.6" fill="url(#g133)"/><rect x="1089" y="456.2" width="491.5" height="3.6" fill="url(#g134)"/><rect x="1089.5" y="459.2" width="494" height="3.6" fill="url(#g135)"/><rect x="1090.5" y="462.2" width="492.5" height="3.6" fill="url(#g136)"/><rect x="1091" y="465.2" width="491.5" height="3.6" fill="url(#g137)"/><rect x="1092" y="468.2" width="487.5" height="3.6" fill="url(#g138)"/><rect x="1092.5" y="471.2" width="480.5" height="3.6" fill="url(#g139)"/><rect x="1093" y="474.2" width="473.5" height="3.6" fill="url(#g140)"/><rect x="1094" y="477.2" width="466" height="3.6" fill="url(#g141)"/><rect x="1094.5" y="480.2" width="459" height="3.6" fill="url(#g142)"/><rect x="1095.5" y="483.2" width="452" height="3.6" fill="url(#g143)"/><rect x="1096" y="486.2" width="445" height="3.6" fill="url(#g144)"/><rect x="1097" y="489.2" width="437.5" height="3.6" fill="url(#g145)"/><rect x="1097.5" y="492.2" width="430.5" height="3.6" fill="url(#g146)"/><rect x="1098.5" y="495.2" width="423" height="3.6" fill="url(#g147)"/><rect x="1099.5" y="498.2" width="415.5" height="3.6" fill="url(#g148)"/><rect x="1100" y="501.2" width="408.5" height="3.6" fill="url(#g149)"/><rect x="1101" y="504.2" width="401" height="3.6" fill="url(#g150)"/><rect x="1102" y="507.2" width="393.5" height="3.6" fill="url(#g151)"/><rect x="1102.5" y="510.2" width="386.5" height="3.6" fill="url(#g152)"/><rect x="1103.5" y="513.2" width="379.5" height="3.6" fill="url(#g153)"/><rect x="1104.5" y="516.2" width="372" height="3.6" fill="url(#g154)"/><rect x="1105.5" y="519.2" width="364.5" height="3.6" fill="url(#g155)"/><rect x="1106" y="522.2" width="357.5" height="3.6" fill="url(#g156)"/><rect x="1107" y="525.2" width="350" height="3.6" fill="url(#g157)"/><rect x="1108" y="528.2" width="342.5" height="3.6" fill="url(#g158)"/><rect x="1109" y="531.2" width="335" height="3.6" fill="url(#g159)"/><rect x="1110" y="534.2" width="327.5" height="3.6" fill="url(#g160)"/><rect x="1111" y="537.2" width="320" height="3.6" fill="url(#g161)"/><rect x="1112" y="540.2" width="312.5" height="3.6" fill="url(#g162)"/><rect x="1113" y="543.2" width="305.5" height="3.6" fill="url(#g163)"/><rect x="1114" y="546.2" width="298" height="3.6" fill="url(#g164)"/><rect x="1115" y="549.2" width="290.5" height="3.6" fill="url(#g165)"/><rect x="1116" y="552.2" width="283" height="3.6" fill="url(#g166)"/><rect x="1117" y="555.2" width="275.5" height="3.6" fill="url(#g167)"/><rect x="1118.5" y="558.2" width="267.5" height="3.6" fill="url(#g168)"/><rect x="1119.5" y="561.2" width="260" height="3.6" fill="url(#g169)"/><rect x="1120.5" y="564.2" width="252.5" height="3.6" fill="url(#g170)"/><rect x="1121.5" y="567.2" width="245" height="3.6" fill="url(#g171)"/><rect x="1123" y="570.2" width="237" height="3.6" fill="url(#g172)"/><rect x="1124" y="573.2" width="229.5" height="3.6" fill="url(#g173)"/><rect x="1125" y="576.2" width="222.5" height="3.6" fill="url(#g174)"/><rect x="1126.5" y="579.2" width="214.5" height="3.6" fill="url(#g175)"/><rect x="1127.5" y="582.2" width="207" height="3.6" fill="url(#g176)"/><rect x="1128.5" y="585.2" width="199.5" height="3.6" fill="url(#g177)"/><rect x="1130" y="588.2" width="191.5" height="3.6" fill="url(#g178)"/><rect x="1131.5" y="591.2" width="183.5" height="3.6" fill="url(#g179)"/><rect x="1132.5" y="594.2" width="176" height="3.6" fill="url(#g180)"/><rect x="1134" y="597.2" width="168" height="3.6" fill="url(#g181)"/><rect x="1135.5" y="600.2" width="160" height="3.6" fill="url(#g182)"/><rect x="1137" y="603.2" width="152" height="3.6" fill="url(#g183)"/><rect x="1138.5" y="606.2" width="144.5" height="3.6" fill="url(#g184)"/><rect x="1140" y="609.2" width="136.5" height="3.6" fill="url(#g185)"/><rect x="1141.5" y="612.2" width="128.5" height="3.6" fill="url(#g186)"/><rect x="1143" y="615.2" width="120.5" height="3.6" fill="url(#g187)"/><rect x="1145" y="618.2" width="112" height="3.6" fill="url(#g188)"/><rect x="1147" y="621.2" width="103.5" height="3.6" fill="url(#g189)"/><rect x="1148.5" y="624.2" width="95.5" height="3.6" fill="url(#g190)"/><rect x="1151" y="627.2" width="86.5" height="3.6" fill="url(#g191)"/><rect x="1153" y="630.2" width="78" height="3.6" fill="url(#g192)"/><rect x="1155.5" y="633.2" width="69" height="3.6" fill="url(#g193)"/><rect x="1158.5" y="636.2" width="60" height="3.6" fill="url(#g194)"/><rect x="1161.5" y="639.2" width="50.5" height="3.6" fill="url(#g195)"/><rect x="1165" y="642.2" width="40.5" height="3.6" fill="url(#g196)"/><rect x="1168.5" y="645.2" width="30.5" height="3.6" fill="url(#g197)"/><rect x="1171.5" y="648.2" width="21" height="3.6" fill="url(#g198)"/><rect x="1175" y="651.2" width="11" height="3.6" fill="url(#g199)"/></g></g>
<path d="M1181.1 650.2L1181.1 650.2L1181.1 650.1L1181.1 650.1L1181.1 650.1L1181.1 650.1L1181 650.2L1181 650.2L1181 650.2L1181 650.2L1180.9 650.2L1180.9 650.2L1180.9 650.2L1180.8 650.2L1180.8 650.2L1180.7 650.2L1180.7 650.2L1180.7 650.2L1180.7 650.2L1180.6 650.3L1180.6 650.3L1180.6 650.3L1180.5 650.3L1180.5 650.3L1180.4 650.3L1180.4 650.3L1180.3 650.3L1180.2 650.3L1180.2 650.3L1180.1 650.3L1180 650.3L1180 650.3L1179.9 650.3L1179.8 650.3L1179.8 650.3L1179.7 650.2L1179.6 650.2L1179.5 650.2L1179.5 650.2L1179.3 650.1L1179.2 650.1L1179.1 650L1178.9 649.9L1178.8 649.8L1178.6 649.7L1178.4 649.6L1178.2 649.4L1178.1 649.3L1177.9 649.1L1177.6 649L1177.4 648.8L1177.2 648.6L1176.9 648.4L1176.6 648.1L1176.3 647.9L1176 647.6L1175.7 647.3L1175.3 647L1175 646.7L1174.6 646.3L1174.2 645.9L1173.8 645.6L1173.4 645.2L1172.9 644.8L1172.4 644.3L1171.9 643.9L1171.3 643.4L1170.7 642.8L1170.1 642.3L1169.4 641.7L1168.7 641.1L1167.9 640.4L1167.2 639.7L1166.4 639L1165.5 638.3L1164.7 637.5L1163.7 636.6L1162.8 635.7L1161.8 634.7L1160.7 633.6L1159.6 632.5L1158.5 631.3L1157.4 630L1156.2 628.6L1154.9 627L1153.6 625.2L1152.2 623.2L1150.7 620.9L1149 618.4L1147.3 615.6L1145.5 612.4L1143.6 609L1141.6 605.3L1139.6 601.2L1137.4 596.7L1135.1 591.7L1132.8 586.2L1130.3 580.3L1127.7 573.7L1125 566.6L1122.1 559L1119.1 550.7L1116 541.7L1112.7 532L1109.4 521.6L1106 510.4L1102.6 498.4L1099.3 485.7L1096 472.3L1092.7 458.1L1089.4 443.1L1086.1 427.4L1082.8 411L1079.6 394.1L1076.6 376.7L1073.7 359L1071 341.1L1068.6 323.2L1066.4 305.1L1064.5 287.1L1062.8 269.3L1061.5 251.7L1060.5 234.5L1059.8 217.8L1059.6 201.7L1059.8 186.2L1060.3 171.1L1061.3 156.7L1062.7 142.9L1064.6 130L1066.9 118.1L1069.7 107.1L1072.9 97L1076.4 88.1L1080.4 80.4L1084.7 73.9L1089.3 68.7L1094.2 64.5L1099.3 61.5L1104.6 59.5L1110 58.4L1115.5 58.2L1121.1 58.7L1126.8 59.9L1132.6 61.7L1138.4 63.8L1144.2 66.2L1150.1 69L1155.9 72L1161.6 75.1L1167.3 78.3L1172.9 81.6L1178.4 85L1183.8 88.4L1189.2 92L1194.5 95.6L1199.8 99.4L1205.1 103.2L1210.3 107.1L1215.5 111L1220.7 115.1L1225.9 119.3L1231.1 123.5L1236.2 127.8L1241.4 132.1L1246.5 136.5L1251.6 141L1256.7 145.5L1261.8 150.1L1266.9 154.7L1272 159.4L1277.1 164.1L1282.2 168.8L1287.3 173.6L1292.4 178.4L1297.5 183.3L1302.6 188.2L1307.7 193L1312.8 198L1317.9 202.9L1323 207.8L1328.1 212.8L1333.2 217.8L1338.3 222.8L1343.4 227.7L1348.4 232.7L1353.5 237.7L1358.5 242.7L1363.6 247.7L1368.6 252.7L1373.6 257.6L1378.6 262.6L1383.6 267.5L1388.5 272.5L1393.5 277.4L1398.4 282.3L1403.2 287.1L1408.1 292L1412.9 296.8L1417.7 301.5L1422.4 306.3L1427.1 311L1431.8 315.6L1436.4 320.2L1440.9 324.7L1445.4 329.2L1449.9 333.7L1454.3 338L1458.6 342.4L1462.9 346.6L1467.1 350.8L1471.2 354.9L1475.3 359L1479.3 363L1483.1 366.8L1486.9 370.6L1490.5 374.2L1494.1 377.7L1497.5 381.2L1500.8 384.5L1504.1 387.7L1507.3 390.9L1510.4 394L1513.4 397.1L1516.4 400L1519.2 402.8L1521.9 405.5L1524.5 408.1L1527 410.5L1529.4 412.9L1531.7 415.2L1533.9 417.4L1536 419.5L1538.1 421.6L1540 423.5L1541.9 425.4L1543.7 427.2L1545.4 428.9L1547 430.5L1548.6 432.1L1550 433.5L1551.5 435L1552.8 436.3L1554.1 437.6L1555.3 438.8L1556.5 440L1557.7 441.1L1558.7 442.2L1559.8 443.2L1560.8 444.2L1561.7 445.2L1562.7 446.1L1563.6 447L1564.5 447.9L1565.3 448.7L1566.1 449.5L1566.9 450.3L1567.6 451.1L1568.3 451.8L1569 452.5L1569.7 453.1L1570.3 453.7L1570.9 454.3L1571.5 454.9L1572 455.4L1572.5 456L1573 456.4L1573.4 456.9L1573.9 457.3L1574.3 457.7L1574.6 458.1L1575 458.4L1575.3 458.8L1575.7 459.1L1576 459.4L1576.3 459.7L1576.5 460L1576.8 460.2L1577 460.5L1577.3 460.7L1577.5 460.9L1577.7 461.1L1577.8 461.3L1578 461.4L1578.1 461.6L1578.3 461.7L1578.4 461.8L1578.5 462L1578.7 462.1L1578.8 462.2L1578.9 462.3L1579 462.5L1579.1 462.6L1579.2 462.7L1579.3 462.8L1579.4 462.9L1579.5 463L1579.6 463.1L1579.7 463.2L1579.8 463.3L1579.9 463.4L1580 463.5L1580.1 463.5L1580.2 463.6L1580.3 463.7L1580.4 463.8L1580.4 463.9L1580.5 463.9L1580.5 464L1580.6 464L1580.6 464.1L1580.7 464.1L1580.7 464.1L1580.7 464.1L1580.7 464.2L1580.8 464.2L1580.8 464.2L1580.8 464.2L1580.8 464.3L1580.8 464.3L1580.8 464.3Z" fill="none" stroke="#000" stroke-width="2" stroke-linejoin="round"/>
<path d="M1181.1 650.2L1179.1 659.4M1181.1 650.1L1182.7 655.4M1180.9 650.2L1180.3 659.7M1180.7 650.2L1182.9 655.2M1180.6 650.3L1183.4 659.4M1180.4 650.3L1180.1 655.8M1180 650.3L1180.1 659.8M1179.7 650.2L1178.6 655.6M1179.2 650.1L1174.8 658.5M1178.4 649.6L1175.2 654M1177.4 648.8L1171.5 656.2M1176 647.6L1172.3 651.7M1174.2 645.9L1167.8 653M1171.9 643.9L1168.2 648M1168.7 641.1L1162.4 648.2M1164.7 637.5L1160.9 641.5M1159.6 632.5L1152.7 639M1153.6 625.2L1149.2 628.5M1145.5 612.4L1137.2 617.1M1135.1 591.7L1130.1 593.9M1122.1 559L1113.2 562.2M1106 510.4L1100.7 511.9M1089.4 443.1L1080.1 445.1M1073.7 359L1068.3 359.9M1062.8 269.3L1053.4 270.1M1059.8 186.2L1054.3 186M1066.9 118.1L1057.6 116M1084.7 73.9L1080.3 70.6M1110 58.4L1108.8 48.9M1138.4 63.8L1140.4 58.7M1167.3 78.3L1172.1 70.1M1194.5 95.6L1197.7 91.1M1220.7 115.1L1226.6 107.7M1246.5 136.5L1250.1 132.4M1272 159.4L1278.5 152.4M1297.5 183.3L1301.3 179.3M1323 207.8L1329.6 201M1348.4 232.7L1352.3 228.8M1373.6 257.6L1380.3 250.9M1398.4 282.3L1402.3 278.4M1422.4 306.3L1429.1 299.5M1445.4 329.2L1449.3 325.3M1467.1 350.8L1473.8 344.1M1486.9 370.6L1490.8 366.7M1504.1 387.7L1510.8 381M1519.2 402.8L1523.1 398.9M1531.7 415.2L1538.4 408.5M1541.9 425.4L1545.8 421.5M1550 433.5L1556.8 426.8M1556.5 440L1560.4 436.1M1561.7 445.2L1568.5 438.5M1566.1 449.5L1570 445.7M1569.7 453.1L1576.4 446.4M1572.5 456L1576.4 452.1M1574.6 458.1L1581.3 451.3M1576.3 459.7L1580.1 455.8M1577.5 460.9L1584.2 454.2M1578.3 461.7L1582.2 457.8M1578.9 462.3L1585.6 455.6M1579.4 462.9L1583.3 459M1579.9 463.4L1586.6 456.6M1580.4 463.8L1584.3 459.9M1580.6 464.1L1587.3 457.3M1580.8 464.2L1584.7 460.3M1580.8 464.3L1587.6 457.6" stroke="#000" stroke-width="1.7" fill="none" clip-path="url(#fc)"/>
<path d="M1561.3 445.6L1179.3 86.4L1150.8 618.4Z" fill="none" stroke="#000" stroke-width="5" stroke-linejoin="round"/>
<circle cx="1561.3" cy="445.6" r="7.2" fill="#000"/>
<circle cx="1179.3" cy="86.4" r="7.2" fill="#000"/>
<circle cx="1150.8" cy="618.4" r="7.2" fill="#000"/>
<circle cx="1194.7" cy="108.7" r="4.8" fill="#f4143c"/>
<g font-family="'Liberation Serif', 'Times New Roman', Times, serif" font-size="23.2" fill="#0000f0">
<text x="1092.2" y="44.1">520</text>
<text x="1225.8" y="103.8">540</text>
<text x="1328.8" y="195.4">560</text>
<text x="1427.4" y="295.6">580</text>
<text x="1510" y="376.3">600</text>
<text x="1555.3" y="421.3">620</text>
<text x="1592.6" y="470.6">700</text>
<text x="1016.6" y="277.3">500</text>
<text x="1057.6" y="464.8">490</text>
<text x="1076.5" y="570.9">480</text>
<text x="1100" y="623.9">470</text>
<text x="1112.6" y="650.2" font-size="26.6">460</text>
<text x="1190.9" y="661">380</text>
</g>
<g font-family="'Liberation Serif', 'Times New Roman', Times, serif" font-size="23.4" fill="#000">
<text x="1021.2" y="657.7">0.0</text>
<text x="1021.2" y="589.2">0.1</text>
<text x="1021.2" y="519">0.2</text>
<text x="1021.2" y="447.7">0.3</text>
<text x="1021.2" y="377">0.4</text>
<text x="1021.2" y="303.6">0.5</text>
<text x="1021.2" y="233.1">0.6</text>
<text x="1021.2" y="162.3">0.7</text>
<text x="1021.2" y="91.9">0.8</text>
<text x="1021.2" y="21.5">0.9</text>
<text x="1058.3" y="679.5" text-anchor="middle">0.0</text>
<text x="1129.2" y="679.5" text-anchor="middle">0.1</text>
<text x="1200.1" y="679.5" text-anchor="middle">0.2</text>
<text x="1271" y="679.5" text-anchor="middle">0.3</text>
<text x="1341.9" y="679.5" text-anchor="middle">0.4</text>
<text x="1412.8" y="679.5" text-anchor="middle">0.5</text>
<text x="1483.7" y="679.5" text-anchor="middle">0.6</text>
<text x="1554.6" y="679.5" text-anchor="middle">0.7</text>
<text x="1625.5" y="679.5" text-anchor="middle">0.8</text>
<text x="1012.4" y="335" font-size="27">y</text>
<text x="1370.6" y="688.7" font-size="27">x</text>
</g>
<rect x="1057.3" y="11.1" width="570.5" height="642.5" fill="none" stroke="#000" stroke-width="5"/>
</g>
<g id="photo">
<defs><linearGradient id="vg" x1="0" x2="1" y1="0" y2="0"><stop offset="0" stop-color="#0f9a1e"/><stop offset=".06" stop-color="#27e23c"/><stop offset=".2" stop-color="#34ee48"/><stop offset=".5" stop-color="#26e23a"/><stop offset=".84" stop-color="#2fe640"/><stop offset=".875" stop-color="#86de34"/><stop offset=".925" stop-color="#a2d62c"/><stop offset=".955" stop-color="#35e040"/><stop offset="1" stop-color="#0f9a1e"/></linearGradient><linearGradient id="vs" gradientUnits="userSpaceOnUse" x1="0" x2="0" y1="52" y2="157"><stop offset="0" stop-color="#c8ffc0" stop-opacity=".55"/><stop offset=".1" stop-color="#b0ffa8" stop-opacity=".45"/><stop offset=".15" stop-color="#60ff60" stop-opacity="0"/><stop offset=".78" stop-color="#fff" stop-opacity="0"/><stop offset=".815" stop-color="#b8ffb0" stop-opacity=".6"/><stop offset=".86" stop-color="#0c8a18" stop-opacity=".25"/><stop offset="1" stop-color="#0a7a14" stop-opacity=".45"/></linearGradient><linearGradient id="cg" x1="0" x2="1" y1="0" y2="0"><stop offset="0" stop-color="#020402"/><stop offset=".06" stop-color="#0d3412"/><stop offset=".13" stop-color="#04100a"/><stop offset=".2" stop-color="#020302"/><stop offset=".78" stop-color="#030302"/><stop offset=".86" stop-color="#6a3410"/><stop offset=".93" stop-color="#8a4a16"/><stop offset=".97" stop-color="#2a1606"/><stop offset="1" stop-color="#020202"/></linearGradient><linearGradient id="ck" x1="0" x2="0" y1="0" y2="1"><stop offset="0" stop-color="#020302"/><stop offset=".3" stop-color="#020302" stop-opacity=".9"/><stop offset=".55" stop-color="#020302" stop-opacity="0"/><stop offset="1" stop-color="#020302" stop-opacity=".2"/></linearGradient><linearGradient id="rg" x1="0" x2="0" y1="0" y2="1"><stop offset="0" stop-color="#0e8a1a"/><stop offset="1" stop-color="#053a09"/></linearGradient><filter id="b2" x="-20%" y="-20%" width="140%" height="140%"><feGaussianBlur stdDeviation="1.4"/></filter><filter id="b1" x="-10%" y="-10%" width="120%" height="120%"><feGaussianBlur stdDeviation=".6"/></filter><clipPath id="pc"><rect x="1324.8" y="18.4" width="68.2" height="149.8"/></clipPath></defs>
<rect x="1324.8" y="18.4" width="68.2" height="149.8" fill="#020302"/>
<g clip-path="url(#pc)">
<rect x="1334" y="153" width="46" height="16" fill="url(#rg)" opacity=".85" filter="url(#b2)"/>
<rect x="1329.5" y="52" width="53.5" height="104" rx="9" fill="#0c6a16" opacity=".55" filter="url(#b2)"/>
<g filter="url(#b1)">
<path d="M1331.3 50V142Q1331.3 156.3 1346 156.3H1366Q1380.9 156.3 1380.9 142V50Z" fill="url(#vg)"/>
<path d="M1331.3 50V142Q1331.3 156.3 1346 156.3H1366Q1380.9 156.3 1380.9 142V50Z" fill="url(#vs)"/>
<path d="M1333 56Q1356.5 70 1379.5 56" fill="none" stroke="#c9ffb8" stroke-width="1.6" opacity=".6"/>
<path d="M1332.5 137.5Q1356 146 1380 137.5" fill="none" stroke="#a8ff9c" stroke-width="2.2" opacity=".8"/>
<path d="M1328.8 19.5H1384.1V50Q1356.5 68 1328.8 50Z" fill="url(#cg)"/>
<path d="M1328.8 19.5H1384.1V50Q1356.5 68 1328.8 50Z" fill="url(#ck)"/>
</g>
</g>
</g>
<g id="inset">
<rect x="1438.2" y="26.4" width="169.8" height="125.3" fill="#fff" stroke="#222" stroke-width="1"/>
<path d="M1438.2 151.7v2.6M1455.2 151.7v1.5M1472.2 151.7v2.6M1489.1 151.7v1.5M1506.1 151.7v2.6M1523.1 151.7v1.5M1540.1 151.7v2.6M1557.1 151.7v1.5M1574 151.7v2.6M1591 151.7v1.5M1608 151.7v2.6" stroke="#222" stroke-width="1" fill="none"/>
<g font-family="'Liberation Sans', Arial, Helvetica, sans-serif" font-weight="700" font-size="5.7" text-anchor="middle" fill="#222">
<text x="1438.2" y="161.6">400</text>
<text x="1472.2" y="161.6">450</text>
<text x="1506.1" y="161.6">500</text>
<text x="1540.1" y="161.6">550</text>
<text x="1574" y="161.6">600</text>
<text x="1608" y="161.6">650</text>
</g>
<text x="1522.8" y="175.1" font-family="'Liberation Sans', Arial, Helvetica, sans-serif" font-weight="700" font-size="13.4" text-anchor="middle" fill="#111">Wavelength (nm)</text>
<text transform="translate(1425.2 91.6) rotate(-90)" font-family="'Liberation Sans', Arial, Helvetica, sans-serif" font-weight="700" font-size="13.4" text-anchor="middle" fill="#111">PL Intensity (a.u.)</text>
<path d="M1472.2 145.4L1472.8 145.4L1473.5 145.4L1474.2 145.4L1474.9 145.4L1475.6 145.4L1476.2 145.4L1476.9 145.4L1477.6 145.4L1478.3 145.4L1479 145.4L1479.6 145.4L1480.3 145.4L1481 145.4L1481.7 145.4L1482.3 145.4L1483 145.4L1483.7 145.4L1484.4 145.4L1485.1 145.4L1485.7 145.4L1486.4 145.4L1487.1 145.4L1487.8 145.4L1488.5 145.4L1489.1 145.3L1489.8 145.3L1490.5 145.3L1491.2 145.3L1491.9 145.3L1492.5 145.3L1493.2 145.3L1493.9 145.2L1494.6 145.2L1495.3 145.2L1495.9 145.2L1496.6 145.1L1497.3 145.1L1498 145.1L1498.6 145L1499.3 144.9L1500 144.9L1500.7 144.8L1501.4 144.7L1502 144.6L1502.7 144.4L1503.4 144.2L1504.1 144L1504.8 143.7L1505.4 143.4L1506.1 142.9L1506.8 142.4L1507.5 141.8L1508.2 141L1508.8 140.1L1509.5 138.9L1510.2 137.6L1510.9 136L1511.6 134.2L1512.2 132L1512.9 129.5L1513.6 126.7L1514.3 123.5L1514.9 120L1515.6 116L1516.3 111.7L1517 107L1517.7 101.9L1518.3 96.6L1519 91L1519.7 85.2L1520.4 79.3L1521.1 73.3L1521.7 67.4L1522.4 61.7L1523.1 56.3L1523.8 51.3L1524.5 46.8L1525.1 42.9L1525.8 39.8L1526.5 37.5L1527.2 36.1L1527.9 35.6L1528.5 36.1L1529.2 37.7L1529.9 40.3L1530.6 43.8L1531.3 47.9L1531.9 52.7L1532.6 57.9L1533.3 63.4L1534 69L1534.6 74.7L1535.3 80.4L1536 85.9L1536.7 91.3L1537.4 96.4L1538 101.2L1538.7 105.8L1539.4 110L1540.1 113.8L1540.8 117.4L1541.4 120.6L1542.1 123.4L1542.8 126L1543.5 128.3L1544.2 130.3L1544.8 132.1L1545.5 133.6L1546.2 135L1546.9 136.2L1547.6 137.2L1548.2 138.1L1548.9 138.8L1549.6 139.5L1550.3 140.1L1550.9 140.6L1551.6 141L1552.3 141.4L1553 141.8L1553.7 142.1L1554.3 142.4L1555 142.6L1555.7 142.8L1556.4 143.1L1557.1 143.3L1557.7 143.4L1558.4 143.6L1559.1 143.8L1559.8 143.9L1560.5 144.1L1561.1 144.2L1561.8 144.3L1562.5 144.4L1563.2 144.6L1563.9 144.7L1564.5 144.8L1565.2 144.9L1565.9 145L1566.6 145.1L1567.2 145.1L1567.9 145.2L1568.6 145.3L1569.3 145.4L1570 145.5L1570.6 145.5L1571.3 145.6L1572 145.7L1572.7 145.7L1573.4 145.8L1574 145.9L1574.7 145.9L1575.4 146L1576.1 146L1576.8 146.1L1577.4 146.1L1578.1 146.2L1578.8 146.2L1579.5 146.3L1580.2 146.3L1580.8 146.4L1581.5 146.4L1582.2 146.4L1582.9 146.5L1583.5 146.5L1584.2 146.6L1584.9 146.6L1585.6 146.6L1586.3 146.7L1586.9 146.7L1587.6 146.7L1588.3 146.8L1589 146.8L1589.7 146.8L1590.3 146.9L1591 146.9" fill="none" stroke="#111" stroke-width="1.4" stroke-linejoin="round"/>
</g>
<g id="legend-b">
<defs><filter id="sh" x="-20%" y="-30%" width="140%" height="180%"><feGaussianBlur stdDeviation="3"/></filter><filter id="sh2" filterUnits="userSpaceOnUse" x="1530" y="575" width="60" height="60"><feGaussianBlur stdDeviation="1.7"/></filter></defs>
<rect x="1435" y="573" width="160" height="59" fill="#555" opacity=".85" filter="url(#sh)"/>
<rect x="1435.6" y="565.6" width="157.4" height="59.5" fill="#fcf9f8"/>
<path d="M1545 592.6H1574" stroke="#777" stroke-width="4.5" filter="url(#sh2)"/>
<circle cx="1560.5" cy="618" r="5.5" fill="#666" filter="url(#sh2)"/>
<path d="M1544.6 584.7H1573.2" stroke="#000" stroke-width="3.9"/>
<circle cx="1559.5" cy="610.7" r="5.5" fill="#f80d14"/>
<g font-family="'Liberation Sans', Arial, Helvetica, sans-serif" font-weight="700" font-size="15.8" fill="#000">
<text x="1447" y="589.3" textLength="74.2" lengthAdjust="spacingAndGlyphs">rec. 2020</text>
<text x="1439.3" y="614.6" textLength="89.4" lengthAdjust="spacingAndGlyphs">(0.19, 0.77)</text>
</g>
</g>
</svg></body></html>
